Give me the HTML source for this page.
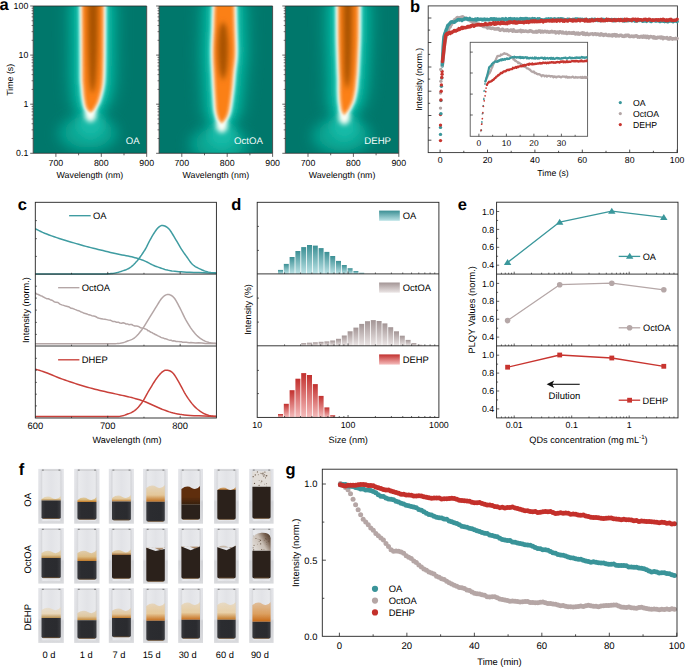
<!DOCTYPE html><html><head><meta charset="utf-8"><style>html,body{margin:0;padding:0;background:#fff;overflow:hidden}svg{display:block}text{font-family:"Liberation Sans",sans-serif;text-rendering:geometricPrecision}</style></head><body><svg width="685" height="668" viewBox="0 0 685 668"><defs><filter id="bl7" x="-50%" y="-50%" width="200%" height="200%"><feGaussianBlur stdDeviation="7"/></filter><filter id="bl4" x="-50%" y="-50%" width="200%" height="200%"><feGaussianBlur stdDeviation="3.5"/></filter><filter id="bl2" x="-50%" y="-50%" width="200%" height="200%"><feGaussianBlur stdDeviation="1.6"/></filter><filter id="bl1" x="-50%" y="-50%" width="200%" height="200%"><feGaussianBlur stdDeviation="0.9"/></filter><filter id="bl5" x="-50%" y="-50%" width="200%" height="200%"><feGaussianBlur stdDeviation="5"/></filter><filter id="bl3" x="-50%" y="-50%" width="200%" height="200%"><feGaussianBlur stdDeviation="2.6"/></filter><clipPath id="ca0"><rect x="33.2" y="6" width="113.5" height="147.3"/></clipPath><clipPath id="ca1"><rect x="159.1" y="6" width="113.5" height="147.3"/></clipPath><clipPath id="ca2"><rect x="285.3" y="6" width="113.5" height="147.3"/></clipPath><linearGradient id="gd0" x1="0" y1="0" x2="0" y2="1"><stop offset="0" stop-color="#3b8f94"/><stop offset="1" stop-color="#bce3e6"/></linearGradient><linearGradient id="gd1" x1="0" y1="0" x2="0" y2="1"><stop offset="0" stop-color="#a39595"/><stop offset="1" stop-color="#ece6e6"/></linearGradient><linearGradient id="gd2" x1="0" y1="0" x2="0" y2="1"><stop offset="0" stop-color="#c2302e"/><stop offset="1" stop-color="#f5bcbc"/></linearGradient><linearGradient id="fbg" x1="0" y1="0" x2="0" y2="1"><stop offset="0" stop-color="#e3e4e8"/><stop offset="0.56" stop-color="#dfe0e4"/><stop offset="0.6" stop-color="#d2d3d7"/><stop offset="1" stop-color="#d9dadd"/></linearGradient><linearGradient id="fgl" x1="0" y1="0" x2="1" y2="0"><stop offset="0" stop-color="#d2d3d7"/><stop offset="0.1" stop-color="#e9eaed"/><stop offset="0.5" stop-color="#e2e3e7"/><stop offset="0.9" stop-color="#e8e9ec"/><stop offset="1" stop-color="#cfd0d4"/></linearGradient><linearGradient id="fdk" x1="0" y1="0" x2="1" y2="0"><stop offset="0" stop-color="#38393d"/><stop offset="0.2" stop-color="#2b2c30"/><stop offset="0.8" stop-color="#2a2b2f"/><stop offset="1" stop-color="#3b3c40"/></linearGradient><linearGradient id="f90" x1="0" y1="0.7" x2="1" y2="0.1"><stop offset="0" stop-color="#e0dbd6"/><stop offset="0.45" stop-color="#c9beb4"/><stop offset="0.75" stop-color="#7a6454"/><stop offset="1" stop-color="#4a3628"/></linearGradient><filter id="fb" x="-20%" y="-20%" width="140%" height="140%"><feGaussianBlur stdDeviation="0.6"/></filter><linearGradient id="fbd00" x1="0" y1="0" x2="0" y2="1"><stop offset="0" stop-color="#e3cfa4" stop-opacity="0.55"/><stop offset="0.6" stop-color="#e3cfa4"/><stop offset="1" stop-color="#b98a45"/></linearGradient><linearGradient id="fbd01" x1="0" y1="0" x2="0" y2="1"><stop offset="0" stop-color="#d9b878" stop-opacity="0.55"/><stop offset="0.6" stop-color="#d9b878"/><stop offset="1" stop-color="#c27a28"/></linearGradient><linearGradient id="fbd02" x1="0" y1="0" x2="0" y2="1"><stop offset="0" stop-color="#e2c89a" stop-opacity="0.55"/><stop offset="0.6" stop-color="#e2c89a"/><stop offset="1" stop-color="#c08035"/></linearGradient><linearGradient id="fbd03" x1="0" y1="0" x2="0" y2="1"><stop offset="0" stop-color="#e4c89a" stop-opacity="0.55"/><stop offset="0.6" stop-color="#e4c89a"/><stop offset="1" stop-color="#c06f1e"/></linearGradient><linearGradient id="fbd04" x1="0" y1="0" x2="0" y2="1"><stop offset="0" stop-color="#5e2e10" stop-opacity="1"/><stop offset="0.6" stop-color="#5e2e10"/><stop offset="1" stop-color="#36200f"/></linearGradient><linearGradient id="fbd05" x1="0" y1="0" x2="0" y2="1"><stop offset="0" stop-color="#c89050" stop-opacity="0.55"/><stop offset="0.6" stop-color="#c89050"/><stop offset="1" stop-color="#7a4a20"/></linearGradient><linearGradient id="fbd06" x1="0" y1="0" x2="0" y2="1"><stop offset="0" stop-color="#5a3a28" stop-opacity="0.55"/><stop offset="0.6" stop-color="#5a3a28"/><stop offset="1" stop-color="#4a3022"/></linearGradient><linearGradient id="fbd10" x1="0" y1="0" x2="0" y2="1"><stop offset="0" stop-color="#e0c898" stop-opacity="0.55"/><stop offset="0.6" stop-color="#e0c898"/><stop offset="1" stop-color="#b88a48"/></linearGradient><linearGradient id="fbd11" x1="0" y1="0" x2="0" y2="1"><stop offset="0" stop-color="#dcbc84" stop-opacity="0.55"/><stop offset="0.6" stop-color="#dcbc84"/><stop offset="1" stop-color="#c07a2a"/></linearGradient><linearGradient id="fbd12" x1="0" y1="0" x2="0" y2="1"><stop offset="0" stop-color="#dcc090" stop-opacity="0.55"/><stop offset="0.6" stop-color="#dcc090"/><stop offset="1" stop-color="#9a6a3a"/></linearGradient><linearGradient id="fbd13" x1="0" y1="0" x2="0" y2="1"><stop offset="0" stop-color="#b09070" stop-opacity="0.55"/><stop offset="0.6" stop-color="#b09070"/><stop offset="1" stop-color="#7a5a40"/></linearGradient><linearGradient id="fbd14" x1="0" y1="0" x2="0" y2="1"><stop offset="0" stop-color="#b09070" stop-opacity="0.55"/><stop offset="0.6" stop-color="#b09070"/><stop offset="1" stop-color="#7a5a40"/></linearGradient><linearGradient id="fbd15" x1="0" y1="0" x2="0" y2="1"><stop offset="0" stop-color="#c8b8a8" stop-opacity="0.55"/><stop offset="0.6" stop-color="#c8b8a8"/><stop offset="1" stop-color="#7a5a40"/></linearGradient><linearGradient id="fbd16" x1="0" y1="0" x2="0" y2="1"><stop offset="0" stop-color="#6a5040" stop-opacity="0.55"/><stop offset="0.6" stop-color="#6a5040"/><stop offset="1" stop-color="#5a4030"/></linearGradient><linearGradient id="fbd20" x1="0" y1="0" x2="0" y2="1"><stop offset="0" stop-color="#e8d8bc" stop-opacity="0.55"/><stop offset="0.6" stop-color="#e8d8bc"/><stop offset="1" stop-color="#b89050"/></linearGradient><linearGradient id="fbd21" x1="0" y1="0" x2="0" y2="1"><stop offset="0" stop-color="#e0c8a0" stop-opacity="0.55"/><stop offset="0.6" stop-color="#e0c8a0"/><stop offset="1" stop-color="#c58a3a"/></linearGradient><linearGradient id="fbd22" x1="0" y1="0" x2="0" y2="1"><stop offset="0" stop-color="#e2c8a0" stop-opacity="0.55"/><stop offset="0.6" stop-color="#e2c8a0"/><stop offset="1" stop-color="#c27a2a"/></linearGradient><linearGradient id="fbd23" x1="0" y1="0" x2="0" y2="1"><stop offset="0" stop-color="#e6c898" stop-opacity="0.55"/><stop offset="0.6" stop-color="#e6c898"/><stop offset="1" stop-color="#c66e1c"/></linearGradient><linearGradient id="fbd24" x1="0" y1="0" x2="0" y2="1"><stop offset="0" stop-color="#e6cca0" stop-opacity="0.55"/><stop offset="0.6" stop-color="#e6cca0"/><stop offset="1" stop-color="#c8701e"/></linearGradient><linearGradient id="fbd25" x1="0" y1="0" x2="0" y2="1"><stop offset="0" stop-color="#e8d0a8" stop-opacity="0.55"/><stop offset="0.6" stop-color="#e8d0a8"/><stop offset="1" stop-color="#c27828"/></linearGradient><linearGradient id="fbd26" x1="0" y1="0" x2="0" y2="1"><stop offset="0" stop-color="#dca060" stop-opacity="0.55"/><stop offset="0.6" stop-color="#dca060"/><stop offset="1" stop-color="#c86a18"/></linearGradient></defs><text x="-0.6" y="10" font-size="16.5" font-weight="bold" fill="#000">a</text>
<text x="410" y="11.8" font-size="16.5" font-weight="bold" fill="#000">b</text>
<text x="17.8" y="210" font-size="16.5" font-weight="bold" fill="#000">c</text>
<text x="231.2" y="210" font-size="16.5" font-weight="bold" fill="#000">d</text>
<text x="457.8" y="209.8" font-size="16.5" font-weight="bold" fill="#000">e</text>
<text x="18.8" y="474.5" font-size="16.5" font-weight="bold" fill="#000">f</text>
<text x="285.6" y="474.5" font-size="16.5" font-weight="bold" fill="#000">g</text>
<g clip-path="url(#ca0)">
<rect x="33.2" y="6" width="113.5" height="147.3" fill="#00776b"/>
<ellipse cx="87.5" cy="134" rx="30" ry="15" fill="#069a88" filter="url(#bl7)"/>
<path d="M66.4,1 L66.39,1.31 L66.38,1.62 L66.38,2.88 L66.4,6 L66.46,11.74 L66.54,19.44 L66.63,27.91 L66.7,36 L66.76,43.88 L66.81,52 L66.86,59.62 L66.9,66 L66.92,70.78 L66.93,74.41 L66.94,77.33 L67,80 L67.11,82.33 L67.27,84.16 L67.44,85.78 L67.6,87.5 L67.74,89.38 L67.87,91.25 L68.01,93.12 L68.2,95 L68.44,96.96 L68.73,98.99 L69.03,100.89 L69.3,102.5 L69.52,103.7 L69.72,104.61 L69.93,105.39 L70.2,106.2 L70.15,106.7 L69.89,106.93 L70.18,107.62 L71.8,109.5 L75.71,113.49 L81.25,118.96 L86.74,124.32 L90.5,128 L94.3,124.32 L99.84,118.96 L105.43,113.49 L109.4,109.5 L111.05,107.62 L111.36,106.93 L111.14,106.7 L111.2,106.2 L111.68,105.39 L112.16,104.61 L112.67,103.7 L113.2,102.5 L113.79,100.89 L114.42,98.99 L115.04,96.96 L115.6,95 L116.09,93.12 L116.54,91.25 L116.95,89.38 L117.3,87.5 L117.59,85.78 L117.82,84.16 L118.02,82.33 L118.2,80 L118.36,77.33 L118.49,74.41 L118.6,70.78 L118.7,66 L118.79,59.62 L118.88,52 L118.94,43.88 L119,36 L119.04,27.91 L119.07,19.44 L119.09,11.74 L119.1,6 L119.11,2.88 L119.11,1.62 L119.1,1.31 L119.1,1Z" fill="#049986" filter="url(#bl7)"/>
<path d="M73.4,1 L73.39,1.31 L73.38,1.62 L73.38,2.88 L73.4,6 L73.46,11.74 L73.54,19.44 L73.63,27.91 L73.7,36 L73.76,43.88 L73.81,52 L73.86,59.62 L73.9,66 L73.92,70.78 L73.93,74.41 L73.94,77.33 L74,80 L74.11,82.33 L74.27,84.16 L74.44,85.78 L74.6,87.5 L74.74,89.38 L74.87,91.25 L75.01,93.12 L75.2,95 L75.44,96.96 L75.73,98.99 L76.03,100.89 L76.3,102.5 L76.52,103.7 L76.72,104.61 L76.93,105.39 L77.2,106.2 L77.31,106.86 L77.33,107.36 L77.67,108.11 L78.8,109.5 L81.29,112.07 L84.75,115.46 L88.16,118.74 L90.5,121 L92.88,118.74 L96.34,115.46 L99.86,112.07 L102.4,109.5 L103.56,108.11 L103.92,107.36 L103.97,106.86 L104.2,106.2 L104.68,105.39 L105.16,104.61 L105.67,103.7 L106.2,102.5 L106.79,100.89 L107.42,98.99 L108.04,96.96 L108.6,95 L109.09,93.12 L109.54,91.25 L109.95,89.38 L110.3,87.5 L110.59,85.78 L110.82,84.16 L111.02,82.33 L111.2,80 L111.36,77.33 L111.49,74.41 L111.6,70.78 L111.7,66 L111.79,59.62 L111.88,52 L111.94,43.88 L112,36 L112.04,27.91 L112.07,19.44 L112.09,11.74 L112.1,6 L112.11,2.88 L112.11,1.62 L112.1,1.31 L112.1,1Z" fill="#0ab7a3" filter="url(#bl5)"/>
<ellipse cx="88.5" cy="132" rx="24" ry="16" fill="#0aa995" filter="url(#bl7)"/>
<ellipse cx="90.5" cy="124" rx="13" ry="13" fill="#14bba8" filter="url(#bl5)"/>
<path d="M77.9,1 L77.89,1.31 L77.88,1.62 L77.88,2.88 L77.9,6 L77.96,11.74 L78.04,19.44 L78.13,27.91 L78.2,36 L78.26,43.88 L78.31,52 L78.36,59.62 L78.4,66 L78.42,70.78 L78.43,74.41 L78.44,77.33 L78.5,80 L78.61,82.33 L78.77,84.16 L78.94,85.78 L79.1,87.5 L79.24,89.38 L79.37,91.25 L79.51,93.12 L79.7,95 L79.94,96.96 L80.23,98.99 L80.53,100.89 L80.8,102.5 L81.02,103.7 L81.22,104.61 L81.43,105.39 L81.7,106.2 L81.92,106.97 L82.11,107.64 L82.49,108.42 L83.3,109.5 L84.88,111.15 L87,113.21 L89.08,115.16 L90.5,116.5 L91.96,115.16 L94.09,113.21 L96.27,111.15 L97.9,109.5 L98.74,108.42 L99.14,107.64 L99.37,106.97 L99.7,106.2 L100.18,105.39 L100.66,104.61 L101.17,103.7 L101.7,102.5 L102.29,100.89 L102.92,98.99 L103.54,96.96 L104.1,95 L104.59,93.12 L105.04,91.25 L105.45,89.38 L105.8,87.5 L106.09,85.78 L106.32,84.16 L106.52,82.33 L106.7,80 L106.86,77.33 L106.99,74.41 L107.1,70.78 L107.2,66 L107.29,59.62 L107.38,52 L107.44,43.88 L107.5,36 L107.54,27.91 L107.57,19.44 L107.59,11.74 L107.6,6 L107.61,2.88 L107.61,1.62 L107.6,1.31 L107.6,1Z" fill="#1ccab7" filter="url(#bl3)"/>
<path d="M78.8,1 L78.79,1.31 L78.78,1.62 L78.78,2.88 L78.8,6 L78.86,11.74 L78.94,19.44 L79.03,27.91 L79.1,36 L79.16,43.88 L79.21,52 L79.26,59.62 L79.3,66 L79.32,70.78 L79.33,74.41 L79.34,77.33 L79.4,80 L79.51,82.33 L79.67,84.16 L79.84,85.78 L80,87.5 L80.14,89.38 L80.27,91.25 L80.41,93.12 L80.6,95 L80.84,96.96 L81.13,98.99 L81.43,100.89 L81.7,102.5 L81.92,103.7 L82.12,104.61 L82.33,105.39 L82.6,106.2 L82.84,106.99 L83.06,107.7 L83.45,108.49 L84.2,109.5 L85.59,110.97 L87.45,112.76 L89.26,114.44 L90.5,115.6 L91.78,114.44 L93.64,112.76 L95.55,110.97 L97,109.5 L97.78,108.49 L98.18,107.7 L98.45,106.99 L98.8,106.2 L99.28,105.39 L99.76,104.61 L100.27,103.7 L100.8,102.5 L101.39,100.89 L102.02,98.99 L102.64,96.96 L103.2,95 L103.69,93.12 L104.14,91.25 L104.55,89.38 L104.9,87.5 L105.19,85.78 L105.42,84.16 L105.62,82.33 L105.8,80 L105.96,77.33 L106.09,74.41 L106.2,70.78 L106.3,66 L106.39,59.62 L106.47,52 L106.54,43.88 L106.6,36 L106.64,27.91 L106.67,19.44 L106.69,11.74 L106.7,6 L106.71,2.88 L106.71,1.62 L106.7,1.31 L106.7,1Z" fill="#86e2d6" filter="url(#bl2)"/>
<ellipse cx="90.5" cy="114" rx="6" ry="8" fill="#fbfff6" filter="url(#bl3)"/>
<path d="M79.9,1 L79.89,1.31 L79.88,1.62 L79.88,2.88 L79.9,6 L79.96,11.74 L80.04,19.44 L80.13,27.91 L80.2,36 L80.26,43.88 L80.31,52 L80.36,59.62 L80.4,66 L80.42,70.78 L80.43,74.41 L80.44,77.33 L80.5,80 L80.61,82.33 L80.77,84.16 L80.94,85.78 L81.1,87.5 L81.24,89.38 L81.37,91.25 L81.51,93.12 L81.7,95 L81.94,96.96 L82.23,98.99 L82.53,100.89 L82.8,102.5 L83.02,103.7 L83.22,104.61 L83.43,105.39 L83.7,106.2 L83.97,107.01 L84.23,107.77 L84.63,108.56 L85.3,109.5 L86.47,110.75 L88,112.21 L89.48,113.56 L90.5,114.5 L91.55,113.56 L93.09,112.21 L94.68,110.75 L95.9,109.5 L96.6,108.56 L97.01,107.77 L97.32,107.01 L97.7,106.2 L98.18,105.39 L98.66,104.61 L99.17,103.7 L99.7,102.5 L100.29,100.89 L100.92,98.99 L101.54,96.96 L102.1,95 L102.59,93.12 L103.04,91.25 L103.45,89.38 L103.8,87.5 L104.09,85.78 L104.32,84.16 L104.52,82.33 L104.7,80 L104.86,77.33 L104.99,74.41 L105.1,70.78 L105.2,66 L105.29,59.62 L105.38,52 L105.44,43.88 L105.5,36 L105.54,27.91 L105.57,19.44 L105.59,11.74 L105.6,6 L105.61,2.88 L105.61,1.62 L105.6,1.31 L105.6,1Z" fill="#f8fcf4" filter="url(#bl2)"/>
<path d="M81.5,1 L81.49,1.31 L81.48,1.62 L81.48,2.88 L81.5,6 L81.56,11.74 L81.64,19.44 L81.72,27.91 L81.8,36 L81.86,43.88 L81.91,52 L81.96,59.62 L82,66 L82.02,70.78 L82.02,74.41 L82.04,77.33 L82.1,80 L82.21,82.33 L82.37,84.16 L82.54,85.78 L82.7,87.5 L82.84,89.38 L82.97,91.25 L83.11,93.12 L83.3,95 L83.54,96.96 L83.83,98.99 L84.13,100.89 L84.4,102.5 L84.62,103.7 L84.82,104.61 L85.03,105.39 L85.3,106.2 L85.6,107.05 L85.93,107.87 L86.34,108.68 L86.9,109.5 L87.74,110.42 L88.8,111.41 L89.81,112.29 L90.5,112.9 L91.23,112.29 L92.29,111.41 L93.4,110.42 L94.3,109.5 L94.89,108.68 L95.31,107.87 L95.68,107.05 L96.1,106.2 L96.58,105.39 L97.06,104.61 L97.57,103.7 L98.1,102.5 L98.69,100.89 L99.32,98.99 L99.94,96.96 L100.5,95 L100.99,93.12 L101.44,91.25 L101.85,89.38 L102.2,87.5 L102.49,85.78 L102.73,84.16 L102.92,82.33 L103.1,80 L103.26,77.33 L103.39,74.41 L103.5,70.78 L103.6,66 L103.69,59.62 L103.78,52 L103.84,43.88 L103.9,36 L103.94,27.91 L103.97,19.44 L103.99,11.74 L104,6 L104.01,2.88 L104.01,1.62 L104,1.31 L104,1Z" fill="#fdc895" filter="url(#bl1)"/>
<path d="M83,1 L82.99,1.31 L82.98,1.62 L82.98,2.88 L83,6 L83.06,11.74 L83.14,19.44 L83.22,27.91 L83.3,36 L83.36,43.88 L83.41,52 L83.46,59.62 L83.5,66 L83.52,70.78 L83.52,74.41 L83.54,77.33 L83.6,80 L83.71,82.33 L83.87,84.16 L84.04,85.78 L84.2,87.5 L84.34,89.38 L84.47,91.25 L84.61,93.12 L84.8,95 L85.04,96.96 L85.33,98.99 L85.63,100.89 L85.9,102.5 L86.12,103.7 L86.32,104.61 L86.53,105.39 L86.8,106.2 L87.14,107.09 L87.52,107.96 L87.95,108.78 L88.4,109.5 L88.94,110.12 L89.55,110.66 L90.11,111.09 L90.5,111.4 L90.92,111.09 L91.54,110.66 L92.21,110.12 L92.8,109.5 L93.28,108.78 L93.72,107.96 L94.15,107.09 L94.6,106.2 L95.08,105.39 L95.56,104.61 L96.07,103.7 L96.6,102.5 L97.19,100.89 L97.82,98.99 L98.44,96.96 L99,95 L99.49,93.12 L99.94,91.25 L100.35,89.38 L100.7,87.5 L100.99,85.78 L101.23,84.16 L101.42,82.33 L101.6,80 L101.76,77.33 L101.89,74.41 L102,70.78 L102.1,66 L102.19,59.62 L102.28,52 L102.34,43.88 L102.4,36 L102.44,27.91 L102.47,19.44 L102.49,11.74 L102.5,6 L102.51,2.88 L102.51,1.62 L102.5,1.31 L102.5,1Z" fill="#fb8016" filter="url(#bl2)"/>
<path d="M87.7,1 L87.69,1.08 L87.67,1 L87.66,2.17 L87.7,6 L87.78,13.77 L87.89,24.44 L88.03,35.88 L88.2,46 L88.41,54.62 L88.65,62.75 L88.92,70 L89.2,76 L89.49,80.41 L89.81,83.5 L90.14,85.84 L90.5,88 L90.94,90.06 L91.43,91.75 L91.89,93.06 L92.2,94 L92.63,93.06 L93.24,91.75 L93.91,90.06 L94.5,88 L94.97,85.84 L95.4,83.5 L95.8,80.41 L96.2,76 L96.61,70 L97.03,62.75 L97.4,54.62 L97.7,46 L97.91,35.88 L98.04,24.44 L98.13,13.77 L98.2,6 L98.24,2.17 L98.23,1 L98.21,1.08 L98.2,1Z" fill="#a95306" filter="url(#bl3)"/>
</g>
<path d="M33.2,6H146.7V153.3H33.2Z" fill="none" stroke="#2a2a2a" stroke-width="0.8"/>
<line x1="31.6" y1="138.52" x2="33.2" y2="138.52" stroke="#222" stroke-width="0.6"/>
<line x1="31.6" y1="129.87" x2="33.2" y2="129.87" stroke="#222" stroke-width="0.6"/>
<line x1="31.6" y1="123.74" x2="33.2" y2="123.74" stroke="#222" stroke-width="0.6"/>
<line x1="31.6" y1="118.98" x2="33.2" y2="118.98" stroke="#222" stroke-width="0.6"/>
<line x1="31.6" y1="115.09" x2="33.2" y2="115.09" stroke="#222" stroke-width="0.6"/>
<line x1="31.6" y1="111.81" x2="33.2" y2="111.81" stroke="#222" stroke-width="0.6"/>
<line x1="31.6" y1="108.96" x2="33.2" y2="108.96" stroke="#222" stroke-width="0.6"/>
<line x1="31.6" y1="106.45" x2="33.2" y2="106.45" stroke="#222" stroke-width="0.6"/>
<line x1="31.6" y1="89.42" x2="33.2" y2="89.42" stroke="#222" stroke-width="0.6"/>
<line x1="31.6" y1="80.77" x2="33.2" y2="80.77" stroke="#222" stroke-width="0.6"/>
<line x1="31.6" y1="74.64" x2="33.2" y2="74.64" stroke="#222" stroke-width="0.6"/>
<line x1="31.6" y1="69.88" x2="33.2" y2="69.88" stroke="#222" stroke-width="0.6"/>
<line x1="31.6" y1="65.99" x2="33.2" y2="65.99" stroke="#222" stroke-width="0.6"/>
<line x1="31.6" y1="62.71" x2="33.2" y2="62.71" stroke="#222" stroke-width="0.6"/>
<line x1="31.6" y1="59.86" x2="33.2" y2="59.86" stroke="#222" stroke-width="0.6"/>
<line x1="31.6" y1="57.35" x2="33.2" y2="57.35" stroke="#222" stroke-width="0.6"/>
<line x1="31.6" y1="40.32" x2="33.2" y2="40.32" stroke="#222" stroke-width="0.6"/>
<line x1="31.6" y1="31.67" x2="33.2" y2="31.67" stroke="#222" stroke-width="0.6"/>
<line x1="31.6" y1="25.54" x2="33.2" y2="25.54" stroke="#222" stroke-width="0.6"/>
<line x1="31.6" y1="20.78" x2="33.2" y2="20.78" stroke="#222" stroke-width="0.6"/>
<line x1="31.6" y1="16.89" x2="33.2" y2="16.89" stroke="#222" stroke-width="0.6"/>
<line x1="31.6" y1="13.61" x2="33.2" y2="13.61" stroke="#222" stroke-width="0.6"/>
<line x1="31.6" y1="10.76" x2="33.2" y2="10.76" stroke="#222" stroke-width="0.6"/>
<line x1="31.6" y1="8.25" x2="33.2" y2="8.25" stroke="#222" stroke-width="0.6"/>
<line x1="30.2" y1="153.3" x2="33.2" y2="153.3" stroke="#222" stroke-width="0.7"/>
<line x1="30.2" y1="104.2" x2="33.2" y2="104.2" stroke="#222" stroke-width="0.7"/>
<line x1="30.2" y1="55.1" x2="33.2" y2="55.1" stroke="#222" stroke-width="0.7"/>
<line x1="30.2" y1="6" x2="33.2" y2="6" stroke="#222" stroke-width="0.7"/>
<line x1="55.9" y1="153.3" x2="55.9" y2="156.9" stroke="#222" stroke-width="0.7"/>
<text x="55.9" y="166" font-size="8.8" text-anchor="middle">700</text>
<line x1="78.6" y1="153.3" x2="78.6" y2="155.3" stroke="#222" stroke-width="0.7"/>
<line x1="101.3" y1="153.3" x2="101.3" y2="156.9" stroke="#222" stroke-width="0.7"/>
<text x="101.3" y="166" font-size="8.8" text-anchor="middle">800</text>
<line x1="124" y1="153.3" x2="124" y2="155.3" stroke="#222" stroke-width="0.7"/>
<line x1="146.7" y1="153.3" x2="146.7" y2="156.9" stroke="#222" stroke-width="0.7"/>
<text x="146.7" y="166" font-size="8.8" text-anchor="middle">900</text>
<text x="89.95" y="178.2" font-size="8.8" text-anchor="middle">Wavelength (nm)</text>
<text x="139.6" y="144.4" font-size="9.6" text-anchor="end" fill="#f4fbfa">OA</text>
<g clip-path="url(#ca1)">
<rect x="159.1" y="6" width="113.5" height="147.3" fill="#00776b"/>
<ellipse cx="218.8" cy="144.8" rx="30" ry="15" fill="#069a88" filter="url(#bl7)"/>
<path d="M199.1,1 L199.11,1.73 L199.12,2.75 L199.13,4.14 L199.1,6 L199.03,8.51 L198.92,11.56 L198.8,14.84 L198.7,18 L198.63,20.91 L198.57,23.75 L198.5,26.72 L198.4,30 L198.24,33.81 L198.03,38 L197.84,42.19 L197.7,46 L197.64,49.23 L197.62,52.12 L197.64,54.95 L197.7,58 L197.81,61.36 L197.96,64.88 L198.13,68.45 L198.3,72 L198.47,75.55 L198.64,79.12 L198.82,82.64 L199,86 L199.17,89.14 L199.34,92.12 L199.51,95.05 L199.7,98 L199.9,101.14 L200.11,104.38 L200.34,107.42 L200.6,110 L200.89,111.97 L201.21,113.51 L201.55,114.8 L201.9,116 L201.86,116.75 L201.58,117.09 L201.83,117.83 L203.4,119.8 L207.24,123.93 L212.69,129.54 L218.1,135.03 L221.8,138.8 L225.52,135.03 L230.96,129.54 L236.46,123.93 L240.4,119.8 L242.13,117.83 L242.6,117.09 L242.54,116.75 L242.7,116 L243.19,114.8 L243.63,113.51 L244.06,111.97 L244.5,110 L244.96,107.42 L245.43,104.38 L245.88,101.14 L246.3,98 L246.68,95.05 L247.04,92.12 L247.37,89.14 L247.7,86 L248,82.64 L248.29,79.12 L248.58,75.55 L248.9,72 L249.3,68.45 L249.76,64.88 L250.19,61.36 L250.5,58 L250.66,54.95 L250.73,52.12 L250.73,49.23 L250.7,46 L250.62,42.19 L250.48,38 L250.33,33.81 L250.2,30 L250.11,26.72 L250.03,23.75 L249.96,20.91 L249.9,18 L249.84,14.84 L249.78,11.56 L249.73,8.51 L249.7,6 L249.69,4.14 L249.69,2.75 L249.7,1.73 L249.7,1Z" fill="#049986" filter="url(#bl7)"/>
<path d="M206.1,1 L206.11,1.73 L206.12,2.75 L206.13,4.14 L206.1,6 L206.03,8.51 L205.92,11.56 L205.8,14.84 L205.7,18 L205.63,20.91 L205.57,23.75 L205.5,26.72 L205.4,30 L205.24,33.81 L205.03,38 L204.84,42.19 L204.7,46 L204.64,49.23 L204.62,52.12 L204.64,54.95 L204.7,58 L204.81,61.36 L204.96,64.88 L205.13,68.45 L205.3,72 L205.47,75.55 L205.64,79.12 L205.82,82.64 L206,86 L206.17,89.14 L206.34,92.12 L206.51,95.05 L206.7,98 L206.9,101.14 L207.11,104.38 L207.34,107.42 L207.6,110 L207.89,111.97 L208.21,113.51 L208.55,114.8 L208.9,116 L209.03,116.91 L209.02,117.53 L209.32,118.33 L210.4,119.8 L212.82,122.5 L216.19,126.04 L219.52,129.45 L221.8,131.8 L224.1,129.45 L227.46,126.04 L230.88,122.5 L233.4,119.8 L234.64,118.32 L235.16,117.52 L235.38,116.91 L235.7,116 L236.19,114.8 L236.63,113.51 L237.06,111.97 L237.5,110 L237.96,107.42 L238.43,104.38 L238.88,101.14 L239.3,98 L239.68,95.05 L240.04,92.12 L240.37,89.14 L240.7,86 L241,82.64 L241.29,79.12 L241.58,75.55 L241.9,72 L242.3,68.45 L242.76,64.88 L243.19,61.36 L243.5,58 L243.66,54.95 L243.73,52.12 L243.73,49.23 L243.7,46 L243.62,42.19 L243.48,38 L243.33,33.81 L243.2,30 L243.11,26.72 L243.03,23.75 L242.96,20.91 L242.9,18 L242.84,14.84 L242.78,11.56 L242.73,8.51 L242.7,6 L242.69,4.14 L242.69,2.75 L242.7,1.73 L242.7,1Z" fill="#0ab7a3" filter="url(#bl5)"/>
<ellipse cx="219.8" cy="142.8" rx="24" ry="16" fill="#0aa995" filter="url(#bl7)"/>
<ellipse cx="221.8" cy="134.8" rx="13" ry="13" fill="#14bba8" filter="url(#bl5)"/>
<path d="M210.6,1 L210.61,1.73 L210.62,2.75 L210.63,4.14 L210.6,6 L210.53,8.51 L210.42,11.56 L210.3,14.84 L210.2,18 L210.13,20.91 L210.07,23.75 L210,26.72 L209.9,30 L209.74,33.81 L209.53,38 L209.34,42.19 L209.2,46 L209.14,49.23 L209.12,52.12 L209.14,54.95 L209.2,58 L209.31,61.36 L209.46,64.88 L209.63,68.45 L209.8,72 L209.97,75.55 L210.14,79.12 L210.32,82.64 L210.5,86 L210.67,89.14 L210.84,92.12 L211.01,95.05 L211.2,98 L211.4,101.14 L211.61,104.38 L211.84,107.42 L212.1,110 L212.39,111.97 L212.71,113.51 L213.05,114.8 L213.4,116 L213.63,117.02 L213.8,117.81 L214.14,118.64 L214.9,119.8 L216.41,121.59 L218.44,123.79 L220.43,125.87 L221.8,127.3 L223.19,125.87 L225.21,123.79 L227.3,121.59 L228.9,119.8 L229.82,118.64 L230.38,117.81 L230.77,117.02 L231.2,116 L231.69,114.8 L232.13,113.51 L232.56,111.97 L233,110 L233.46,107.42 L233.93,104.38 L234.38,101.14 L234.8,98 L235.18,95.05 L235.54,92.12 L235.87,89.14 L236.2,86 L236.5,82.64 L236.79,79.12 L237.08,75.55 L237.4,72 L237.8,68.45 L238.26,64.88 L238.69,61.36 L239,58 L239.16,54.95 L239.23,52.12 L239.23,49.23 L239.2,46 L239.12,42.19 L238.98,38 L238.83,33.81 L238.7,30 L238.61,26.72 L238.53,23.75 L238.46,20.91 L238.4,18 L238.34,14.84 L238.28,11.56 L238.23,8.51 L238.2,6 L238.19,4.14 L238.19,2.75 L238.2,1.73 L238.2,1Z" fill="#1ccab7" filter="url(#bl3)"/>
<path d="M211.5,1 L211.51,1.73 L211.53,2.75 L211.53,4.14 L211.5,6 L211.43,8.51 L211.32,11.56 L211.2,14.84 L211.1,18 L211.03,20.91 L210.97,23.75 L210.9,26.72 L210.8,30 L210.64,33.81 L210.43,38 L210.24,42.19 L210.1,46 L210.04,49.23 L210.02,52.12 L210.04,54.95 L210.1,58 L210.21,61.36 L210.36,64.88 L210.53,68.45 L210.7,72 L210.87,75.55 L211.04,79.12 L211.22,82.64 L211.4,86 L211.57,89.14 L211.74,92.12 L211.91,95.05 L212.1,98 L212.3,101.14 L212.51,104.38 L212.74,107.42 L213,110 L213.29,111.97 L213.61,113.51 L213.95,114.8 L214.3,116 L214.56,117.04 L214.76,117.86 L215.1,118.7 L215.8,119.8 L217.12,121.41 L218.89,123.34 L220.62,125.15 L221.8,126.4 L223.01,125.15 L224.76,123.34 L226.58,121.41 L228,119.8 L228.86,118.7 L229.43,117.86 L229.85,117.04 L230.3,116 L230.79,114.8 L231.23,113.51 L231.66,111.97 L232.1,110 L232.56,107.42 L233.02,104.38 L233.48,101.14 L233.9,98 L234.28,95.05 L234.64,92.12 L234.97,89.14 L235.3,86 L235.6,82.64 L235.89,79.12 L236.18,75.55 L236.5,72 L236.9,68.45 L237.36,64.88 L237.79,61.36 L238.1,58 L238.26,54.95 L238.33,52.12 L238.33,49.23 L238.3,46 L238.22,42.19 L238.08,38 L237.93,33.81 L237.8,30 L237.71,26.72 L237.63,23.75 L237.56,20.91 L237.5,18 L237.44,14.84 L237.38,11.56 L237.33,8.51 L237.3,6 L237.29,4.14 L237.29,2.75 L237.3,1.73 L237.3,1Z" fill="#86e2d6" filter="url(#bl2)"/>
<ellipse cx="221.8" cy="124.8" rx="6" ry="8" fill="#fbfff6" filter="url(#bl3)"/>
<path d="M212.6,1 L212.61,1.73 L212.62,2.75 L212.63,4.14 L212.6,6 L212.53,8.51 L212.42,11.56 L212.3,14.84 L212.2,18 L212.13,20.91 L212.07,23.75 L212,26.72 L211.9,30 L211.74,33.81 L211.53,38 L211.34,42.19 L211.2,46 L211.14,49.23 L211.12,52.12 L211.14,54.95 L211.2,58 L211.31,61.36 L211.46,64.88 L211.63,68.45 L211.8,72 L211.97,75.55 L212.14,79.12 L212.32,82.64 L212.5,86 L212.67,89.14 L212.84,92.12 L213.01,95.05 L213.2,98 L213.4,101.14 L213.61,104.38 L213.84,107.42 L214.1,110 L214.39,111.97 L214.71,113.51 L215.05,114.8 L215.4,116 L215.68,117.06 L215.92,117.93 L216.28,118.78 L216.9,119.8 L218,121.18 L219.44,122.79 L220.84,124.27 L221.8,125.3 L222.78,124.27 L224.21,122.79 L225.7,121.18 L226.9,119.8 L227.68,118.78 L228.26,117.93 L228.73,117.06 L229.2,116 L229.69,114.8 L230.13,113.51 L230.56,111.97 L231,110 L231.46,107.42 L231.93,104.38 L232.38,101.14 L232.8,98 L233.18,95.05 L233.54,92.12 L233.87,89.14 L234.2,86 L234.5,82.64 L234.79,79.12 L235.08,75.55 L235.4,72 L235.8,68.45 L236.26,64.88 L236.69,61.36 L237,58 L237.16,54.95 L237.23,52.12 L237.23,49.23 L237.2,46 L237.12,42.19 L236.98,38 L236.83,33.81 L236.7,30 L236.61,26.72 L236.53,23.75 L236.46,20.91 L236.4,18 L236.34,14.84 L236.28,11.56 L236.23,8.51 L236.2,6 L236.19,4.14 L236.19,2.75 L236.2,1.73 L236.2,1Z" fill="#f8fcf4" filter="url(#bl2)"/>
<path d="M214.2,1 L214.21,1.73 L214.22,2.75 L214.23,4.14 L214.2,6 L214.13,8.51 L214.02,11.56 L213.9,14.84 L213.8,18 L213.73,20.91 L213.67,23.75 L213.6,26.72 L213.5,30 L213.34,33.81 L213.13,38 L212.94,42.19 L212.8,46 L212.74,49.23 L212.72,52.12 L212.74,54.95 L212.8,58 L212.91,61.36 L213.06,64.88 L213.23,68.45 L213.4,72 L213.57,75.55 L213.74,79.12 L213.92,82.64 L214.1,86 L214.27,89.14 L214.44,92.12 L214.61,95.05 L214.8,98 L215,101.14 L215.21,104.38 L215.44,107.42 L215.7,110 L215.99,111.97 L216.31,113.51 L216.65,114.8 L217,116 L217.32,117.1 L217.62,118.03 L217.99,118.89 L218.5,119.8 L219.28,120.86 L220.24,121.99 L221.16,123 L221.8,123.7 L222.46,123 L223.41,121.99 L224.43,120.86 L225.3,119.8 L225.97,118.89 L226.56,118.03 L227.09,117.1 L227.6,116 L228.09,114.8 L228.53,113.51 L228.96,111.97 L229.4,110 L229.86,107.42 L230.33,104.38 L230.78,101.14 L231.2,98 L231.58,95.05 L231.94,92.12 L232.27,89.14 L232.6,86 L232.9,82.64 L233.19,79.12 L233.48,75.55 L233.8,72 L234.2,68.45 L234.66,64.88 L235.09,61.36 L235.4,58 L235.56,54.95 L235.63,52.12 L235.63,49.23 L235.6,46 L235.52,42.19 L235.38,38 L235.23,33.81 L235.1,30 L235.01,26.72 L234.93,23.75 L234.86,20.91 L234.8,18 L234.74,14.84 L234.68,11.56 L234.63,8.51 L234.6,6 L234.59,4.14 L234.59,2.75 L234.6,1.73 L234.6,1Z" fill="#fdc895" filter="url(#bl1)"/>
<path d="M215.7,1 L215.71,1.73 L215.72,2.75 L215.73,4.14 L215.7,6 L215.63,8.51 L215.52,11.56 L215.4,14.84 L215.3,18 L215.23,20.91 L215.17,23.75 L215.1,26.72 L215,30 L214.84,33.81 L214.63,38 L214.44,42.19 L214.3,46 L214.24,49.23 L214.22,52.12 L214.24,54.95 L214.3,58 L214.41,61.36 L214.56,64.88 L214.73,68.45 L214.9,72 L215.07,75.55 L215.24,79.12 L215.42,82.64 L215.6,86 L215.77,89.14 L215.94,92.12 L216.11,95.05 L216.3,98 L216.5,101.14 L216.71,104.38 L216.94,107.42 L217.2,110 L217.49,111.97 L217.81,113.51 L218.15,114.8 L218.5,116 L218.85,117.14 L219.22,118.12 L219.6,119 L220,119.8 L220.47,120.55 L220.99,121.24 L221.47,121.8 L221.8,122.2 L222.15,121.8 L222.66,121.24 L223.23,120.55 L223.8,119.8 L224.37,119 L224.96,118.12 L225.55,117.14 L226.1,116 L226.59,114.8 L227.03,113.51 L227.46,111.97 L227.9,110 L228.36,107.42 L228.83,104.38 L229.28,101.14 L229.7,98 L230.08,95.05 L230.44,92.12 L230.77,89.14 L231.1,86 L231.4,82.64 L231.69,79.12 L231.98,75.55 L232.3,72 L232.7,68.45 L233.16,64.88 L233.59,61.36 L233.9,58 L234.06,54.95 L234.13,52.12 L234.13,49.23 L234.1,46 L234.02,42.19 L233.88,38 L233.73,33.81 L233.6,30 L233.51,26.72 L233.43,23.75 L233.36,20.91 L233.3,18 L233.24,14.84 L233.18,11.56 L233.13,8.51 L233.1,6 L233.09,4.14 L233.09,2.75 L233.1,1.73 L233.1,1Z" fill="#fb8016" filter="url(#bl2)"/>
<path d="M223.1,21 L219.6,28 L219.3,30.29 L218.85,33.56 L218.4,37.3 L218.1,41 L217.96,44.61 L217.91,48.38 L217.96,52.2 L218.1,56 L218.32,59.87 L218.63,63.81 L219.05,67.6 L219.6,71 L220.42,74.09 L221.44,76.94 L222.42,79.32 L223.1,81 L223.78,79.32 L224.76,76.94 L225.78,74.09 L226.6,71 L227.15,67.6 L227.57,63.81 L227.88,59.87 L228.1,56 L228.24,52.2 L228.29,48.38 L228.24,44.61 L228.1,41 L227.8,37.3 L227.35,33.56 L226.9,30.29 L226.6,28Z" fill="#a95306" filter="url(#bl3)"/>
</g>
<path d="M159.1,6H272.6V153.3H159.1Z" fill="none" stroke="#2a2a2a" stroke-width="0.8"/>
<line x1="157.5" y1="138.52" x2="159.1" y2="138.52" stroke="#222" stroke-width="0.6"/>
<line x1="157.5" y1="129.87" x2="159.1" y2="129.87" stroke="#222" stroke-width="0.6"/>
<line x1="157.5" y1="123.74" x2="159.1" y2="123.74" stroke="#222" stroke-width="0.6"/>
<line x1="157.5" y1="118.98" x2="159.1" y2="118.98" stroke="#222" stroke-width="0.6"/>
<line x1="157.5" y1="115.09" x2="159.1" y2="115.09" stroke="#222" stroke-width="0.6"/>
<line x1="157.5" y1="111.81" x2="159.1" y2="111.81" stroke="#222" stroke-width="0.6"/>
<line x1="157.5" y1="108.96" x2="159.1" y2="108.96" stroke="#222" stroke-width="0.6"/>
<line x1="157.5" y1="106.45" x2="159.1" y2="106.45" stroke="#222" stroke-width="0.6"/>
<line x1="157.5" y1="89.42" x2="159.1" y2="89.42" stroke="#222" stroke-width="0.6"/>
<line x1="157.5" y1="80.77" x2="159.1" y2="80.77" stroke="#222" stroke-width="0.6"/>
<line x1="157.5" y1="74.64" x2="159.1" y2="74.64" stroke="#222" stroke-width="0.6"/>
<line x1="157.5" y1="69.88" x2="159.1" y2="69.88" stroke="#222" stroke-width="0.6"/>
<line x1="157.5" y1="65.99" x2="159.1" y2="65.99" stroke="#222" stroke-width="0.6"/>
<line x1="157.5" y1="62.71" x2="159.1" y2="62.71" stroke="#222" stroke-width="0.6"/>
<line x1="157.5" y1="59.86" x2="159.1" y2="59.86" stroke="#222" stroke-width="0.6"/>
<line x1="157.5" y1="57.35" x2="159.1" y2="57.35" stroke="#222" stroke-width="0.6"/>
<line x1="157.5" y1="40.32" x2="159.1" y2="40.32" stroke="#222" stroke-width="0.6"/>
<line x1="157.5" y1="31.67" x2="159.1" y2="31.67" stroke="#222" stroke-width="0.6"/>
<line x1="157.5" y1="25.54" x2="159.1" y2="25.54" stroke="#222" stroke-width="0.6"/>
<line x1="157.5" y1="20.78" x2="159.1" y2="20.78" stroke="#222" stroke-width="0.6"/>
<line x1="157.5" y1="16.89" x2="159.1" y2="16.89" stroke="#222" stroke-width="0.6"/>
<line x1="157.5" y1="13.61" x2="159.1" y2="13.61" stroke="#222" stroke-width="0.6"/>
<line x1="157.5" y1="10.76" x2="159.1" y2="10.76" stroke="#222" stroke-width="0.6"/>
<line x1="157.5" y1="8.25" x2="159.1" y2="8.25" stroke="#222" stroke-width="0.6"/>
<line x1="156.1" y1="153.3" x2="159.1" y2="153.3" stroke="#222" stroke-width="0.7"/>
<line x1="156.1" y1="104.2" x2="159.1" y2="104.2" stroke="#222" stroke-width="0.7"/>
<line x1="156.1" y1="55.1" x2="159.1" y2="55.1" stroke="#222" stroke-width="0.7"/>
<line x1="156.1" y1="6" x2="159.1" y2="6" stroke="#222" stroke-width="0.7"/>
<line x1="181.8" y1="153.3" x2="181.8" y2="156.9" stroke="#222" stroke-width="0.7"/>
<text x="181.8" y="166" font-size="8.8" text-anchor="middle">700</text>
<line x1="204.5" y1="153.3" x2="204.5" y2="155.3" stroke="#222" stroke-width="0.7"/>
<line x1="227.2" y1="153.3" x2="227.2" y2="156.9" stroke="#222" stroke-width="0.7"/>
<text x="227.2" y="166" font-size="8.8" text-anchor="middle">800</text>
<line x1="249.9" y1="153.3" x2="249.9" y2="155.3" stroke="#222" stroke-width="0.7"/>
<line x1="272.6" y1="153.3" x2="272.6" y2="156.9" stroke="#222" stroke-width="0.7"/>
<text x="272.6" y="166" font-size="8.8" text-anchor="middle">900</text>
<text x="215.85" y="178.2" font-size="8.8" text-anchor="middle">Wavelength (nm)</text>
<text x="262.8" y="144.4" font-size="9.6" text-anchor="end" fill="#f4fbfa">OctOA</text>
<g clip-path="url(#ca2)">
<rect x="285.3" y="6" width="113.5" height="147.3" fill="#00776b"/>
<ellipse cx="341.3" cy="136.7" rx="30" ry="15" fill="#069a88" filter="url(#bl7)"/>
<path d="M322.6,1 L322.6,1.31 L322.59,1.62 L322.59,2.88 L322.6,6 L322.63,11.98 L322.67,20.06 L322.72,28.62 L322.8,36 L322.9,41.8 L323.03,46.88 L323.17,51.52 L323.3,56 L323.43,60.47 L323.56,64.75 L323.69,68.66 L323.8,72 L323.9,74.52 L323.98,76.38 L324.05,78.05 L324.1,80 L324.11,82.36 L324.09,84.88 L324.08,87.45 L324.1,90 L324.17,92.62 L324.26,95.31 L324.38,97.85 L324.5,100 L324.64,101.62 L324.79,102.88 L324.95,103.94 L325.1,105 L325.24,106.09 L325.38,107.12 L325.52,108.09 L325.7,109 L325.53,109.45 L325.14,109.58 L325.27,110.17 L326.7,112 L330.35,116.01 L335.56,121.54 L340.75,126.97 L344.3,130.7 L347.86,126.97 L353.05,121.54 L358.32,116.01 L362.1,112 L363.79,110.17 L364.29,109.58 L364.3,109.45 L364.5,109 L365.01,108.09 L365.47,107.12 L365.92,106.09 L366.4,105 L366.91,103.94 L367.44,102.88 L367.97,101.62 L368.5,100 L369.05,97.85 L369.62,95.31 L370.15,92.62 L370.6,90 L370.93,87.45 L371.19,84.88 L371.4,82.36 L371.6,80 L371.79,78.05 L371.96,76.38 L372.13,74.52 L372.3,72 L372.49,68.66 L372.69,64.75 L372.9,60.47 L373.1,56 L373.31,51.52 L373.54,46.88 L373.74,41.8 L373.9,36 L374,28.62 L374.05,20.06 L374.08,11.98 L374.1,6 L374.11,2.88 L374.11,1.62 L374.1,1.31 L374.1,1Z" fill="#049986" filter="url(#bl7)"/>
<path d="M329.6,1 L329.6,1.31 L329.59,1.62 L329.59,2.88 L329.6,6 L329.63,11.98 L329.67,20.06 L329.72,28.62 L329.8,36 L329.9,41.8 L330.03,46.88 L330.17,51.52 L330.3,56 L330.43,60.47 L330.56,64.75 L330.69,68.66 L330.8,72 L330.9,74.52 L330.98,76.38 L331.05,78.05 L331.1,80 L331.11,82.36 L331.09,84.88 L331.08,87.45 L331.1,90 L331.17,92.62 L331.26,95.31 L331.38,97.85 L331.5,100 L331.64,101.62 L331.79,102.88 L331.95,103.94 L332.1,105 L332.24,106.09 L332.38,107.12 L332.52,108.09 L332.7,109 L332.7,109.62 L332.57,110.02 L332.77,110.66 L333.7,112 L335.92,114.59 L339.06,118.04 L342.17,121.39 L344.3,123.7 L346.44,121.39 L349.55,118.04 L352.74,114.59 L355.1,112 L356.3,110.66 L356.86,110.02 L357.13,109.62 L357.5,109 L358.01,108.09 L358.47,107.12 L358.92,106.09 L359.4,105 L359.91,103.94 L360.44,102.88 L360.97,101.62 L361.5,100 L362.05,97.85 L362.62,95.31 L363.15,92.62 L363.6,90 L363.93,87.45 L364.19,84.88 L364.4,82.36 L364.6,80 L364.79,78.05 L364.96,76.38 L365.13,74.52 L365.3,72 L365.49,68.66 L365.69,64.75 L365.9,60.47 L366.1,56 L366.31,51.52 L366.54,46.88 L366.74,41.8 L366.9,36 L367,28.62 L367.05,20.06 L367.08,11.98 L367.1,6 L367.11,2.88 L367.11,1.62 L367.1,1.31 L367.1,1Z" fill="#0ab7a3" filter="url(#bl5)"/>
<ellipse cx="342.3" cy="134.7" rx="24" ry="16" fill="#0aa995" filter="url(#bl7)"/>
<ellipse cx="344.3" cy="126.7" rx="13" ry="13" fill="#14bba8" filter="url(#bl5)"/>
<path d="M334.1,1 L334.1,1.31 L334.09,1.62 L334.09,2.88 L334.1,6 L334.13,11.98 L334.17,20.06 L334.22,28.62 L334.3,36 L334.4,41.8 L334.53,46.88 L334.67,51.52 L334.8,56 L334.93,60.47 L335.06,64.75 L335.19,68.66 L335.3,72 L335.4,74.52 L335.48,76.38 L335.55,78.05 L335.6,80 L335.61,82.36 L335.59,84.88 L335.58,87.45 L335.6,90 L335.67,92.62 L335.76,95.31 L335.88,97.85 L336,100 L336.14,101.62 L336.29,102.88 L336.45,103.94 L336.6,105 L336.74,106.09 L336.88,107.12 L337.02,108.09 L337.2,109 L337.3,109.72 L337.36,110.3 L337.58,110.98 L338.2,112 L339.51,113.67 L341.31,115.79 L343.08,117.81 L344.3,119.2 L345.52,117.81 L347.3,115.79 L349.15,113.67 L350.6,112 L351.49,110.98 L352.08,110.3 L352.53,109.72 L353,109 L353.51,108.09 L353.97,107.12 L354.42,106.09 L354.9,105 L355.41,103.94 L355.94,102.88 L356.47,101.62 L357,100 L357.55,97.85 L358.12,95.31 L358.65,92.62 L359.1,90 L359.43,87.45 L359.69,84.88 L359.9,82.36 L360.1,80 L360.29,78.05 L360.46,76.38 L360.63,74.52 L360.8,72 L360.99,68.66 L361.19,64.75 L361.4,60.47 L361.6,56 L361.81,51.52 L362.04,46.88 L362.24,41.8 L362.4,36 L362.5,28.62 L362.55,20.06 L362.58,11.98 L362.6,6 L362.61,2.88 L362.61,1.62 L362.6,1.31 L362.6,1Z" fill="#1ccab7" filter="url(#bl3)"/>
<path d="M335,1 L335,1.31 L334.99,1.62 L334.99,2.88 L335,6 L335.03,11.98 L335.07,20.06 L335.12,28.62 L335.2,36 L335.3,41.8 L335.43,46.88 L335.57,51.52 L335.7,56 L335.83,60.47 L335.96,64.75 L336.09,68.66 L336.2,72 L336.3,74.52 L336.38,76.38 L336.45,78.05 L336.5,80 L336.51,82.36 L336.49,84.88 L336.48,87.45 L336.5,90 L336.57,92.62 L336.66,95.31 L336.78,97.85 L336.9,100 L337.04,101.62 L337.19,102.88 L337.35,103.94 L337.5,105 L337.64,106.09 L337.77,107.12 L337.92,108.09 L338.1,109 L338.22,109.74 L338.31,110.36 L338.55,111.04 L339.1,112 L340.23,113.49 L341.76,115.34 L343.27,117.09 L344.3,118.3 L345.34,117.09 L346.85,115.34 L348.43,113.49 L349.7,112 L350.52,111.04 L351.12,110.36 L351.61,109.74 L352.1,109 L352.61,108.09 L353.07,107.12 L353.52,106.09 L354,105 L354.51,103.94 L355.04,102.88 L355.57,101.62 L356.1,100 L356.65,97.85 L357.22,95.31 L357.75,92.62 L358.2,90 L358.53,87.45 L358.79,84.88 L359,82.36 L359.2,80 L359.39,78.05 L359.56,76.38 L359.73,74.52 L359.9,72 L360.09,68.66 L360.29,64.75 L360.5,60.47 L360.7,56 L360.91,51.52 L361.14,46.88 L361.34,41.8 L361.5,36 L361.6,28.62 L361.65,20.06 L361.68,11.98 L361.7,6 L361.71,2.88 L361.71,1.62 L361.7,1.31 L361.7,1Z" fill="#86e2d6" filter="url(#bl2)"/>
<ellipse cx="344.3" cy="116.7" rx="6" ry="8" fill="#fbfff6" filter="url(#bl3)"/>
<path d="M336.1,1 L336.1,1.31 L336.09,1.62 L336.09,2.88 L336.1,6 L336.13,11.98 L336.17,20.06 L336.22,28.62 L336.3,36 L336.4,41.8 L336.53,46.88 L336.67,51.52 L336.8,56 L336.93,60.47 L337.06,64.75 L337.19,68.66 L337.3,72 L337.4,74.52 L337.48,76.38 L337.55,78.05 L337.6,80 L337.61,82.36 L337.59,84.88 L337.58,87.45 L337.6,90 L337.67,92.62 L337.76,95.31 L337.88,97.85 L338,100 L338.14,101.62 L338.29,102.88 L338.45,103.94 L338.6,105 L338.74,106.09 L338.88,107.12 L339.02,108.09 L339.2,109 L339.35,109.77 L339.48,110.42 L339.72,111.12 L340.2,112 L341.1,113.27 L342.31,114.79 L343.49,116.21 L344.3,117.2 L345.12,116.21 L346.3,114.79 L347.56,113.27 L348.6,112 L349.35,111.12 L349.95,110.42 L350.48,109.77 L351,109 L351.51,108.09 L351.97,107.12 L352.42,106.09 L352.9,105 L353.41,103.94 L353.94,102.88 L354.47,101.62 L355,100 L355.55,97.85 L356.12,95.31 L356.65,92.62 L357.1,90 L357.43,87.45 L357.69,84.88 L357.9,82.36 L358.1,80 L358.29,78.05 L358.46,76.38 L358.63,74.52 L358.8,72 L358.99,68.66 L359.19,64.75 L359.4,60.47 L359.6,56 L359.81,51.52 L360.04,46.88 L360.24,41.8 L360.4,36 L360.5,28.62 L360.55,20.06 L360.58,11.98 L360.6,6 L360.61,2.88 L360.61,1.62 L360.6,1.31 L360.6,1Z" fill="#f8fcf4" filter="url(#bl2)"/>
<path d="M337.7,1 L337.7,1.31 L337.69,1.62 L337.69,2.88 L337.7,6 L337.73,11.98 L337.77,20.06 L337.82,28.62 L337.9,36 L338,41.8 L338.13,46.88 L338.27,51.52 L338.4,56 L338.53,60.47 L338.66,64.75 L338.79,68.66 L338.9,72 L339,74.52 L339.08,76.38 L339.15,78.05 L339.2,80 L339.21,82.36 L339.19,84.88 L339.18,87.45 L339.2,90 L339.27,92.62 L339.36,95.31 L339.48,97.85 L339.6,100 L339.74,101.62 L339.89,102.88 L340.05,103.94 L340.2,105 L340.34,106.09 L340.48,107.12 L340.62,108.09 L340.8,109 L340.99,109.81 L341.18,110.52 L341.44,111.23 L341.8,112 L342.38,112.94 L343.11,113.99 L343.82,114.94 L344.3,115.6 L344.79,114.94 L345.5,113.99 L346.28,112.94 L347,112 L347.63,111.23 L348.25,110.53 L348.84,109.81 L349.4,109 L349.91,108.09 L350.37,107.12 L350.82,106.09 L351.3,105 L351.81,103.94 L352.34,102.88 L352.87,101.62 L353.4,100 L353.95,97.85 L354.52,95.31 L355.05,92.62 L355.5,90 L355.83,87.45 L356.09,84.88 L356.3,82.36 L356.5,80 L356.69,78.05 L356.86,76.38 L357.02,74.52 L357.2,72 L357.39,68.66 L357.59,64.75 L357.8,60.47 L358,56 L358.21,51.52 L358.44,46.88 L358.64,41.8 L358.8,36 L358.9,28.62 L358.95,20.06 L358.98,11.98 L359,6 L359.01,2.88 L359.01,1.62 L359,1.31 L359,1Z" fill="#fdc895" filter="url(#bl1)"/>
<path d="M339.2,1 L339.2,1.31 L339.19,1.62 L339.19,2.88 L339.2,6 L339.23,11.98 L339.27,20.06 L339.32,28.62 L339.4,36 L339.5,41.8 L339.63,46.88 L339.77,51.52 L339.9,56 L340.03,60.47 L340.16,64.75 L340.29,68.66 L340.4,72 L340.5,74.52 L340.58,76.38 L340.65,78.05 L340.7,80 L340.71,82.36 L340.69,84.88 L340.68,87.45 L340.7,90 L340.77,92.62 L340.86,95.31 L340.98,97.85 L341.1,100 L341.24,101.62 L341.39,102.88 L341.55,103.94 L341.7,105 L341.84,106.09 L341.98,107.12 L342.12,108.09 L342.3,109 L342.52,109.84 L342.78,110.62 L343.04,111.34 L343.3,112 L343.57,112.64 L343.86,113.24 L344.12,113.74 L344.3,114.1 L344.49,113.74 L344.75,113.24 L345.09,112.64 L345.5,112 L346.03,111.34 L346.66,110.62 L347.31,109.84 L347.9,109 L348.41,108.09 L348.87,107.12 L349.32,106.09 L349.8,105 L350.31,103.94 L350.84,102.88 L351.37,101.62 L351.9,100 L352.45,97.85 L353.02,95.31 L353.55,92.62 L354,90 L354.33,87.45 L354.59,84.88 L354.8,82.36 L355,80 L355.19,78.05 L355.36,76.38 L355.52,74.52 L355.7,72 L355.89,68.66 L356.09,64.75 L356.3,60.47 L356.5,56 L356.71,51.52 L356.94,46.88 L357.14,41.8 L357.3,36 L357.4,28.62 L357.45,20.06 L357.48,11.98 L357.5,6 L357.51,2.88 L357.51,1.62 L357.5,1.31 L357.5,1Z" fill="#fb8016" filter="url(#bl2)"/>
<path d="M343.3,1 L343.29,1.08 L343.28,1 L343.28,2.17 L343.3,6 L343.34,13.77 L343.41,24.44 L343.49,35.88 L343.6,46 L343.69,54.58 L343.78,62.62 L343.95,69.86 L344.3,76 L344.96,80.95 L345.84,84.88 L346.71,87.86 L347.3,90 L347.87,87.86 L348.71,84.88 L349.59,80.95 L350.3,76 L350.8,69.86 L351.21,62.62 L351.53,54.58 L351.8,46 L352.01,35.88 L352.14,24.44 L352.23,13.77 L352.3,6 L352.34,2.17 L352.33,1 L352.31,1.08 L352.3,1Z" fill="#a95306" filter="url(#bl3)"/>
</g>
<path d="M285.3,6H398.8V153.3H285.3Z" fill="none" stroke="#2a2a2a" stroke-width="0.8"/>
<line x1="283.7" y1="138.52" x2="285.3" y2="138.52" stroke="#222" stroke-width="0.6"/>
<line x1="283.7" y1="129.87" x2="285.3" y2="129.87" stroke="#222" stroke-width="0.6"/>
<line x1="283.7" y1="123.74" x2="285.3" y2="123.74" stroke="#222" stroke-width="0.6"/>
<line x1="283.7" y1="118.98" x2="285.3" y2="118.98" stroke="#222" stroke-width="0.6"/>
<line x1="283.7" y1="115.09" x2="285.3" y2="115.09" stroke="#222" stroke-width="0.6"/>
<line x1="283.7" y1="111.81" x2="285.3" y2="111.81" stroke="#222" stroke-width="0.6"/>
<line x1="283.7" y1="108.96" x2="285.3" y2="108.96" stroke="#222" stroke-width="0.6"/>
<line x1="283.7" y1="106.45" x2="285.3" y2="106.45" stroke="#222" stroke-width="0.6"/>
<line x1="283.7" y1="89.42" x2="285.3" y2="89.42" stroke="#222" stroke-width="0.6"/>
<line x1="283.7" y1="80.77" x2="285.3" y2="80.77" stroke="#222" stroke-width="0.6"/>
<line x1="283.7" y1="74.64" x2="285.3" y2="74.64" stroke="#222" stroke-width="0.6"/>
<line x1="283.7" y1="69.88" x2="285.3" y2="69.88" stroke="#222" stroke-width="0.6"/>
<line x1="283.7" y1="65.99" x2="285.3" y2="65.99" stroke="#222" stroke-width="0.6"/>
<line x1="283.7" y1="62.71" x2="285.3" y2="62.71" stroke="#222" stroke-width="0.6"/>
<line x1="283.7" y1="59.86" x2="285.3" y2="59.86" stroke="#222" stroke-width="0.6"/>
<line x1="283.7" y1="57.35" x2="285.3" y2="57.35" stroke="#222" stroke-width="0.6"/>
<line x1="283.7" y1="40.32" x2="285.3" y2="40.32" stroke="#222" stroke-width="0.6"/>
<line x1="283.7" y1="31.67" x2="285.3" y2="31.67" stroke="#222" stroke-width="0.6"/>
<line x1="283.7" y1="25.54" x2="285.3" y2="25.54" stroke="#222" stroke-width="0.6"/>
<line x1="283.7" y1="20.78" x2="285.3" y2="20.78" stroke="#222" stroke-width="0.6"/>
<line x1="283.7" y1="16.89" x2="285.3" y2="16.89" stroke="#222" stroke-width="0.6"/>
<line x1="283.7" y1="13.61" x2="285.3" y2="13.61" stroke="#222" stroke-width="0.6"/>
<line x1="283.7" y1="10.76" x2="285.3" y2="10.76" stroke="#222" stroke-width="0.6"/>
<line x1="283.7" y1="8.25" x2="285.3" y2="8.25" stroke="#222" stroke-width="0.6"/>
<line x1="282.3" y1="153.3" x2="285.3" y2="153.3" stroke="#222" stroke-width="0.7"/>
<line x1="282.3" y1="104.2" x2="285.3" y2="104.2" stroke="#222" stroke-width="0.7"/>
<line x1="282.3" y1="55.1" x2="285.3" y2="55.1" stroke="#222" stroke-width="0.7"/>
<line x1="282.3" y1="6" x2="285.3" y2="6" stroke="#222" stroke-width="0.7"/>
<line x1="308" y1="153.3" x2="308" y2="156.9" stroke="#222" stroke-width="0.7"/>
<text x="308" y="166" font-size="8.8" text-anchor="middle">700</text>
<line x1="330.7" y1="153.3" x2="330.7" y2="155.3" stroke="#222" stroke-width="0.7"/>
<line x1="353.4" y1="153.3" x2="353.4" y2="156.9" stroke="#222" stroke-width="0.7"/>
<text x="353.4" y="166" font-size="8.8" text-anchor="middle">800</text>
<line x1="376.1" y1="153.3" x2="376.1" y2="155.3" stroke="#222" stroke-width="0.7"/>
<line x1="398.8" y1="153.3" x2="398.8" y2="156.9" stroke="#222" stroke-width="0.7"/>
<text x="398.8" y="166" font-size="8.8" text-anchor="middle">900</text>
<text x="342.05" y="178.2" font-size="8.8" text-anchor="middle">Wavelength (nm)</text>
<text x="391" y="144.4" font-size="9.6" text-anchor="end" fill="#f4fbfa">DEHP</text>
<text x="28.3" y="156.4" font-size="8.8" text-anchor="end">0.1</text>
<text x="28.3" y="107.3" font-size="8.8" text-anchor="end">1</text>
<text x="28.3" y="58.2" font-size="8.8" text-anchor="end">10</text>
<text x="28.3" y="9.1" font-size="8.8" text-anchor="end">100</text>
<text transform="translate(12.6,79.8) rotate(-90)" font-size="8.8" text-anchor="middle">Time (s)</text>
<rect x="428.2" y="5.9" width="249.2" height="146.7" fill="none" stroke="#333" stroke-width="0.9"/>
<line x1="428.2" y1="18" x2="431.4" y2="18" stroke="#222" stroke-width="0.8"/>
<line x1="428.2" y1="30.1" x2="430.2" y2="30.1" stroke="#222" stroke-width="0.8"/>
<line x1="428.2" y1="42.5" x2="431.4" y2="42.5" stroke="#222" stroke-width="0.8"/>
<line x1="428.2" y1="54.4" x2="430.2" y2="54.4" stroke="#222" stroke-width="0.8"/>
<line x1="428.2" y1="67" x2="431.4" y2="67" stroke="#222" stroke-width="0.8"/>
<line x1="428.2" y1="79.1" x2="430.2" y2="79.1" stroke="#222" stroke-width="0.8"/>
<line x1="428.2" y1="91.2" x2="431.4" y2="91.2" stroke="#222" stroke-width="0.8"/>
<line x1="428.2" y1="103.3" x2="430.2" y2="103.3" stroke="#222" stroke-width="0.8"/>
<line x1="428.2" y1="115.5" x2="431.4" y2="115.5" stroke="#222" stroke-width="0.8"/>
<line x1="428.2" y1="127.8" x2="430.2" y2="127.8" stroke="#222" stroke-width="0.8"/>
<line x1="428.2" y1="140.2" x2="431.4" y2="140.2" stroke="#222" stroke-width="0.8"/>
<line x1="440.1" y1="152.6" x2="440.1" y2="149.6" stroke="#222" stroke-width="0.8"/>
<text x="440.1" y="163.3" font-size="8.7" text-anchor="middle">0</text>
<line x1="463.8" y1="152.6" x2="463.8" y2="150.8" stroke="#222" stroke-width="0.8"/>
<line x1="487.5" y1="152.6" x2="487.5" y2="149.6" stroke="#222" stroke-width="0.8"/>
<text x="487.5" y="163.3" font-size="8.7" text-anchor="middle">20</text>
<line x1="511.2" y1="152.6" x2="511.2" y2="150.8" stroke="#222" stroke-width="0.8"/>
<line x1="534.9" y1="152.6" x2="534.9" y2="149.6" stroke="#222" stroke-width="0.8"/>
<text x="534.9" y="163.3" font-size="8.7" text-anchor="middle">40</text>
<line x1="558.6" y1="152.6" x2="558.6" y2="150.8" stroke="#222" stroke-width="0.8"/>
<line x1="582.3" y1="152.6" x2="582.3" y2="149.6" stroke="#222" stroke-width="0.8"/>
<text x="582.3" y="163.3" font-size="8.7" text-anchor="middle">60</text>
<line x1="606" y1="152.6" x2="606" y2="150.8" stroke="#222" stroke-width="0.8"/>
<line x1="629.7" y1="152.6" x2="629.7" y2="149.6" stroke="#222" stroke-width="0.8"/>
<text x="629.7" y="163.3" font-size="8.7" text-anchor="middle">80</text>
<line x1="653.4" y1="152.6" x2="653.4" y2="150.8" stroke="#222" stroke-width="0.8"/>
<line x1="677.1" y1="152.6" x2="677.1" y2="149.6" stroke="#222" stroke-width="0.8"/>
<text x="677.1" y="163.3" font-size="8.7" text-anchor="middle">100</text>
<text x="553" y="176.2" font-size="8.7" text-anchor="middle">Time (s)</text>
<text transform="translate(421.7,79.3) rotate(-90)" font-size="8.7" text-anchor="middle">Intensity (norm.)</text>
<circle cx="440.5" cy="140.6" r="1.7" fill="#c7352f"/>
<circle cx="440.5" cy="134.4" r="1.7" fill="#3a979b"/>
<circle cx="440.5" cy="127.4" r="1.7" fill="#3a979b"/>
<circle cx="440.5" cy="125.1" r="1.7" fill="#c7352f"/>
<circle cx="440.5" cy="114.6" r="1.7" fill="#c7352f"/>
<circle cx="440.9" cy="113.6" r="1.7" fill="#3a979b"/>
<circle cx="440.5" cy="108.1" r="1.7" fill="#b3a6a6"/>
<circle cx="440.9" cy="100.6" r="1.7" fill="#3a979b"/>
<circle cx="440.9" cy="100" r="1.7" fill="#c7352f"/>
<circle cx="440.5" cy="93" r="1.7" fill="#b3a6a6"/>
<circle cx="441.2" cy="91.3" r="1.7" fill="#c7352f"/>
<circle cx="441.4" cy="86.3" r="1.7" fill="#3a979b"/>
<circle cx="441.4" cy="84.9" r="1.7" fill="#c7352f"/>
<circle cx="440.9" cy="81.3" r="1.7" fill="#b3a6a6"/>
<circle cx="441.8" cy="78" r="1.7" fill="#3a979b"/>
<circle cx="441.8" cy="77.5" r="1.7" fill="#c7352f"/>
<circle cx="442.1" cy="74.2" r="1.7" fill="#c7352f"/>
<circle cx="442.1" cy="71.5" r="1.7" fill="#c7352f"/>
<circle cx="440.8" cy="69.4" r="1.7" fill="#b3a6a6"/>
<circle cx="442.3" cy="66" r="1.7" fill="#3a979b"/>
<circle cx="442.5" cy="62.7" r="1.7" fill="#c7352f"/>
<polyline points="442.23,65.41 443.02,59.29 443.8,51.94 444.58,43.97 445.36,39.83 446.15,36.54 446.93,33.98 447.71,32.35 448.5,29.38 449.28,27.42 450.06,27.02 450.84,25.02 451.63,24.2 452.41,21.64 453.19,21.24 453.98,20.95 454.76,19.43 455.54,19.84 456.33,19.12 457.11,17.59 457.89,17.44 458.67,18.13 459.46,18.62 460.24,17.59 461.02,17.19 461.81,17.38 462.59,16.72 463.37,17.3 464.15,17.91 464.94,18.28 465.72,18.13 466.5,18.39 467.29,18.64 468.07,19.37 468.85,19.47 469.63,19.42 470.42,21.11 471.2,21.04 471.98,21.55 472.77,21.2 473.55,22.87 474.33,23 475.11,22.1 475.9,22.73 476.68,23.63 477.46,23.9 478.25,24.55 479.03,24.01 479.81,24.97 480.59,25.03 481.38,24.75 482.16,25.52 482.94,26.3 483.73,26.55 484.51,26.32 485.29,26.76 486.07,26.19 486.86,26.83 487.64,28 488.42,27.52 489.21,27.26 489.99,28 490.77,28.38 491.56,28.46 492.34,28.12 493.12,28.35 493.9,28.59 494.69,29.16 495.47,28.88 496.25,28.81 497.04,29.09 497.82,28.49 498.6,28.64 499.38,29.83 500.17,30.33 500.95,29.76 501.73,29.5 502.52,29.2 503.3,29.79 504.08,30.61 504.86,30.33 505.65,30.02 506.43,30.58 507.21,29.64 508,30.14 508.78,30.9 509.56,30.36 510.34,30.22 511.13,29.98 511.91,30.48 512.69,31.19 513.48,29.72 514.26,31.02 515.04,31.14 515.82,31.3 516.61,31.12 517.39,31.29 518.17,30.88 518.96,31 519.74,30.84 520.52,30.31 521.3,31.67 522.09,31.24 522.87,30.71 523.65,31.23 524.44,31.22 525.22,31.04 526,31.05 526.79,31.38 527.57,31.54 528.35,31.55 529.13,31.33 529.92,30.67 530.7,31.02 531.48,30.96 532.27,31.63 533.05,32.1 533.83,32.03 534.61,32.05 535.4,32.11 536.18,31.23 536.96,32.2 537.75,31.95 538.53,31.04 539.31,30.95 540.09,30.98 540.88,32.19 541.66,31.4 542.44,31.2 543.23,32.05 544.01,31.63 544.79,31.22 545.57,31.39 546.36,32 547.14,31.45 547.92,31.64 548.71,32.37 549.49,31.99 550.27,31.8 551.05,32.07 551.84,31.37 552.62,31.98 553.4,32.06 554.19,31.72 554.97,31.63 555.75,32.93 556.53,32.35 557.32,31.91 558.1,32.58 558.88,32.96 559.67,31.72 560.45,31.76 561.23,32 562.02,32.96 562.8,32.1 563.58,33.01 564.36,33.01 565.15,32.83 565.93,32.35 566.71,33.6 567.5,33.36 568.28,32.95 569.06,32.52 569.84,33.23 570.63,32.87 571.41,33.2 572.19,32.83 572.98,33.36 573.76,32.49 574.54,32.91 575.32,34.02 576.11,33.91 576.89,33.04 577.67,33.96 578.46,33.12 579.24,34.17 580.02,33.89 580.8,33.41 581.59,33.19 582.37,32.84 583.15,34.27 583.94,32.96 584.72,34.25 585.5,34.52 586.28,33.93 587.07,33.33 587.85,34.48 588.63,34.69 589.42,34.3 590.2,34.03 590.98,33.86 591.76,33.85 592.55,33.66 593.33,34.45 594.11,34.1 594.9,33.76 595.68,33.65 596.46,34.59 597.25,34.04 598.03,34.4 598.81,34.16 599.59,35.08 600.38,35.16 601.16,33.79 601.94,34.12 602.73,34.36 603.51,35.46 604.29,35.17 605.07,34.5 605.86,34.33 606.64,35.11 607.42,35.42 608.21,35.61 608.99,34.71 609.77,35.61 610.55,35.34 611.34,35.06 612.12,35.9 612.9,34.74 613.69,35.57 614.47,34.58 615.25,34.76 616.03,35.99 616.82,34.91 617.6,35.83 618.38,35.61 619.17,36.04 619.95,35.32 620.73,35.32 621.51,35.28 622.3,36.25 623.08,35.87 623.86,36.47 624.65,36.4 625.43,35.24 626.21,35.95 627,35.27 627.78,35.21 628.56,35.31 629.34,36.62 630.13,36.53 630.91,36.64 631.69,35.9 632.48,36.38 633.26,36.69 634.04,36.08 634.82,36.43 635.61,35.92 636.39,35.73 637.17,36.07 637.96,37.11 638.74,36.63 639.52,37.25 640.3,36.54 641.09,36.29 641.87,37.15 642.65,37.26 643.44,35.99 644.22,37.09 645,36.2 645.78,36.28 646.57,37.56 647.35,36.24 648.13,36.61 648.92,37.84 649.7,36.98 650.48,36.53 651.26,36.66 652.05,36.81 652.83,37.66 653.61,36.68 654.4,38.02 655.18,37.22 655.96,38.21 656.74,38.17 657.53,37.23 658.31,37.22 659.09,37.62 659.88,37.07 660.66,38 661.44,37.07 662.23,37.08 663.01,38.68 663.79,37.63 664.57,38.16 665.36,37.98 666.14,37.81 666.92,37.46 667.71,38.87 668.49,39.01 669.27,39.06 670.05,37.73 670.84,37.95 671.62,38.64 672.4,39.27 673.19,38.62 673.97,38.9 674.75,38.91 675.53,38.32 676.32,38.82 677.1,38.49" fill="none" stroke="#b3a6a6" stroke-width="3.4" stroke-linejoin="round" stroke-linecap="round"/>
<polyline points="442.35,64.73 443.13,47.02 443.92,36.95 444.7,33.81 445.48,31.82 446.26,29.64 447.05,27.63 447.83,25.32 448.61,24.87 449.39,23.94 450.18,22.97 450.96,21.92 451.74,22.09 452.52,21.76 453.31,22.05 454.09,22.28 454.87,22.01 455.65,21.16 456.44,20.79 457.22,20.31 458,19.73 458.78,19.52 459.57,20.07 460.35,19.72 461.13,19.7 461.91,20.41 462.7,19.7 463.48,19.64 464.26,19.01 465.04,18.55 465.83,18.92 466.61,18.5 467.39,18.99 468.17,19.65 468.96,19.11 469.74,18.38 470.52,19.57 471.3,19.47 472.09,19.42 472.87,19.75 473.65,19.58 474.43,19.68 475.22,19.04 476,20.07 476.78,20.03 477.56,18.74 478.35,19.68 479.13,19.61 479.91,19.2 480.69,19.31 481.48,19.23 482.26,19.92 483.04,19.24 483.82,19.76 484.61,18.99 485.39,19.83 486.17,19.85 486.95,19.14 487.74,19.31 488.52,19.88 489.3,19.57 490.08,19.19 490.87,18.77 491.65,18.94 492.43,19.54 493.21,18.69 494,19.88 494.78,18.86 495.56,19.89 496.34,18.93 497.13,19.97 497.91,19.57 498.69,19.25 499.47,19.28 500.26,19.5 501.04,19.4 501.82,18.96 502.6,18.8 503.39,19.29 504.17,19.96 504.95,19.47 505.73,18.6 506.52,19.79 507.3,19.65 508.08,19.94 508.86,18.8 509.65,19.69 510.43,18.59 511.21,19.54 511.99,18.94 512.78,18.87 513.56,19.91 514.34,18.68 515.12,19.35 515.91,19.89 516.69,18.91 517.47,18.86 518.25,19.94 519.04,19.21 519.82,19.68 520.6,18.59 521.38,19.12 522.17,18.82 522.95,19.63 523.73,18.69 524.51,20.08 525.3,18.6 526.08,19.73 526.86,18.6 527.64,18.98 528.43,19.87 529.21,18.83 529.99,18.87 530.77,19.69 531.56,19.2 532.34,18.66 533.12,20.18 533.9,18.84 534.69,18.66 535.47,19.15 536.25,19.59 537.03,19.8 537.82,18.79 538.6,19.16 539.38,18.67 540.16,19.34 540.95,19.85 541.73,19.81 542.51,20.08 543.29,19.84 544.08,20.02 544.86,19.77 545.64,19.4 546.42,19.01 547.21,19.71 547.99,19.16 548.77,18.82 549.55,19.38 550.34,20.06 551.12,18.87 551.9,19.61 552.68,19.3 553.47,19.5 554.25,18.91 555.03,20.22 555.81,19.1 556.6,19.66 557.38,19.37 558.16,18.73 558.94,19.6 559.73,18.94 560.51,18.81 561.29,18.78 562.07,19 562.86,18.9 563.64,19.77 564.42,19.58 565.2,20.35 565.99,20.28 566.77,20.38 567.55,19.17 568.33,19.52 569.12,19.22 569.9,19.77 570.68,19.83 571.46,20.13 572.25,19.99 573.03,19.27 573.81,19.55 574.59,19.72 575.38,18.9 576.16,18.95 576.94,19.56 577.72,19.09 578.51,20.08 579.29,19.32 580.07,19.1 580.85,19.24 581.64,19.33 582.42,19.32 583.2,19.81 583.98,19.73 584.77,19.49 585.55,20.03 586.33,19.35 587.11,20.47 587.9,20.57 588.68,20.2 589.46,19.74 590.24,19.87 591.03,19.99 591.81,19.16 592.59,19.75 593.37,19.93 594.16,19.39 594.94,19.26 595.72,20.4 596.5,19.71 597.29,19.97 598.07,20.62 598.85,20.13 599.63,19.63 600.42,20.74 601.2,19.77 601.98,19.22 602.76,20.29 603.55,19.37 604.33,19.7 605.11,20.57 605.89,20.31 606.68,19.27 607.46,19.97 608.24,19.92 609.02,20.04 609.81,19.61 610.59,20.23 611.37,19.41 612.15,19.76 612.94,19.91 613.72,20.82 614.5,19.45 615.28,20.55 616.07,19.65 616.85,20.27 617.63,19.99 618.41,20.11 619.2,20.59 619.98,20.02 620.76,19.59 621.54,19.6 622.33,19.55 623.11,20.79 623.89,20.46 624.67,20.98 625.46,20.56 626.24,19.5 627.02,20.52 627.8,20.72 628.59,20.65 629.37,20.29 630.15,20.08 630.93,20.25 631.72,20.82 632.5,19.98 633.28,20.41 634.06,20.35 634.85,21.13 635.63,20.9 636.41,21.12 637.19,20.98 637.98,20.13 638.76,20.04 639.54,20.47 640.32,20.12 641.11,20.4 641.89,20.82 642.67,21.22 643.45,20.7 644.24,21.08 645.02,19.94 645.8,20.38 646.58,21.42 647.37,20.07 648.15,20.52 648.93,19.97 649.71,20.02 650.5,21.33 651.28,21.49 652.06,20.96 652.84,20.15 653.63,20.43 654.41,20.34 655.19,21.06 655.97,21.09 656.76,20.72 657.54,20.87 658.32,20.22 659.1,20.92 659.89,21.59 660.67,21.3 661.45,20.26 662.23,20.94 663.02,21.28 663.8,20.56 664.58,21.59 665.36,20.91 666.15,21.32 666.93,20.85 667.71,21.81 668.49,21.49 669.28,21.17 670.06,20.5 670.84,20.99 671.62,20.34 672.41,21.26 673.19,21.74 673.97,20.63 674.75,21.17 675.54,21.14 676.32,21.03 677.1,21.54" fill="none" stroke="#3a979b" stroke-width="3.4" stroke-linejoin="round" stroke-linecap="round"/>
<polyline points="442.47,61.58 443.25,55.47 444.03,48.53 444.82,41.98 445.6,35.47 446.38,34.02 447.16,33.39 447.94,34.16 448.73,32.79 449.51,32.45 450.29,33.38 451.07,32.24 451.86,32.53 452.64,31.66 453.42,31.62 454.2,30.54 454.98,31.02 455.77,31.09 456.55,30.24 457.33,30.29 458.11,29.87 458.89,28.6 459.68,29.41 460.46,28.85 461.24,28.08 462.02,27.35 462.8,28.38 463.59,27.5 464.37,27.73 465.15,27.82 465.93,27.39 466.72,27.56 467.5,26.55 468.28,27.04 469.06,26.3 469.84,26.92 470.63,26.7 471.41,25.32 472.19,25.25 472.97,25.25 473.75,26.32 474.54,25.34 475.32,25.52 476.1,24.87 476.88,25.07 477.66,24.74 478.45,24.56 479.23,24.8 480.01,24.67 480.79,25.05 481.58,24.57 482.36,24.87 483.14,24.71 483.92,24.88 484.7,24.32 485.49,23.46 486.27,24.53 487.05,24.65 487.83,24.51 488.61,23.92 489.4,24.11 490.18,23.26 490.96,24.21 491.74,23.75 492.52,23.24 493.31,22.84 494.09,24.07 494.87,24.24 495.65,22.76 496.43,23.86 497.22,23.19 498,22.73 498.78,22.92 499.56,23.64 500.35,23.76 501.13,22.4 501.91,23.27 502.69,22.31 503.47,23.35 504.26,22.69 505.04,23.53 505.82,23.65 506.6,22.84 507.38,23.59 508.17,22.45 508.95,22.03 509.73,22.83 510.51,21.88 511.29,22.1 512.08,22.4 512.86,22.68 513.64,21.91 514.42,21.69 515.21,22.97 515.99,22.05 516.77,23.05 517.55,22.91 518.33,22.05 519.12,22.15 519.9,22.21 520.68,22.37 521.46,22.26 522.24,22.17 523.03,22.23 523.81,22.71 524.59,21.98 525.37,21.83 526.15,22.26 526.94,21.45 527.72,21.52 528.5,22.57 529.28,21.8 530.07,21.81 530.85,20.92 531.63,21.53 532.41,21.76 533.19,20.83 533.98,21.75 534.76,21.74 535.54,20.79 536.32,21.67 537.1,21.37 537.89,21.68 538.67,21.12 539.45,21.66 540.23,21.67 541.01,20.49 541.8,20.52 542.58,21.47 543.36,21.9 544.14,20.72 544.93,21.02 545.71,21.2 546.49,20.73 547.27,20.77 548.05,20.65 548.84,20.71 549.62,21.04 550.4,20.53 551.18,20.62 551.96,21.22 552.75,19.99 553.53,20.83 554.31,21.07 555.09,20.38 555.87,20.23 556.66,21.15 557.44,20.23 558.22,20.14 559,20.53 559.79,20.94 560.57,19.97 561.35,20.31 562.13,20.32 562.91,21.11 563.7,20.47 564.48,21.13 565.26,20.02 566.04,20.28 566.82,20.77 567.61,21.13 568.39,20.43 569.17,20.05 569.95,19.88 570.73,20.52 571.52,19.97 572.3,20.94 573.08,20.98 573.86,19.93 574.64,20.07 575.43,20.9 576.21,20.63 576.99,20.88 577.77,20.13 578.56,19.78 579.34,20.03 580.12,20.82 580.9,19.97 581.68,20.08 582.47,20.18 583.25,20.18 584.03,20.15 584.81,20.96 585.59,19.72 586.38,19.47 587.16,20.96 587.94,20.85 588.72,21.01 589.5,20.12 590.29,20.93 591.07,20.88 591.85,19.75 592.63,20.57 593.42,20.71 594.2,20.42 594.98,20.18 595.76,19.8 596.54,19.87 597.33,19.68 598.11,19.41 598.89,20.24 599.67,19.74 600.45,20.57 601.24,19.34 602.02,20.7 602.8,20.35 603.58,20.71 604.36,20.66 605.15,20.65 605.93,20.12 606.71,19.22 607.49,20.39 608.28,19.47 609.06,19.68 609.84,20.26 610.62,20.03 611.4,19.85 612.19,20.69 612.97,20.17 613.75,19.74 614.53,19.59 615.31,20.57 616.1,19.95 616.88,20.44 617.66,19.75 618.44,19.5 619.22,20.04 620.01,20.49 620.79,19.45 621.57,20.44 622.35,20.65 623.14,20.47 623.92,20.49 624.7,19.19 625.48,20.18 626.26,20.55 627.05,19.25 627.83,19.6 628.61,19.6 629.39,20.01 630.17,19.84 630.96,19.92 631.74,20.41 632.52,19.17 633.3,19.25 634.08,19.36 634.87,19.36 635.65,19.27 636.43,20.72 637.21,20.52 638,19.29 638.78,19.96 639.56,19.66 640.34,19.66 641.12,19.71 641.91,20.18 642.69,20.09 643.47,19.72 644.25,19.45 645.03,19.67 645.82,19.34 646.6,20.03 647.38,20.29 648.16,19.75 648.94,19.27 649.73,19.42 650.51,19.73 651.29,20.1 652.07,20.39 652.85,19.74 653.64,20.41 654.42,20.13 655.2,19.82 655.98,19.73 656.77,19.92 657.55,20.25 658.33,19.8 659.11,20.24 659.89,19.86 660.68,19.52 661.46,19.98 662.24,20.23 663.02,19.23 663.8,19.8 664.59,19.8 665.37,20.52 666.15,20.61 666.93,19.71 667.71,20.55 668.5,20.38 669.28,19.53 670.06,19.85 670.84,19.31 671.63,20.41 672.41,20.17 673.19,20.53 673.97,20.37 674.75,20.17 675.54,20.28 676.32,20 677.1,19.27" fill="none" stroke="#c7352f" stroke-width="3.4" stroke-linejoin="round" stroke-linecap="round"/>
<rect x="470.2" y="42.3" width="117.4" height="94" fill="#fff" stroke="#555" stroke-width="0.9"/>
<line x1="470.2" y1="52.1" x2="472.8" y2="52.1" stroke="#222" stroke-width="0.7"/>
<line x1="470.2" y1="73" x2="472.8" y2="73" stroke="#222" stroke-width="0.7"/>
<line x1="470.2" y1="94.1" x2="472.8" y2="94.1" stroke="#222" stroke-width="0.7"/>
<line x1="470.2" y1="115" x2="472.8" y2="115" stroke="#222" stroke-width="0.7"/>
<line x1="478.9" y1="136.3" x2="478.9" y2="133.7" stroke="#222" stroke-width="0.7"/>
<text x="478.9" y="145.6" font-size="8.4" text-anchor="middle">0</text>
<line x1="492.65" y1="136.3" x2="492.65" y2="134.8" stroke="#222" stroke-width="0.7"/>
<line x1="506.4" y1="136.3" x2="506.4" y2="133.7" stroke="#222" stroke-width="0.7"/>
<text x="506.4" y="145.6" font-size="8.4" text-anchor="middle">10</text>
<line x1="520.15" y1="136.3" x2="520.15" y2="134.8" stroke="#222" stroke-width="0.7"/>
<line x1="533.9" y1="136.3" x2="533.9" y2="133.7" stroke="#222" stroke-width="0.7"/>
<text x="533.9" y="145.6" font-size="8.4" text-anchor="middle">20</text>
<line x1="547.65" y1="136.3" x2="547.65" y2="134.8" stroke="#222" stroke-width="0.7"/>
<line x1="561.4" y1="136.3" x2="561.4" y2="133.7" stroke="#222" stroke-width="0.7"/>
<text x="561.4" y="145.6" font-size="8.4" text-anchor="middle">30</text>
<line x1="575.15" y1="136.3" x2="575.15" y2="134.8" stroke="#222" stroke-width="0.7"/>
<clipPath id="cbi"><rect x="470.2" y="42.3" width="117.4" height="94"/></clipPath>
<g clip-path="url(#cbi)">
<circle cx="480.86" cy="131.32" r="0.85" fill="#b3a6a6"/>
<circle cx="481.9" cy="123.35" r="0.85" fill="#b3a6a6"/>
<circle cx="482.38" cy="113.89" r="0.85" fill="#b3a6a6"/>
<circle cx="483.36" cy="106.18" r="0.85" fill="#b3a6a6"/>
<circle cx="483.81" cy="98.27" r="0.85" fill="#b3a6a6"/>
<circle cx="484.57" cy="90.51" r="0.85" fill="#b3a6a6"/>
<circle cx="485.11" cy="81.71" r="0.85" fill="#b3a6a6"/>
<circle cx="486.29" cy="79.13" r="0.85" fill="#b3a6a6"/>
<circle cx="481.38" cy="130.22" r="0.85" fill="#3a979b"/>
<circle cx="481.87" cy="121.96" r="0.85" fill="#3a979b"/>
<circle cx="482.65" cy="113.25" r="0.85" fill="#3a979b"/>
<circle cx="483.21" cy="105.82" r="0.85" fill="#3a979b"/>
<circle cx="483.83" cy="99.19" r="0.85" fill="#3a979b"/>
<circle cx="484.09" cy="91.08" r="0.85" fill="#3a979b"/>
<circle cx="485" cy="83.93" r="0.85" fill="#3a979b"/>
<circle cx="485.36" cy="80.92" r="0.85" fill="#3a979b"/>
<circle cx="481.02" cy="130.17" r="0.85" fill="#c7352f"/>
<circle cx="481.69" cy="124.2" r="0.85" fill="#c7352f"/>
<circle cx="482.33" cy="118.63" r="0.85" fill="#c7352f"/>
<circle cx="482.88" cy="112.68" r="0.85" fill="#c7352f"/>
<circle cx="483.37" cy="106.33" r="0.85" fill="#c7352f"/>
<circle cx="484.21" cy="100.83" r="0.85" fill="#c7352f"/>
<circle cx="485.1" cy="95.85" r="0.85" fill="#c7352f"/>
<circle cx="485.77" cy="91.63" r="0.85" fill="#c7352f"/>
<circle cx="486.09" cy="88.03" r="0.85" fill="#c7352f"/>
<circle cx="487.06" cy="84.87" r="0.85" fill="#c7352f"/>
<polyline points="486.05,79.04 486.65,77.76 487.24,76.98 487.84,75.56 488.44,74.32 489.03,73.6 489.63,73.09 490.23,71.82 490.83,70.65 491.42,68.72 492.02,67.77 492.62,66.13 493.21,64.67 493.81,63.26 494.41,62.06 495,61.58 495.6,60.13 496.2,58.77 496.79,57.43 497.39,56 497.99,55.91 498.59,56.06 499.18,55.95 499.78,55.87 500.38,55.67 500.97,54.48 501.57,54.87 502.17,54.72 502.76,54.29 503.36,53.67 503.96,53.79 504.55,53.1 505.15,53.88 505.75,53.94 506.34,53.82 506.94,53.79 507.54,54.78 508.14,54.64 508.73,55.27 509.33,55.59 509.93,55.75 510.52,56.2 511.12,57 511.72,57.36 512.31,57.61 512.91,58.35 513.51,59.53 514.1,59.17 514.7,59.74 515.3,60.89 515.9,60.84 516.49,61.52 517.09,61.82 517.69,62.04 518.28,63.2 518.88,62.61 519.48,63.24 520.07,63.36 520.67,64.25 521.27,64.2 521.86,64.67 522.46,65.53 523.06,65.41 523.66,66.08 524.25,66.89 524.85,66.32 525.45,66.66 526.04,67.25 526.64,68.29 527.24,68.5 527.83,68.43 528.43,68.94 529.03,69.14 529.62,69.87 530.22,69.73 530.82,70.8 531.42,71.33 532.01,71.68 532.61,71.7 533.21,72.25 533.8,71.41 534.4,72.02 535,73.11 535.59,73.17 536.19,73.02 536.79,73.94 537.38,73.84 537.98,74.36 538.58,74.01 539.18,74.18 539.77,74.76 540.37,74.68 540.97,75.26 541.56,76.24 542.16,75.54 542.76,75.21 543.35,75.3 543.95,75.5 544.55,76.29 545.14,75.83 545.74,75.79 546.34,75.61 546.93,76.72 547.53,76.1 548.13,75.89 548.73,75.77 549.32,75.81 549.92,76 550.52,76.66 551.11,76.07 551.71,75.99 552.31,76.58 552.9,76.34 553.5,77.29 554.1,76.29 554.69,76.83 555.29,77.14 555.89,76.71 556.49,77.42 557.08,76.82 557.68,76.54 558.28,76.76 558.87,76.32 559.47,76.79 560.07,76.59 560.66,77.37 561.26,77.32 561.86,76.93 562.45,76.38 563.05,76.66 563.65,76.65 564.25,76.62 564.84,76.66 565.44,77.44 566.04,76.58 566.63,76.48 567.23,77.54 567.83,77.12 568.42,77.64 569.02,76.94 569.62,77.55 570.21,77.27 570.81,77.44 571.41,77.4 572.01,77.11 572.6,76.64 573.2,76.79 573.8,77.6 574.39,77.64 574.99,77.68 575.59,76.99 576.18,77.38 576.78,77.56 577.38,77.38 577.97,77.6 578.57,77.27 579.17,77.43 579.77,77.48 580.36,76.99 580.96,77.79 581.56,77.84 582.15,76.79 582.75,77.88 583.35,77.88 583.94,77.54 584.54,76.8 585.14,77.83 585.73,76.92 586.33,77.94 586.93,77.59 587.52,76.87" fill="none" stroke="#b3a6a6" stroke-width="2.2" stroke-linejoin="round" stroke-linecap="round"/>
<polyline points="485.5,81.5 486.1,79.4 486.7,77.23 487.3,75.17 487.9,72.69 488.5,70.67 489.1,67.36 489.7,66.6 490.3,66.56 490.9,65.59 491.5,65.28 492.1,63.72 492.7,63.53 493.3,62.65 493.9,62.5 494.5,62.34 495.1,61.47 495.7,61.51 496.3,61.39 496.9,61.96 497.5,61.58 498.1,60.65 498.7,61.22 499.3,60.23 499.9,60.61 500.5,59.82 501.1,59.47 501.7,60.32 502.3,59.32 502.9,59.14 503.5,59.95 504.1,59.7 504.7,58.88 505.3,59.57 505.9,58.95 506.51,59 507.11,58.31 507.71,59.08 508.31,58.66 508.91,58.88 509.51,58.67 510.11,57.84 510.71,57.8 511.31,57.45 511.91,57.31 512.51,57.1 513.11,57.26 513.71,57.51 514.31,56.67 514.91,57.43 515.51,57.05 516.11,57.05 516.71,57.69 517.31,57.31 517.91,57.15 518.51,57.38 519.11,57.68 519.71,56.93 520.31,58.06 520.91,56.95 521.51,57.86 522.11,58 522.71,57.04 523.31,58 523.91,57.52 524.51,57.81 525.11,57.15 525.71,57.23 526.31,57.42 526.91,58.38 527.51,57.5 528.11,58.21 528.71,58.45 529.31,58.49 529.91,57.81 530.51,57.83 531.11,58.05 531.71,58.36 532.31,57.57 532.91,58.34 533.51,58.41 534.11,58.5 534.71,57.52 535.31,58.62 535.91,57.6 536.51,57.91 537.11,58.25 537.71,58.63 538.31,57.94 538.91,58.65 539.51,58.21 540.11,57.94 540.71,57.95 541.31,57.8 541.91,57.69 542.51,57.78 543.11,58.44 543.71,58.82 544.31,57.82 544.91,57.7 545.51,58.83 546.11,58.3 546.71,58.16 547.32,57.96 547.92,58.4 548.52,58.69 549.12,58.25 549.72,58.22 550.32,57.79 550.92,58.84 551.52,57.79 552.12,58.35 552.72,58.77 553.32,57.93 553.92,58.66 554.52,58.94 555.12,58.55 555.72,58.71 556.32,57.88 556.92,58.25 557.52,57.89 558.12,58.7 558.72,58.02 559.32,58.19 559.92,58.83 560.52,58.63 561.12,58.76 561.72,58.11 562.32,58.13 562.92,58.4 563.52,58.08 564.12,57.84 564.72,57.95 565.32,57.62 565.92,57.88 566.52,58.59 567.12,58.54 567.72,58.12 568.32,57.94 568.92,57.73 569.52,57.41 570.12,57.61 570.72,58.2 571.32,58.29 571.92,57.66 572.52,58.15 573.12,58.11 573.72,58 574.32,57.94 574.92,58.04 575.52,57.54 576.12,57.93 576.72,57.4 577.32,57.63 577.92,57.95 578.52,57.83 579.12,57.34 579.72,58.1 580.32,57.72 580.92,57.62 581.52,56.92 582.12,57.54 582.72,57.16 583.32,57.65 583.92,57.38 584.52,57.78 585.12,57.56 585.72,57.72 586.32,57.16 586.92,57.49 587.52,57.59" fill="none" stroke="#3a979b" stroke-width="2.2" stroke-linejoin="round" stroke-linecap="round"/>
<polyline points="486.88,84.95 487.47,83.6 488.06,82.86 488.65,82.25 489.24,81.6 489.84,82.05 490.43,81.48 491.02,81.49 491.61,80.69 492.2,80.82 492.8,79.76 493.39,79.88 493.98,79.28 494.57,78.39 495.16,78.02 495.76,77.68 496.35,76.57 496.94,76.49 497.53,76.28 498.12,75.12 498.72,75.25 499.31,74.59 499.9,74.27 500.49,73.29 501.08,72.71 501.68,73.26 502.27,72.97 502.86,72.25 503.45,71.53 504.04,71.36 504.64,71.59 505.23,70.88 505.82,71.38 506.41,70.65 507,69.89 507.6,70.16 508.19,69.62 508.78,70.12 509.37,69.91 509.97,69.25 510.56,69.23 511.15,69.11 511.74,69.05 512.33,69.07 512.93,67.75 513.52,67.97 514.11,68.07 514.7,67.53 515.29,67.72 515.89,66.97 516.48,67.78 517.07,67.21 517.66,66.57 518.25,67.08 518.85,66.52 519.44,66.23 520.03,66.43 520.62,65.87 521.21,65.81 521.81,66.46 522.4,66.11 522.99,65.14 523.58,65.92 524.17,64.86 524.77,65.09 525.36,65.63 525.95,65.15 526.54,64.63 527.13,64.57 527.73,64.44 528.32,63.98 528.91,64.88 529.5,63.6 530.1,63.9 530.69,64.25 531.28,63.79 531.87,64.45 532.46,63.53 533.06,64.37 533.65,64.22 534.24,63.92 534.83,64.14 535.42,63.57 536.02,63.99 536.61,63.9 537.2,63.53 537.79,63.43 538.38,63.67 538.98,63.28 539.57,62.85 540.16,63.6 540.75,62.98 541.34,63.21 541.94,63.52 542.53,62.75 543.12,62.53 543.71,62.61 544.3,63.13 544.9,62.81 545.49,62.65 546.08,62.84 546.67,63.37 547.26,62.52 547.86,62.67 548.45,63.19 549.04,62.83 549.63,62.38 550.23,62.58 550.82,62.55 551.41,62.1 552,62.35 552.59,62.22 553.19,62.78 553.78,62.16 554.37,62.52 554.96,62.86 555.55,62.77 556.15,62.09 556.74,62.33 557.33,61.96 557.92,62.03 558.51,62.1 559.11,62.44 559.7,62.58 560.29,61.78 560.88,61.41 561.47,61.91 562.07,61.41 562.66,61.35 563.25,62.22 563.84,61.39 564.43,62.09 565.03,61.63 565.62,62.3 566.21,62.17 566.8,61.19 567.39,61.32 567.99,62.19 568.58,61.76 569.17,61.5 569.76,61.91 570.36,61.92 570.95,61.5 571.54,61.44 572.13,60.97 572.72,61.26 573.32,60.97 573.91,61.52 574.5,61.46 575.09,60.88 575.68,61.43 576.28,60.77 576.87,60.75 577.46,61.37 578.05,61.12 578.64,61.61 579.24,61.26 579.83,61.32 580.42,60.6 581.01,61.42 581.6,60.49 582.2,61.1 582.79,61.43 583.38,61.39 583.97,61.35 584.56,60.79 585.16,61.05 585.75,61.14 586.34,60.32 586.93,61.26 587.52,61.19" fill="none" stroke="#c7352f" stroke-width="2.2" stroke-linejoin="round" stroke-linecap="round"/>
</g>
<circle cx="620.3" cy="102.6" r="1.6" fill="#3a979b"/>
<text x="633" y="105.9" font-size="8.7">OA</text>
<circle cx="620.3" cy="113.6" r="1.6" fill="#b3a6a6"/>
<text x="633" y="116.9" font-size="8.7">OctOA</text>
<circle cx="620.3" cy="124.6" r="1.6" fill="#c7352f"/>
<text x="633" y="127.9" font-size="8.7">DEHP</text>
<clipPath id="cc"><rect x="35.3" y="202.3" width="181.1" height="215.7"/></clipPath>
<g clip-path="url(#cc)">
<polyline points="35.3,274 43.01,274 54.21,274 67.21,274.01 80.31,274.01 91.81,274.01 100,274 104.49,274 106.57,274 107.04,274.01 106.73,274 106.44,273.97 107,273.9 108.29,273.81 109.63,273.71 111,273.58 112.37,273.43 113.71,273.25 115,273.03 116.21,272.79 117.37,272.52 118.5,272.22 119.63,271.88 120.79,271.51 122,271.09 123.28,270.65 124.61,270.21 125.97,269.73 127.33,269.17 128.68,268.5 130,267.69 131.28,266.75 132.54,265.68 133.78,264.51 135.02,263.24 136.26,261.87 137.5,260.42 138.78,258.82 140.11,257.04 141.44,255.18 142.72,253.29 143.92,251.46 145,249.75 145.92,248.17 146.72,246.66 147.44,245.2 148.11,243.79 148.78,242.4 149.5,241.02 150.25,239.65 151,238.29 151.76,236.96 152.51,235.67 153.26,234.43 154,233.26 154.74,232.13 155.47,231.03 156.2,229.99 156.93,229.02 157.66,228.16 158.4,227.44 159.13,226.83 159.84,226.31 160.55,225.89 161.29,225.61 162.06,225.47 162.9,225.5 163.81,225.69 164.79,226.02 165.81,226.5 166.84,227.13 167.88,227.93 168.9,228.89 169.9,230.08 170.9,231.5 171.9,233.08 172.9,234.75 173.9,236.45 174.9,238.11 175.9,239.77 176.9,241.49 177.9,243.23 178.9,244.97 179.9,246.67 180.9,248.29 181.9,249.85 182.9,251.35 183.9,252.81 184.9,254.24 185.9,255.64 186.9,257.02 187.88,258.41 188.84,259.81 189.81,261.18 190.79,262.49 191.81,263.7 192.9,264.79 194.06,265.73 195.29,266.55 196.56,267.28 197.85,267.94 199.14,268.56 200.4,269.15 201.63,269.72 202.83,270.23 204.03,270.71 205.25,271.14 206.5,271.52 207.8,271.87 209.26,272.16 210.9,272.41 212.56,272.62 214.13,272.79 215.45,272.92 216.4,273.03" fill="none" stroke="#3f9ca1" stroke-width="1.5" stroke-linejoin="round" stroke-linecap="round"/>
<polyline points="35.3,228.8 36.25,229.27 37.51,229.91 39.04,230.67 40.76,231.5 42.64,232.36 44.6,233.2 46.73,234.04 49.07,234.93 51.57,235.85 54.14,236.77 56.71,237.66 59.2,238.5 61.63,239.29 64.07,240.04 66.5,240.78 68.93,241.49 71.37,242.19 73.8,242.9 76.23,243.61 78.67,244.31 81.1,245 83.53,245.68 85.97,246.35 88.4,247 90.83,247.63 93.27,248.24 95.7,248.84 98.13,249.43 100.57,250.01 103,250.6 105.46,251.2 107.95,251.82 110.44,252.43 112.9,253.03 115.29,253.59 117.6,254.1 119.83,254.55 122.02,254.95 124.15,255.31 126.2,255.66 128.16,256.02 130,256.4 131.73,256.81 133.36,257.23 134.9,257.66 136.35,258.08 137.71,258.5 139,258.9 140.16,259.27 141.17,259.6 142.09,259.92 143,260.26 143.95,260.64 145,261.1 146.16,261.65 147.39,262.28 148.66,262.96 149.94,263.64 151.23,264.3 152.5,264.9 153.75,265.44 155,265.96 156.26,266.44 157.51,266.91 158.76,267.36 160,267.8 161.24,268.23 162.47,268.65 163.7,269.06 164.93,269.44 166.16,269.79 167.4,270.1 168.56,270.37 169.61,270.59 170.68,270.78 171.84,270.96 173.21,271.12 174.9,271.3 176.83,271.48 178.92,271.66 181.21,271.83 183.77,271.99 186.65,272.15 189.9,272.3 193.96,272.45 198.86,272.61 204.09,272.76 209.1,272.9 213.38,273.02 216.4,273.1" fill="none" stroke="#3f9ca1" stroke-width="1.5" stroke-linejoin="round" stroke-linecap="round"/>
<polyline points="35.3,343.7 42.97,343.7 54.1,343.7 67.02,343.7 80.09,343.7 91.63,343.7 100,343.7 104.83,343.7 107.39,343.71 108.42,343.72 108.69,343.73 108.97,343.72 110,343.7 111.7,343.68 113.44,343.66 115.19,343.63 116.89,343.58 118.51,343.47 120,343.31 121.33,343.07 122.53,342.79 123.65,342.46 124.73,342.09 125.83,341.68 127,341.24 128.24,340.8 129.5,340.37 130.78,339.9 132.07,339.34 133.34,338.66 134.6,337.8 135.83,336.75 137.06,335.56 138.27,334.24 139.48,332.81 140.69,331.28 141.9,329.68 143.12,327.95 144.33,326.09 145.55,324.13 146.77,322.12 147.98,320.1 149.2,318.12 150.43,316.13 151.69,314.08 152.94,312.03 154.18,310.02 155.37,308.09 156.5,306.31 157.56,304.63 158.55,303 159.51,301.46 160.44,300.05 161.36,298.78 162.3,297.7 163.24,296.78 164.16,295.99 165.08,295.36 166,294.89 166.94,294.6 167.9,294.5 168.89,294.58 169.9,294.83 170.93,295.26 171.96,295.87 172.99,296.68 174,297.7 175,298.98 175.99,300.54 176.97,302.29 177.95,304.15 178.92,306.06 179.9,307.93 180.86,309.79 181.79,311.72 182.71,313.68 183.66,315.67 184.65,317.64 185.7,319.59 186.83,321.56 188.02,323.58 189.26,325.6 190.51,327.55 191.77,329.39 193,331.06 194.22,332.55 195.43,333.93 196.65,335.18 197.87,336.33 199.08,337.38 200.3,338.34 201.5,339.19 202.68,339.92 203.86,340.55 205.06,341.1 206.3,341.59 207.6,342.03 209.08,342.41 210.75,342.71 212.46,342.95 214.06,343.13 215.43,343.28 216.4,343.4" fill="none" stroke="#b4a6a6" stroke-width="1.5" stroke-linejoin="round" stroke-linecap="round"/>
<polyline points="35.3,292.96 36.01,293.41 36.92,294.2 38,294.33 39.22,294.98 40.56,295.71 41.98,296.04 43.47,297.03 45,297.82 46.61,298.65 48.36,298.74 50.2,299.68 52.12,300.25 54.08,301.67 56.05,302.34 58,302.53 59.9,304.13 61.77,304.87 63.64,305.36 65.52,306.09 67.39,306.44 69.27,307.07 71.15,308.28 73.02,308.59 74.9,309.42 76.78,310.16 78.65,310.65 80.53,311.71 82.4,312.34 84.28,313.34 86.15,313.69 88.03,314.42 89.9,314.9 91.77,315.65 93.65,316.07 95.52,316.5 97.39,317.72 99.27,318.28 101.14,318.69 103.02,319.09 104.9,319.23 106.81,319.63 108.75,320.12 110.7,320.35 112.66,321.38 114.58,321.43 116.46,322.21 118.27,322.15 120,323.01 121.63,323.23 123.16,322.76 124.64,323.21 126.06,324.1 127.46,323.96 128.85,324.69 130.26,324.47 131.7,324.52 133.18,325.39 134.7,325.92 136.22,325.88 137.74,326.15 139.23,326.82 140.69,327.85 142.08,328.14 143.4,328.06 144.63,328.68 145.78,329.08 146.88,329.59 147.93,330.81 148.96,330.82 149.99,331.73 151.03,332.22 152.1,332.68 153.19,333.45 154.26,333.78 155.33,334.56 156.41,334.92 157.49,335.61 158.6,336.07 159.73,336.62 160.9,337.39 162.11,337.79 163.35,338.04 164.62,338.71 165.91,338.86 167.21,339.33 168.52,339.88 169.82,340.14 171.1,340.24 172.36,340.88 173.61,340.82 174.86,341.06 176.11,341.47 177.37,341.47 178.64,341.62 179.95,341.68 181.3,341.84 182.61,342.16 183.85,342.13 185.06,342.36 186.33,342.34 187.69,342.44 189.22,342.71 190.97,342.6 193,342.73 195.53,342.96 198.58,342.83 201.95,342.96 205.43,343.41 208.82,343.51 211.92,343.41 214.51,343.5 216.4,343.8" fill="none" stroke="#b4a6a6" stroke-width="1.5" stroke-linejoin="round" stroke-linecap="round"/>
<polyline points="35.3,416.6 42.97,416.6 54.1,416.6 67.02,416.6 80.09,416.6 91.63,416.6 100,416.6 104.83,416.6 107.39,416.61 108.42,416.62 108.69,416.62 108.97,416.62 110,416.6 111.7,416.59 113.44,416.59 115.19,416.59 116.89,416.56 118.51,416.47 120,416.32 121.33,416.1 122.53,415.83 123.65,415.51 124.73,415.15 125.83,414.73 127,414.28 128.24,413.81 129.5,413.34 130.78,412.82 132.07,412.21 133.34,411.49 134.6,410.61 135.83,409.59 137.06,408.46 138.27,407.2 139.48,405.82 140.69,404.32 141.9,402.68 143.12,400.85 144.33,398.81 145.55,396.65 146.77,394.43 147.98,392.24 149.2,390.15 150.43,388.11 151.69,386.03 152.94,383.98 154.18,382.02 155.37,380.19 156.5,378.55 157.57,377.1 158.6,375.79 159.58,374.62 160.53,373.58 161.43,372.68 162.3,371.92 163.1,371.3 163.81,370.82 164.49,370.49 165.17,370.28 165.9,370.18 166.7,370.2 167.6,370.3 168.56,370.49 169.56,370.8 170.59,371.26 171.61,371.88 172.6,372.71 173.56,373.74 174.49,374.97 175.41,376.37 176.36,377.92 177.35,379.6 178.4,381.38 179.53,383.36 180.72,385.57 181.96,387.9 183.21,390.25 184.47,392.52 185.7,394.61 186.92,396.53 188.13,398.37 189.35,400.13 190.57,401.8 191.78,403.36 193,404.81 194.22,406.14 195.43,407.36 196.65,408.47 197.87,409.49 199.08,410.43 200.3,411.31 201.5,412.12 202.68,412.84 203.86,413.49 205.06,414.06 206.3,414.57 207.6,415.02 209.08,415.4 210.75,415.71 212.46,415.95 214.06,416.14 215.43,416.29 216.4,416.41" fill="none" stroke="#c9403a" stroke-width="1.5" stroke-linejoin="round" stroke-linecap="round"/>
<polyline points="35.3,369.2 36.3,369.49 37.62,369.87 39.22,370.32 41.02,370.87 42.97,371.49 45,372.2 47.18,373.04 49.58,374.01 52.12,375.06 54.73,376.15 57.35,377.21 59.9,378.2 62.39,379.12 64.89,380.02 67.39,380.89 69.9,381.75 72.4,382.58 74.9,383.4 77.4,384.2 79.9,384.98 82.4,385.74 84.9,386.49 87.4,387.2 89.9,387.9 92.4,388.57 94.9,389.21 97.39,389.82 99.89,390.43 102.39,391.02 104.9,391.6 107.45,392.18 110.05,392.75 112.66,393.31 115.21,393.86 117.68,394.39 120,394.9 122.15,395.38 124.15,395.81 126.06,396.24 127.93,396.66 129.79,397.11 131.7,397.6 133.67,398.13 135.66,398.67 137.64,399.24 139.61,399.84 141.54,400.46 143.4,401.1 145.19,401.78 146.91,402.5 148.59,403.24 150.26,404 151.92,404.76 153.6,405.5 155.28,406.24 156.94,407 158.61,407.75 160.29,408.49 162.01,409.21 163.8,409.9 165.63,410.57 167.48,411.22 169.38,411.86 171.33,412.46 173.36,413.01 175.5,413.5 177.63,413.92 179.72,414.29 181.89,414.61 184.26,414.89 186.96,415.15 190.1,415.4 194.11,415.64 198.97,415.87 204.16,416.07 209.15,416.24 213.4,416.39 216.4,416.5" fill="none" stroke="#c9403a" stroke-width="1.5" stroke-linejoin="round" stroke-linecap="round"/>
</g>
<rect x="35.3" y="202.3" width="181.1" height="215.7" fill="none" stroke="#222" stroke-width="0.9"/>
<line x1="35.3" y1="274.1" x2="216.4" y2="274.1" stroke="#222" stroke-width="0.9"/>
<line x1="35.3" y1="346" x2="216.4" y2="346" stroke="#222" stroke-width="0.9"/>
<line x1="35.3" y1="220.6" x2="36.9" y2="220.6" stroke="#222" stroke-width="0.7"/>
<line x1="35.3" y1="238.7" x2="36.9" y2="238.7" stroke="#222" stroke-width="0.7"/>
<line x1="35.3" y1="256.4" x2="36.9" y2="256.4" stroke="#222" stroke-width="0.7"/>
<line x1="35.3" y1="286.2" x2="36.9" y2="286.2" stroke="#222" stroke-width="0.7"/>
<line x1="35.3" y1="298.1" x2="36.9" y2="298.1" stroke="#222" stroke-width="0.7"/>
<line x1="35.3" y1="310.1" x2="36.9" y2="310.1" stroke="#222" stroke-width="0.7"/>
<line x1="35.3" y1="322.4" x2="36.9" y2="322.4" stroke="#222" stroke-width="0.7"/>
<line x1="35.3" y1="334.4" x2="36.9" y2="334.4" stroke="#222" stroke-width="0.7"/>
<line x1="35.3" y1="358.3" x2="36.9" y2="358.3" stroke="#222" stroke-width="0.7"/>
<line x1="35.3" y1="370.2" x2="36.9" y2="370.2" stroke="#222" stroke-width="0.7"/>
<line x1="35.3" y1="382.4" x2="36.9" y2="382.4" stroke="#222" stroke-width="0.7"/>
<line x1="35.3" y1="394.2" x2="36.9" y2="394.2" stroke="#222" stroke-width="0.7"/>
<line x1="35.3" y1="405.9" x2="36.9" y2="405.9" stroke="#222" stroke-width="0.7"/>
<line x1="71.52" y1="274.1" x2="71.52" y2="272.8" stroke="#222" stroke-width="0.7"/>
<line x1="107.74" y1="274.1" x2="107.74" y2="271.9" stroke="#222" stroke-width="0.7"/>
<line x1="143.96" y1="274.1" x2="143.96" y2="272.8" stroke="#222" stroke-width="0.7"/>
<line x1="180.18" y1="274.1" x2="180.18" y2="271.9" stroke="#222" stroke-width="0.7"/>
<line x1="71.52" y1="346" x2="71.52" y2="344.7" stroke="#222" stroke-width="0.7"/>
<line x1="107.74" y1="346" x2="107.74" y2="343.8" stroke="#222" stroke-width="0.7"/>
<line x1="143.96" y1="346" x2="143.96" y2="344.7" stroke="#222" stroke-width="0.7"/>
<line x1="180.18" y1="346" x2="180.18" y2="343.8" stroke="#222" stroke-width="0.7"/>
<line x1="71.52" y1="418" x2="71.52" y2="416.7" stroke="#222" stroke-width="0.7"/>
<line x1="107.74" y1="418" x2="107.74" y2="415.8" stroke="#222" stroke-width="0.7"/>
<line x1="143.96" y1="418" x2="143.96" y2="416.7" stroke="#222" stroke-width="0.7"/>
<line x1="180.18" y1="418" x2="180.18" y2="415.8" stroke="#222" stroke-width="0.7"/>
<text x="35.3" y="428.5" font-size="9.4" text-anchor="middle">600</text>
<text x="107.74" y="428.5" font-size="9.4" text-anchor="middle">700</text>
<text x="180.18" y="428.5" font-size="9.4" text-anchor="middle">800</text>
<text x="127" y="442.8" font-size="9.1" text-anchor="middle">Wavelength (nm)</text>
<text transform="translate(29.1,310.1) rotate(-90)" font-size="9.1" text-anchor="middle">Intensity (norm.)</text>
<line x1="69.1" y1="215.7" x2="90.7" y2="215.7" stroke="#3f9ca1" stroke-width="1.35"/>
<text x="93" y="219.1" font-size="9.4">OA</text>
<line x1="58.1" y1="287.7" x2="79.4" y2="287.7" stroke="#b4a6a6" stroke-width="1.35"/>
<text x="81.8" y="291.1" font-size="9.4">OctOA</text>
<line x1="58.1" y1="359.8" x2="79.4" y2="359.8" stroke="#c9403a" stroke-width="1.35"/>
<text x="81.8" y="363.2" font-size="9.4">DHEP</text>
<rect x="278" y="269.9" width="5" height="4" fill="url(#gd0)"/>
<rect x="283.8" y="263.9" width="5" height="10" fill="url(#gd0)"/>
<rect x="289.6" y="257" width="5" height="16.9" fill="url(#gd0)"/>
<rect x="295.4" y="251" width="5" height="22.9" fill="url(#gd0)"/>
<rect x="301.2" y="247.1" width="5" height="26.8" fill="url(#gd0)"/>
<rect x="307" y="245" width="5" height="28.9" fill="url(#gd0)"/>
<rect x="312.8" y="245.6" width="5" height="28.3" fill="url(#gd0)"/>
<rect x="318.6" y="248.1" width="5" height="25.8" fill="url(#gd0)"/>
<rect x="324.4" y="251.9" width="5" height="22" fill="url(#gd0)"/>
<rect x="330.2" y="256" width="5" height="17.9" fill="url(#gd0)"/>
<rect x="336" y="260.9" width="5" height="13" fill="url(#gd0)"/>
<rect x="341.8" y="265" width="5" height="8.9" fill="url(#gd0)"/>
<rect x="347.6" y="268.2" width="5" height="5.7" fill="url(#gd0)"/>
<rect x="353.4" y="271" width="5" height="2.9" fill="url(#gd0)"/>
<rect x="359.2" y="272.8" width="5" height="1.1" fill="url(#gd0)"/>
<rect x="301.2" y="343.1" width="5" height="2.7" fill="url(#gd1)"/>
<rect x="307" y="342.7" width="5" height="3.1" fill="url(#gd1)"/>
<rect x="312.8" y="342.3" width="5" height="3.5" fill="url(#gd1)"/>
<rect x="318.6" y="341.8" width="5" height="4" fill="url(#gd1)"/>
<rect x="324.4" y="341.4" width="5" height="4.4" fill="url(#gd1)"/>
<rect x="330.2" y="340.5" width="5" height="5.3" fill="url(#gd1)"/>
<rect x="336" y="338.8" width="5" height="7" fill="url(#gd1)"/>
<rect x="341.8" y="335.5" width="5" height="10.3" fill="url(#gd1)"/>
<rect x="347.6" y="331.3" width="5" height="14.5" fill="url(#gd1)"/>
<rect x="353.4" y="327.6" width="5" height="18.2" fill="url(#gd1)"/>
<rect x="359.2" y="323.9" width="5" height="21.9" fill="url(#gd1)"/>
<rect x="365" y="321.2" width="5" height="24.6" fill="url(#gd1)"/>
<rect x="370.8" y="320.1" width="5" height="25.7" fill="url(#gd1)"/>
<rect x="376.6" y="321" width="5" height="24.8" fill="url(#gd1)"/>
<rect x="382.4" y="323.4" width="5" height="22.4" fill="url(#gd1)"/>
<rect x="388.2" y="327.2" width="5" height="18.6" fill="url(#gd1)"/>
<rect x="394" y="331.3" width="5" height="14.5" fill="url(#gd1)"/>
<rect x="399.8" y="335.7" width="5" height="10.1" fill="url(#gd1)"/>
<rect x="405.6" y="339.9" width="5" height="5.9" fill="url(#gd1)"/>
<rect x="411.4" y="343.1" width="5" height="2.7" fill="url(#gd1)"/>
<rect x="417.2" y="344.8" width="5" height="1" fill="url(#gd1)"/>
<rect x="278" y="414" width="5" height="3.4" fill="url(#gd2)"/>
<rect x="283.8" y="403.8" width="5" height="13.6" fill="url(#gd2)"/>
<rect x="289.6" y="390.2" width="5" height="27.2" fill="url(#gd2)"/>
<rect x="295.4" y="378.7" width="5" height="38.7" fill="url(#gd2)"/>
<rect x="301.2" y="373.1" width="5" height="44.3" fill="url(#gd2)"/>
<rect x="307" y="375" width="5" height="42.4" fill="url(#gd2)"/>
<rect x="312.8" y="384.1" width="5" height="33.3" fill="url(#gd2)"/>
<rect x="318.6" y="395.9" width="5" height="21.5" fill="url(#gd2)"/>
<rect x="324.4" y="407.4" width="5" height="10" fill="url(#gd2)"/>
<rect x="330.2" y="415.2" width="5" height="2.2" fill="url(#gd2)"/>
<rect x="257.2" y="202.3" width="181.7" height="215.1" fill="none" stroke="#222" stroke-width="0.9"/>
<line x1="257.2" y1="273.9" x2="438.9" y2="273.9" stroke="#222" stroke-width="0.9"/>
<line x1="257.2" y1="345.8" x2="438.9" y2="345.8" stroke="#222" stroke-width="0.9"/>
<line x1="257.2" y1="226.4" x2="259" y2="226.4" stroke="#222" stroke-width="0.7"/>
<line x1="257.2" y1="250.4" x2="259" y2="250.4" stroke="#222" stroke-width="0.7"/>
<line x1="257.2" y1="298.1" x2="259" y2="298.1" stroke="#222" stroke-width="0.7"/>
<line x1="257.2" y1="322.1" x2="259" y2="322.1" stroke="#222" stroke-width="0.7"/>
<line x1="257.2" y1="370.4" x2="259" y2="370.4" stroke="#222" stroke-width="0.7"/>
<line x1="257.2" y1="393.6" x2="259" y2="393.6" stroke="#222" stroke-width="0.7"/>
<line x1="284.55" y1="273.9" x2="284.55" y2="272.5" stroke="#222" stroke-width="0.7"/>
<line x1="300.55" y1="273.9" x2="300.55" y2="272.5" stroke="#222" stroke-width="0.7"/>
<line x1="311.9" y1="273.9" x2="311.9" y2="272.5" stroke="#222" stroke-width="0.7"/>
<line x1="320.7" y1="273.9" x2="320.7" y2="272.5" stroke="#222" stroke-width="0.7"/>
<line x1="327.9" y1="273.9" x2="327.9" y2="272.5" stroke="#222" stroke-width="0.7"/>
<line x1="333.98" y1="273.9" x2="333.98" y2="272.5" stroke="#222" stroke-width="0.7"/>
<line x1="339.25" y1="273.9" x2="339.25" y2="272.5" stroke="#222" stroke-width="0.7"/>
<line x1="343.89" y1="273.9" x2="343.89" y2="272.5" stroke="#222" stroke-width="0.7"/>
<line x1="348.05" y1="273.9" x2="348.05" y2="271.5" stroke="#222" stroke-width="0.7"/>
<line x1="375.4" y1="273.9" x2="375.4" y2="272.5" stroke="#222" stroke-width="0.7"/>
<line x1="391.4" y1="273.9" x2="391.4" y2="272.5" stroke="#222" stroke-width="0.7"/>
<line x1="402.75" y1="273.9" x2="402.75" y2="272.5" stroke="#222" stroke-width="0.7"/>
<line x1="411.55" y1="273.9" x2="411.55" y2="272.5" stroke="#222" stroke-width="0.7"/>
<line x1="418.75" y1="273.9" x2="418.75" y2="272.5" stroke="#222" stroke-width="0.7"/>
<line x1="424.83" y1="273.9" x2="424.83" y2="272.5" stroke="#222" stroke-width="0.7"/>
<line x1="430.1" y1="273.9" x2="430.1" y2="272.5" stroke="#222" stroke-width="0.7"/>
<line x1="434.74" y1="273.9" x2="434.74" y2="272.5" stroke="#222" stroke-width="0.7"/>
<line x1="284.55" y1="345.8" x2="284.55" y2="344.4" stroke="#222" stroke-width="0.7"/>
<line x1="300.55" y1="345.8" x2="300.55" y2="344.4" stroke="#222" stroke-width="0.7"/>
<line x1="311.9" y1="345.8" x2="311.9" y2="344.4" stroke="#222" stroke-width="0.7"/>
<line x1="320.7" y1="345.8" x2="320.7" y2="344.4" stroke="#222" stroke-width="0.7"/>
<line x1="327.9" y1="345.8" x2="327.9" y2="344.4" stroke="#222" stroke-width="0.7"/>
<line x1="333.98" y1="345.8" x2="333.98" y2="344.4" stroke="#222" stroke-width="0.7"/>
<line x1="339.25" y1="345.8" x2="339.25" y2="344.4" stroke="#222" stroke-width="0.7"/>
<line x1="343.89" y1="345.8" x2="343.89" y2="344.4" stroke="#222" stroke-width="0.7"/>
<line x1="348.05" y1="345.8" x2="348.05" y2="343.4" stroke="#222" stroke-width="0.7"/>
<line x1="375.4" y1="345.8" x2="375.4" y2="344.4" stroke="#222" stroke-width="0.7"/>
<line x1="391.4" y1="345.8" x2="391.4" y2="344.4" stroke="#222" stroke-width="0.7"/>
<line x1="402.75" y1="345.8" x2="402.75" y2="344.4" stroke="#222" stroke-width="0.7"/>
<line x1="411.55" y1="345.8" x2="411.55" y2="344.4" stroke="#222" stroke-width="0.7"/>
<line x1="418.75" y1="345.8" x2="418.75" y2="344.4" stroke="#222" stroke-width="0.7"/>
<line x1="424.83" y1="345.8" x2="424.83" y2="344.4" stroke="#222" stroke-width="0.7"/>
<line x1="430.1" y1="345.8" x2="430.1" y2="344.4" stroke="#222" stroke-width="0.7"/>
<line x1="434.74" y1="345.8" x2="434.74" y2="344.4" stroke="#222" stroke-width="0.7"/>
<line x1="284.55" y1="417.4" x2="284.55" y2="416" stroke="#222" stroke-width="0.7"/>
<line x1="300.55" y1="417.4" x2="300.55" y2="416" stroke="#222" stroke-width="0.7"/>
<line x1="311.9" y1="417.4" x2="311.9" y2="416" stroke="#222" stroke-width="0.7"/>
<line x1="320.7" y1="417.4" x2="320.7" y2="416" stroke="#222" stroke-width="0.7"/>
<line x1="327.9" y1="417.4" x2="327.9" y2="416" stroke="#222" stroke-width="0.7"/>
<line x1="333.98" y1="417.4" x2="333.98" y2="416" stroke="#222" stroke-width="0.7"/>
<line x1="339.25" y1="417.4" x2="339.25" y2="416" stroke="#222" stroke-width="0.7"/>
<line x1="343.89" y1="417.4" x2="343.89" y2="416" stroke="#222" stroke-width="0.7"/>
<line x1="348.05" y1="417.4" x2="348.05" y2="415" stroke="#222" stroke-width="0.7"/>
<line x1="375.4" y1="417.4" x2="375.4" y2="416" stroke="#222" stroke-width="0.7"/>
<line x1="391.4" y1="417.4" x2="391.4" y2="416" stroke="#222" stroke-width="0.7"/>
<line x1="402.75" y1="417.4" x2="402.75" y2="416" stroke="#222" stroke-width="0.7"/>
<line x1="411.55" y1="417.4" x2="411.55" y2="416" stroke="#222" stroke-width="0.7"/>
<line x1="418.75" y1="417.4" x2="418.75" y2="416" stroke="#222" stroke-width="0.7"/>
<line x1="424.83" y1="417.4" x2="424.83" y2="416" stroke="#222" stroke-width="0.7"/>
<line x1="430.1" y1="417.4" x2="430.1" y2="416" stroke="#222" stroke-width="0.7"/>
<line x1="434.74" y1="417.4" x2="434.74" y2="416" stroke="#222" stroke-width="0.7"/>
<text x="257.2" y="428.2" font-size="8.8" text-anchor="middle">10</text>
<text x="348.05" y="428.2" font-size="8.8" text-anchor="middle">100</text>
<text x="438.9" y="428.2" font-size="8.8" text-anchor="middle">1000</text>
<text x="348.2" y="442.9" font-size="9.2" text-anchor="middle">Size (nm)</text>
<text transform="translate(250.9,309.5) rotate(-90)" font-size="9.1" text-anchor="middle">Intensity (%)</text>
<rect x="379.1" y="210.6" width="20.7" height="10.2" fill="url(#gd0)"/>
<text x="402.8" y="219.2" font-size="9.4">OA</text>
<rect x="379.1" y="282.5" width="20.7" height="10.2" fill="url(#gd1)"/>
<text x="402.8" y="291.1" font-size="9.4">OctOA</text>
<rect x="379.1" y="354.4" width="20.7" height="10.2" fill="url(#gd2)"/>
<text x="402.8" y="363" font-size="9.4">DEHP</text>
<polyline points="507.6,262.5 559.7,222.1 611.8,211.1 663.8,217.4" fill="none" stroke="#3a979b" stroke-width="1.3" stroke-linejoin="round" stroke-linecap="round"/>
<path d="M507.6,259.1L511.3,265.1L503.9,265.1Z" fill="#3a979b"/>
<path d="M559.7,218.7L563.4,224.7L556,224.7Z" fill="#3a979b"/>
<path d="M611.8,207.7L615.5,213.7L608.1,213.7Z" fill="#3a979b"/>
<path d="M663.8,214L667.5,220L660.1,220Z" fill="#3a979b"/>
<polyline points="507.6,320.6 559.7,284.7 611.8,283.2 663.8,289.8" fill="none" stroke="#b5a7a7" stroke-width="1.3" stroke-linejoin="round" stroke-linecap="round"/>
<circle cx="507.6" cy="320.6" r="2.8" fill="#b5a7a7"/>
<circle cx="559.7" cy="284.7" r="2.8" fill="#b5a7a7"/>
<circle cx="611.8" cy="283.2" r="2.8" fill="#b5a7a7"/>
<circle cx="663.8" cy="289.8" r="2.8" fill="#b5a7a7"/>
<polyline points="507.6,367.2 559.7,355 611.8,358 663.8,366.3" fill="none" stroke="#c8342f" stroke-width="1.3" stroke-linejoin="round" stroke-linecap="round"/>
<rect x="505.2" y="364.8" width="4.8" height="4.8" fill="#c8342f"/>
<rect x="557.3" y="352.6" width="4.8" height="4.8" fill="#c8342f"/>
<rect x="609.4" y="355.6" width="4.8" height="4.8" fill="#c8342f"/>
<rect x="661.4" y="363.9" width="4.8" height="4.8" fill="#c8342f"/>
<rect x="496.6" y="202.2" width="181.4" height="215.7" fill="none" stroke="#222" stroke-width="0.9"/>
<line x1="496.6" y1="274.1" x2="678" y2="274.1" stroke="#222" stroke-width="0.9"/>
<line x1="496.6" y1="345.9" x2="678" y2="345.9" stroke="#222" stroke-width="0.9"/>
<line x1="496.6" y1="211.5" x2="499.2" y2="211.5" stroke="#222" stroke-width="0.7"/>
<text x="494.2" y="214.6" font-size="8.8" text-anchor="end">1.0</text>
<line x1="496.6" y1="220.45" x2="498.1" y2="220.45" stroke="#222" stroke-width="0.7"/>
<line x1="496.6" y1="229.4" x2="499.2" y2="229.4" stroke="#222" stroke-width="0.7"/>
<text x="494.2" y="232.5" font-size="8.8" text-anchor="end">0.8</text>
<line x1="496.6" y1="238.35" x2="498.1" y2="238.35" stroke="#222" stroke-width="0.7"/>
<line x1="496.6" y1="247.3" x2="499.2" y2="247.3" stroke="#222" stroke-width="0.7"/>
<text x="494.2" y="250.4" font-size="8.8" text-anchor="end">0.6</text>
<line x1="496.6" y1="256.25" x2="498.1" y2="256.25" stroke="#222" stroke-width="0.7"/>
<line x1="496.6" y1="265.2" x2="499.2" y2="265.2" stroke="#222" stroke-width="0.7"/>
<text x="494.2" y="268.3" font-size="8.8" text-anchor="end">0.4</text>
<line x1="501.44" y1="274.1" x2="501.44" y2="272.7" stroke="#222" stroke-width="0.7"/>
<line x1="505.29" y1="274.1" x2="505.29" y2="272.7" stroke="#222" stroke-width="0.7"/>
<line x1="508.63" y1="274.1" x2="508.63" y2="272.7" stroke="#222" stroke-width="0.7"/>
<line x1="511.57" y1="274.1" x2="511.57" y2="272.7" stroke="#222" stroke-width="0.7"/>
<line x1="514.2" y1="274.1" x2="514.2" y2="271.7" stroke="#222" stroke-width="0.7"/>
<line x1="531.51" y1="274.1" x2="531.51" y2="272.7" stroke="#222" stroke-width="0.7"/>
<line x1="541.63" y1="274.1" x2="541.63" y2="272.7" stroke="#222" stroke-width="0.7"/>
<line x1="548.82" y1="274.1" x2="548.82" y2="272.7" stroke="#222" stroke-width="0.7"/>
<line x1="554.39" y1="274.1" x2="554.39" y2="272.7" stroke="#222" stroke-width="0.7"/>
<line x1="558.94" y1="274.1" x2="558.94" y2="272.7" stroke="#222" stroke-width="0.7"/>
<line x1="562.79" y1="274.1" x2="562.79" y2="272.7" stroke="#222" stroke-width="0.7"/>
<line x1="566.13" y1="274.1" x2="566.13" y2="272.7" stroke="#222" stroke-width="0.7"/>
<line x1="569.07" y1="274.1" x2="569.07" y2="272.7" stroke="#222" stroke-width="0.7"/>
<line x1="571.7" y1="274.1" x2="571.7" y2="271.7" stroke="#222" stroke-width="0.7"/>
<line x1="589.01" y1="274.1" x2="589.01" y2="272.7" stroke="#222" stroke-width="0.7"/>
<line x1="599.13" y1="274.1" x2="599.13" y2="272.7" stroke="#222" stroke-width="0.7"/>
<line x1="606.32" y1="274.1" x2="606.32" y2="272.7" stroke="#222" stroke-width="0.7"/>
<line x1="611.89" y1="274.1" x2="611.89" y2="272.7" stroke="#222" stroke-width="0.7"/>
<line x1="616.44" y1="274.1" x2="616.44" y2="272.7" stroke="#222" stroke-width="0.7"/>
<line x1="620.29" y1="274.1" x2="620.29" y2="272.7" stroke="#222" stroke-width="0.7"/>
<line x1="623.63" y1="274.1" x2="623.63" y2="272.7" stroke="#222" stroke-width="0.7"/>
<line x1="626.57" y1="274.1" x2="626.57" y2="272.7" stroke="#222" stroke-width="0.7"/>
<line x1="629.2" y1="274.1" x2="629.2" y2="271.7" stroke="#222" stroke-width="0.7"/>
<line x1="646.51" y1="274.1" x2="646.51" y2="272.7" stroke="#222" stroke-width="0.7"/>
<line x1="656.63" y1="274.1" x2="656.63" y2="272.7" stroke="#222" stroke-width="0.7"/>
<line x1="663.82" y1="274.1" x2="663.82" y2="272.7" stroke="#222" stroke-width="0.7"/>
<line x1="669.39" y1="274.1" x2="669.39" y2="272.7" stroke="#222" stroke-width="0.7"/>
<line x1="673.94" y1="274.1" x2="673.94" y2="272.7" stroke="#222" stroke-width="0.7"/>
<line x1="496.6" y1="283.4" x2="499.2" y2="283.4" stroke="#222" stroke-width="0.7"/>
<text x="494.2" y="286.5" font-size="8.8" text-anchor="end">1.0</text>
<line x1="496.6" y1="292.35" x2="498.1" y2="292.35" stroke="#222" stroke-width="0.7"/>
<line x1="496.6" y1="301.3" x2="499.2" y2="301.3" stroke="#222" stroke-width="0.7"/>
<text x="494.2" y="304.4" font-size="8.8" text-anchor="end">0.8</text>
<line x1="496.6" y1="310.25" x2="498.1" y2="310.25" stroke="#222" stroke-width="0.7"/>
<line x1="496.6" y1="319.2" x2="499.2" y2="319.2" stroke="#222" stroke-width="0.7"/>
<text x="494.2" y="322.3" font-size="8.8" text-anchor="end">0.6</text>
<line x1="496.6" y1="328.15" x2="498.1" y2="328.15" stroke="#222" stroke-width="0.7"/>
<line x1="496.6" y1="337.1" x2="499.2" y2="337.1" stroke="#222" stroke-width="0.7"/>
<text x="494.2" y="340.2" font-size="8.8" text-anchor="end">0.4</text>
<line x1="501.44" y1="345.9" x2="501.44" y2="344.5" stroke="#222" stroke-width="0.7"/>
<line x1="505.29" y1="345.9" x2="505.29" y2="344.5" stroke="#222" stroke-width="0.7"/>
<line x1="508.63" y1="345.9" x2="508.63" y2="344.5" stroke="#222" stroke-width="0.7"/>
<line x1="511.57" y1="345.9" x2="511.57" y2="344.5" stroke="#222" stroke-width="0.7"/>
<line x1="514.2" y1="345.9" x2="514.2" y2="343.5" stroke="#222" stroke-width="0.7"/>
<line x1="531.51" y1="345.9" x2="531.51" y2="344.5" stroke="#222" stroke-width="0.7"/>
<line x1="541.63" y1="345.9" x2="541.63" y2="344.5" stroke="#222" stroke-width="0.7"/>
<line x1="548.82" y1="345.9" x2="548.82" y2="344.5" stroke="#222" stroke-width="0.7"/>
<line x1="554.39" y1="345.9" x2="554.39" y2="344.5" stroke="#222" stroke-width="0.7"/>
<line x1="558.94" y1="345.9" x2="558.94" y2="344.5" stroke="#222" stroke-width="0.7"/>
<line x1="562.79" y1="345.9" x2="562.79" y2="344.5" stroke="#222" stroke-width="0.7"/>
<line x1="566.13" y1="345.9" x2="566.13" y2="344.5" stroke="#222" stroke-width="0.7"/>
<line x1="569.07" y1="345.9" x2="569.07" y2="344.5" stroke="#222" stroke-width="0.7"/>
<line x1="571.7" y1="345.9" x2="571.7" y2="343.5" stroke="#222" stroke-width="0.7"/>
<line x1="589.01" y1="345.9" x2="589.01" y2="344.5" stroke="#222" stroke-width="0.7"/>
<line x1="599.13" y1="345.9" x2="599.13" y2="344.5" stroke="#222" stroke-width="0.7"/>
<line x1="606.32" y1="345.9" x2="606.32" y2="344.5" stroke="#222" stroke-width="0.7"/>
<line x1="611.89" y1="345.9" x2="611.89" y2="344.5" stroke="#222" stroke-width="0.7"/>
<line x1="616.44" y1="345.9" x2="616.44" y2="344.5" stroke="#222" stroke-width="0.7"/>
<line x1="620.29" y1="345.9" x2="620.29" y2="344.5" stroke="#222" stroke-width="0.7"/>
<line x1="623.63" y1="345.9" x2="623.63" y2="344.5" stroke="#222" stroke-width="0.7"/>
<line x1="626.57" y1="345.9" x2="626.57" y2="344.5" stroke="#222" stroke-width="0.7"/>
<line x1="629.2" y1="345.9" x2="629.2" y2="343.5" stroke="#222" stroke-width="0.7"/>
<line x1="646.51" y1="345.9" x2="646.51" y2="344.5" stroke="#222" stroke-width="0.7"/>
<line x1="656.63" y1="345.9" x2="656.63" y2="344.5" stroke="#222" stroke-width="0.7"/>
<line x1="663.82" y1="345.9" x2="663.82" y2="344.5" stroke="#222" stroke-width="0.7"/>
<line x1="669.39" y1="345.9" x2="669.39" y2="344.5" stroke="#222" stroke-width="0.7"/>
<line x1="673.94" y1="345.9" x2="673.94" y2="344.5" stroke="#222" stroke-width="0.7"/>
<line x1="496.6" y1="355.2" x2="499.2" y2="355.2" stroke="#222" stroke-width="0.7"/>
<text x="494.2" y="358.3" font-size="8.8" text-anchor="end">1.0</text>
<line x1="496.6" y1="364.15" x2="498.1" y2="364.15" stroke="#222" stroke-width="0.7"/>
<line x1="496.6" y1="373.1" x2="499.2" y2="373.1" stroke="#222" stroke-width="0.7"/>
<text x="494.2" y="376.2" font-size="8.8" text-anchor="end">0.8</text>
<line x1="496.6" y1="382.05" x2="498.1" y2="382.05" stroke="#222" stroke-width="0.7"/>
<line x1="496.6" y1="391" x2="499.2" y2="391" stroke="#222" stroke-width="0.7"/>
<text x="494.2" y="394.1" font-size="8.8" text-anchor="end">0.6</text>
<line x1="496.6" y1="399.95" x2="498.1" y2="399.95" stroke="#222" stroke-width="0.7"/>
<line x1="496.6" y1="408.9" x2="499.2" y2="408.9" stroke="#222" stroke-width="0.7"/>
<text x="494.2" y="412" font-size="8.8" text-anchor="end">0.4</text>
<line x1="501.44" y1="417.9" x2="501.44" y2="416.5" stroke="#222" stroke-width="0.7"/>
<line x1="505.29" y1="417.9" x2="505.29" y2="416.5" stroke="#222" stroke-width="0.7"/>
<line x1="508.63" y1="417.9" x2="508.63" y2="416.5" stroke="#222" stroke-width="0.7"/>
<line x1="511.57" y1="417.9" x2="511.57" y2="416.5" stroke="#222" stroke-width="0.7"/>
<line x1="514.2" y1="417.9" x2="514.2" y2="415.5" stroke="#222" stroke-width="0.7"/>
<line x1="531.51" y1="417.9" x2="531.51" y2="416.5" stroke="#222" stroke-width="0.7"/>
<line x1="541.63" y1="417.9" x2="541.63" y2="416.5" stroke="#222" stroke-width="0.7"/>
<line x1="548.82" y1="417.9" x2="548.82" y2="416.5" stroke="#222" stroke-width="0.7"/>
<line x1="554.39" y1="417.9" x2="554.39" y2="416.5" stroke="#222" stroke-width="0.7"/>
<line x1="558.94" y1="417.9" x2="558.94" y2="416.5" stroke="#222" stroke-width="0.7"/>
<line x1="562.79" y1="417.9" x2="562.79" y2="416.5" stroke="#222" stroke-width="0.7"/>
<line x1="566.13" y1="417.9" x2="566.13" y2="416.5" stroke="#222" stroke-width="0.7"/>
<line x1="569.07" y1="417.9" x2="569.07" y2="416.5" stroke="#222" stroke-width="0.7"/>
<line x1="571.7" y1="417.9" x2="571.7" y2="415.5" stroke="#222" stroke-width="0.7"/>
<line x1="589.01" y1="417.9" x2="589.01" y2="416.5" stroke="#222" stroke-width="0.7"/>
<line x1="599.13" y1="417.9" x2="599.13" y2="416.5" stroke="#222" stroke-width="0.7"/>
<line x1="606.32" y1="417.9" x2="606.32" y2="416.5" stroke="#222" stroke-width="0.7"/>
<line x1="611.89" y1="417.9" x2="611.89" y2="416.5" stroke="#222" stroke-width="0.7"/>
<line x1="616.44" y1="417.9" x2="616.44" y2="416.5" stroke="#222" stroke-width="0.7"/>
<line x1="620.29" y1="417.9" x2="620.29" y2="416.5" stroke="#222" stroke-width="0.7"/>
<line x1="623.63" y1="417.9" x2="623.63" y2="416.5" stroke="#222" stroke-width="0.7"/>
<line x1="626.57" y1="417.9" x2="626.57" y2="416.5" stroke="#222" stroke-width="0.7"/>
<line x1="629.2" y1="417.9" x2="629.2" y2="415.5" stroke="#222" stroke-width="0.7"/>
<line x1="646.51" y1="417.9" x2="646.51" y2="416.5" stroke="#222" stroke-width="0.7"/>
<line x1="656.63" y1="417.9" x2="656.63" y2="416.5" stroke="#222" stroke-width="0.7"/>
<line x1="663.82" y1="417.9" x2="663.82" y2="416.5" stroke="#222" stroke-width="0.7"/>
<line x1="669.39" y1="417.9" x2="669.39" y2="416.5" stroke="#222" stroke-width="0.7"/>
<line x1="673.94" y1="417.9" x2="673.94" y2="416.5" stroke="#222" stroke-width="0.7"/>
<text x="514.2" y="428.3" font-size="8.8" text-anchor="middle">0.01</text>
<text x="571.7" y="428.3" font-size="8.8" text-anchor="middle">0.1</text>
<text x="629.2" y="428.3" font-size="8.8" text-anchor="middle">1</text>
<text x="588.5" y="442.6" font-size="9.2" text-anchor="middle">QDs concentration (mg mL<tspan dy="-3.2" font-size="6.2">-1</tspan><tspan dy="3.2">)</tspan></text>
<text transform="translate(475.2,309.8) rotate(-90)" font-size="9.3" text-anchor="middle">PLQY Values (norm.)</text>
<line x1="618.7" y1="256.4" x2="640.2" y2="256.4" stroke="#3a979b" stroke-width="1.3"/>
<path d="M629.7,252.7L633.4,258.7L626,258.7Z" fill="#3a979b"/>
<text x="642.7" y="259.7" font-size="9.2">OA</text>
<line x1="618.7" y1="327.8" x2="640.2" y2="327.8" stroke="#b5a7a7" stroke-width="1.3"/>
<circle cx="629.6" cy="327.8" r="2.8" fill="#b5a7a7"/>
<text x="643" y="331.1" font-size="9.2">OctOA</text>
<line x1="618.7" y1="400.2" x2="640.2" y2="400.2" stroke="#c8342f" stroke-width="1.3"/>
<rect x="627.2" y="397.8" width="4.8" height="4.8" fill="#c8342f"/>
<text x="642.6" y="403.5" font-size="9.2">DEHP</text>
<line x1="551" y1="384.3" x2="579.7" y2="384.3" stroke="#111" stroke-width="1.1"/>
<path d="M546.6,384.3L554.2,380.6L552.3,384.3L554.2,388Z" fill="#111"/>
<text x="564.4" y="398.9" font-size="9.5" text-anchor="middle">Dilution</text>
<g>
<rect x="38.3" y="468.9" width="25.5" height="54.8" fill="url(#fbg)"/>
<rect x="40.9" y="469.9" width="20.5" height="51.2" fill="url(#fgl)"/>
<line x1="41.9" y1="470.1" x2="43.9" y2="470.1" stroke="#555" stroke-width="0.8"/>
<line x1="58.4" y1="470.1" x2="60.4" y2="470.1" stroke="#555" stroke-width="0.8"/>
<line x1="43.9" y1="470.1" x2="58.4" y2="470.1" stroke="#aaa" stroke-width="0.5"/>
<path d="M41.5,500.4L41.5,498.9Q47.29,494.9 52.11,497.9T60.8,495.9L60.8,500.4Z" fill="url(#fbd00)" filter="url(#fb)"/>
<path d="M41.5,500.4L51.15,500.4L60.8,500.4L60.8,517.2Q60.8,518.7 58.8,518.7L43.5,518.7Q41.5,518.7 41.5,517.2Z" fill="url(#fdk)"/>
<line x1="43" y1="518.5" x2="59.3" y2="518.5" stroke="#7a5a38" stroke-width="0.7"/>
</g>
<g>
<rect x="74.2" y="468.9" width="25.3" height="54.8" fill="url(#fbg)"/>
<rect x="76.8" y="469.9" width="20.3" height="51.2" fill="url(#fgl)"/>
<line x1="77.8" y1="470.1" x2="79.8" y2="470.1" stroke="#555" stroke-width="0.8"/>
<line x1="94.1" y1="470.1" x2="96.1" y2="470.1" stroke="#555" stroke-width="0.8"/>
<line x1="79.8" y1="470.1" x2="94.1" y2="470.1" stroke="#aaa" stroke-width="0.5"/>
<path d="M77.4,501.9L77.4,499.9Q83.13,495.9 87.91,498.9T96.5,496.9L96.5,501.9Z" fill="url(#fbd01)" filter="url(#fb)"/>
<path d="M77.4,501.9L86.95,501.9L96.5,501.9L96.5,518Q96.5,519.5 94.5,519.5L79.4,519.5Q77.4,519.5 77.4,518Z" fill="url(#fdk)"/>
<line x1="78.9" y1="519.3" x2="95" y2="519.3" stroke="#7a5a38" stroke-width="0.7"/>
</g>
<g>
<rect x="108.8" y="468.9" width="25.1" height="54.8" fill="url(#fbg)"/>
<rect x="111.4" y="469.9" width="20.1" height="51.2" fill="url(#fgl)"/>
<line x1="112.4" y1="470.1" x2="114.4" y2="470.1" stroke="#555" stroke-width="0.8"/>
<line x1="128.5" y1="470.1" x2="130.5" y2="470.1" stroke="#555" stroke-width="0.8"/>
<line x1="114.4" y1="470.1" x2="128.5" y2="470.1" stroke="#aaa" stroke-width="0.5"/>
<path d="M112,501.4L112,497.9Q117.67,493.9 122.39,496.9T130.9,494.9L130.9,501.4Z" fill="url(#fbd02)" filter="url(#fb)"/>
<path d="M112,501.4L121.45,501.4L130.9,501.4L130.9,518.7Q130.9,520.2 128.9,520.2L114,520.2Q112,520.2 112,518.7Z" fill="url(#fdk)"/>
<line x1="113.5" y1="520" x2="129.4" y2="520" stroke="#7a5a38" stroke-width="0.7"/>
</g>
<g>
<rect x="143.1" y="468.9" width="24.7" height="54.8" fill="url(#fbg)"/>
<rect x="145.7" y="469.9" width="19.7" height="51.2" fill="url(#fgl)"/>
<line x1="146.7" y1="470.1" x2="148.7" y2="470.1" stroke="#555" stroke-width="0.8"/>
<line x1="162.4" y1="470.1" x2="164.4" y2="470.1" stroke="#555" stroke-width="0.8"/>
<line x1="148.7" y1="470.1" x2="162.4" y2="470.1" stroke="#aaa" stroke-width="0.5"/>
<path d="M146.3,501.7L146.3,487.9Q151.85,483.9 156.47,486.9T164.8,484.9L164.8,501.7Z" fill="url(#fbd03)" filter="url(#fb)"/>
<path d="M146.3,501.7L155.55,501.7L164.8,501.7L164.8,520.1Q164.8,521.6 162.8,521.6L148.3,521.6Q146.3,521.6 146.3,520.1Z" fill="url(#fdk)"/>
<line x1="147.8" y1="521.4" x2="163.3" y2="521.4" stroke="#7a5a38" stroke-width="0.7"/>
</g>
<g>
<rect x="178.2" y="468.9" width="24.8" height="54.8" fill="url(#fbg)"/>
<rect x="180.8" y="469.9" width="19.8" height="51.2" fill="url(#fgl)"/>
<line x1="181.8" y1="470.1" x2="183.8" y2="470.1" stroke="#555" stroke-width="0.8"/>
<line x1="197.6" y1="470.1" x2="199.6" y2="470.1" stroke="#555" stroke-width="0.8"/>
<line x1="183.8" y1="470.1" x2="197.6" y2="470.1" stroke="#aaa" stroke-width="0.5"/>
<path d="M181.4,504.7L181.4,488.9Q186.98,484.9 191.63,487.9T200,485.9L200,504.7Z" fill="url(#fbd04)" filter="url(#fb)"/>
<path d="M181.4,504.7L190.7,504.7L200,504.7L200,518.1Q200,519.6 198,519.6L183.4,519.6Q181.4,519.6 181.4,518.1Z" fill="#2b211b"/>
<line x1="182.9" y1="519.4" x2="198.5" y2="519.4" stroke="#7a5a38" stroke-width="0.7"/>
</g>
<g>
<rect x="214.1" y="468.9" width="24.6" height="54.8" fill="url(#fbg)"/>
<rect x="216.7" y="469.9" width="19.6" height="51.2" fill="url(#fgl)"/>
<line x1="217.7" y1="470.1" x2="219.7" y2="470.1" stroke="#555" stroke-width="0.8"/>
<line x1="233.3" y1="470.1" x2="235.3" y2="470.1" stroke="#555" stroke-width="0.8"/>
<line x1="219.7" y1="470.1" x2="233.3" y2="470.1" stroke="#aaa" stroke-width="0.5"/>
<path d="M217.3,489.9L217.3,489.9Q222.82,485.9 227.42,488.9T235.7,486.9L235.7,489.9Z" fill="url(#fbd05)" filter="url(#fb)"/>
<path d="M217.3,489.9L226.5,489.9L235.7,489.9L235.7,518.1Q235.7,519.6 233.7,519.6L219.3,519.6Q217.3,519.6 217.3,518.1Z" fill="#2b211b"/>
<line x1="218.8" y1="519.4" x2="234.2" y2="519.4" stroke="#7a5a38" stroke-width="0.7"/>
</g>
<g>
<rect x="249.2" y="468.9" width="24.4" height="54.8" fill="url(#fbg)"/>
<rect x="251.8" y="469.9" width="19.4" height="51.2" fill="url(#fgl)"/>
<line x1="252.8" y1="470.1" x2="254.8" y2="470.1" stroke="#555" stroke-width="0.8"/>
<line x1="268.2" y1="470.1" x2="270.2" y2="470.1" stroke="#555" stroke-width="0.8"/>
<line x1="254.8" y1="470.1" x2="268.2" y2="470.1" stroke="#aaa" stroke-width="0.5"/>
<rect x="252.4" y="471.4" width="18.2" height="15.4" fill="#e2ddd8"/>
<circle cx="266.55" cy="483.74" r="0.49" fill="#6a5848"/>
<circle cx="257.4" cy="471.91" r="0.57" fill="#6a5848"/>
<circle cx="260.99" cy="482.84" r="0.45" fill="#6a5848"/>
<circle cx="266.15" cy="475.83" r="0.62" fill="#6a5848"/>
<circle cx="265.45" cy="477.86" r="0.52" fill="#6a5848"/>
<circle cx="264.63" cy="474.68" r="0.52" fill="#6a5848"/>
<circle cx="266.75" cy="475.72" r="0.62" fill="#6a5848"/>
<circle cx="264.69" cy="484.06" r="0.43" fill="#6a5848"/>
<circle cx="254.5" cy="483.42" r="0.62" fill="#6a5848"/>
<circle cx="260.56" cy="473.25" r="0.38" fill="#6a5848"/>
<circle cx="263.82" cy="476.09" r="0.68" fill="#6a5848"/>
<circle cx="263.02" cy="474.79" r="0.56" fill="#6a5848"/>
<circle cx="259.1" cy="485.33" r="0.66" fill="#6a5848"/>
<circle cx="261.75" cy="481.18" r="0.58" fill="#6a5848"/>
<circle cx="266.75" cy="485.96" r="0.31" fill="#6a5848"/>
<circle cx="259.12" cy="480.57" r="0.42" fill="#6a5848"/>
<circle cx="263.03" cy="473.19" r="0.65" fill="#6a5848"/>
<circle cx="261.93" cy="473.58" r="0.57" fill="#6a5848"/>
<circle cx="258.27" cy="474.73" r="0.49" fill="#6a5848"/>
<circle cx="255.28" cy="474.92" r="0.65" fill="#6a5848"/>
<circle cx="264.91" cy="472.08" r="0.61" fill="#6a5848"/>
<circle cx="253.19" cy="476.69" r="0.66" fill="#6a5848"/>
<path d="M252.4,486.8L261.5,486.8L270.6,486.8L270.6,517.1Q270.6,518.6 268.6,518.6L254.4,518.6Q252.4,518.6 252.4,517.1Z" fill="#2b211b"/>
<line x1="253.9" y1="518.4" x2="269.1" y2="518.4" stroke="#7a5a38" stroke-width="0.7"/>
</g>
<g>
<rect x="38.3" y="528.1" width="25.5" height="55.5" fill="url(#fbg)"/>
<rect x="40.9" y="529.1" width="20.5" height="51.9" fill="url(#fgl)"/>
<line x1="41.9" y1="529.3" x2="43.9" y2="529.3" stroke="#555" stroke-width="0.8"/>
<line x1="58.4" y1="529.3" x2="60.4" y2="529.3" stroke="#555" stroke-width="0.8"/>
<line x1="43.9" y1="529.3" x2="58.4" y2="529.3" stroke="#aaa" stroke-width="0.5"/>
<path d="M41.5,558L41.5,553.1Q47.29,549.1 52.11,552.1T60.8,550.1L60.8,558Z" fill="url(#fbd10)" filter="url(#fb)"/>
<path d="M41.5,558L51.15,558L60.8,558L60.8,576.4Q60.8,577.9 58.8,577.9L43.5,577.9Q41.5,577.9 41.5,576.4Z" fill="url(#fdk)"/>
<line x1="43" y1="577.7" x2="59.3" y2="577.7" stroke="#7a5a38" stroke-width="0.7"/>
</g>
<g>
<rect x="74.2" y="528.1" width="25.3" height="55.5" fill="url(#fbg)"/>
<rect x="76.8" y="529.1" width="20.3" height="51.9" fill="url(#fgl)"/>
<line x1="77.8" y1="529.3" x2="79.8" y2="529.3" stroke="#555" stroke-width="0.8"/>
<line x1="94.1" y1="529.3" x2="96.1" y2="529.3" stroke="#555" stroke-width="0.8"/>
<line x1="79.8" y1="529.3" x2="94.1" y2="529.3" stroke="#aaa" stroke-width="0.5"/>
<path d="M77.4,561L77.4,553.1Q83.13,549.1 87.91,552.1T96.5,550.1L96.5,561Z" fill="url(#fbd11)" filter="url(#fb)"/>
<path d="M77.4,561L86.95,561L96.5,561L96.5,577.9Q96.5,579.4 94.5,579.4L79.4,579.4Q77.4,579.4 77.4,577.9Z" fill="url(#fdk)"/>
<line x1="78.9" y1="579.2" x2="95" y2="579.2" stroke="#7a5a38" stroke-width="0.7"/>
</g>
<g>
<rect x="108.8" y="528.1" width="25.1" height="55.5" fill="url(#fbg)"/>
<rect x="111.4" y="529.1" width="20.1" height="51.9" fill="url(#fgl)"/>
<line x1="112.4" y1="529.3" x2="114.4" y2="529.3" stroke="#555" stroke-width="0.8"/>
<line x1="128.5" y1="529.3" x2="130.5" y2="529.3" stroke="#555" stroke-width="0.8"/>
<line x1="114.4" y1="529.3" x2="128.5" y2="529.3" stroke="#aaa" stroke-width="0.5"/>
<path d="M112,554.9L112,552.3Q117.67,548.3 122.39,551.3T130.9,549.3L130.9,554.9Z" fill="url(#fbd12)" filter="url(#fb)"/>
<path d="M112,554.9L121.45,554.9L130.9,554.9L130.9,577.1Q130.9,578.6 128.9,578.6L114,578.6Q112,578.6 112,577.1Z" fill="#2b211b"/>
<line x1="113.5" y1="578.4" x2="129.4" y2="578.4" stroke="#7a5a38" stroke-width="0.7"/>
</g>
<g>
<rect x="143.1" y="528.1" width="24.7" height="55.5" fill="url(#fbg)"/>
<rect x="145.7" y="529.1" width="19.7" height="51.9" fill="url(#fgl)"/>
<line x1="146.7" y1="529.3" x2="148.7" y2="529.3" stroke="#555" stroke-width="0.8"/>
<line x1="162.4" y1="529.3" x2="164.4" y2="529.3" stroke="#555" stroke-width="0.8"/>
<line x1="148.7" y1="529.3" x2="162.4" y2="529.3" stroke="#aaa" stroke-width="0.5"/>
<path d="M146.3,547.8L146.3,549.8Q151.85,545.8 156.47,548.8T164.8,546.8L164.8,547.8Z" fill="url(#fbd13)" filter="url(#fb)"/>
<path d="M146.3,547.8L155.55,550.9L164.8,549.1L164.8,580.1Q164.8,581.6 162.8,581.6L148.3,581.6Q146.3,581.6 146.3,580.1Z" fill="#2b211b"/>
<line x1="147.8" y1="581.4" x2="163.3" y2="581.4" stroke="#7a5a38" stroke-width="0.7"/>
</g>
<g>
<rect x="178.2" y="528.1" width="24.8" height="55.5" fill="url(#fbg)"/>
<rect x="180.8" y="529.1" width="19.8" height="51.9" fill="url(#fgl)"/>
<line x1="181.8" y1="529.3" x2="183.8" y2="529.3" stroke="#555" stroke-width="0.8"/>
<line x1="197.6" y1="529.3" x2="199.6" y2="529.3" stroke="#555" stroke-width="0.8"/>
<line x1="183.8" y1="529.3" x2="197.6" y2="529.3" stroke="#aaa" stroke-width="0.5"/>
<path d="M181.4,546.6L181.4,548.6Q186.98,544.6 191.63,547.6T200,545.6L200,546.6Z" fill="url(#fbd14)" filter="url(#fb)"/>
<path d="M181.4,546.6L190.7,550.3L200,546.6L200,577.1Q200,578.6 198,578.6L183.4,578.6Q181.4,578.6 181.4,577.1Z" fill="#2b211b"/>
<line x1="182.9" y1="578.4" x2="198.5" y2="578.4" stroke="#7a5a38" stroke-width="0.7"/>
</g>
<g>
<rect x="214.1" y="528.1" width="24.6" height="55.5" fill="url(#fbg)"/>
<rect x="216.7" y="529.1" width="19.6" height="51.9" fill="url(#fgl)"/>
<line x1="217.7" y1="529.3" x2="219.7" y2="529.3" stroke="#555" stroke-width="0.8"/>
<line x1="233.3" y1="529.3" x2="235.3" y2="529.3" stroke="#555" stroke-width="0.8"/>
<line x1="219.7" y1="529.3" x2="233.3" y2="529.3" stroke="#aaa" stroke-width="0.5"/>
<path d="M217.3,547.3L217.3,547.8Q222.82,543.8 227.42,546.8T235.7,544.8L235.7,547.3Z" fill="url(#fbd15)" filter="url(#fb)"/>
<path d="M217.3,547.3L226.5,550.3L235.7,545.8L235.7,576.7Q235.7,578.2 233.7,578.2L219.3,578.2Q217.3,578.2 217.3,576.7Z" fill="#2b211b"/>
<line x1="218.8" y1="578" x2="234.2" y2="578" stroke="#7a5a38" stroke-width="0.7"/>
</g>
<g>
<rect x="249.2" y="528.1" width="24.4" height="55.5" fill="url(#fbg)"/>
<rect x="251.8" y="529.1" width="19.4" height="51.9" fill="url(#fgl)"/>
<line x1="252.8" y1="529.3" x2="254.8" y2="529.3" stroke="#555" stroke-width="0.8"/>
<line x1="268.2" y1="529.3" x2="270.2" y2="529.3" stroke="#555" stroke-width="0.8"/>
<line x1="254.8" y1="529.3" x2="268.2" y2="529.3" stroke="#aaa" stroke-width="0.5"/>
<path d="M252.4,550.8L252.4,539.1Q253.4,533.6 261.4,532.7Q270.1,532.3 270.6,538.1L270.6,550.8Z" fill="url(#f90)" filter="url(#fb)"/>
<circle cx="259.12" cy="541.57" r="0.47" fill="#6a5848"/>
<circle cx="260.58" cy="540.38" r="0.56" fill="#6a5848"/>
<circle cx="257.35" cy="544.17" r="0.3" fill="#6a5848"/>
<circle cx="258.1" cy="539.13" r="0.36" fill="#6a5848"/>
<circle cx="265.69" cy="538.71" r="0.62" fill="#6a5848"/>
<circle cx="269.35" cy="537.76" r="0.66" fill="#6a5848"/>
<circle cx="266.79" cy="544.71" r="0.31" fill="#6a5848"/>
<circle cx="260.76" cy="544.03" r="0.42" fill="#6a5848"/>
<circle cx="256.76" cy="538.7" r="0.4" fill="#6a5848"/>
<circle cx="266.45" cy="539.34" r="0.47" fill="#6a5848"/>
<circle cx="263.96" cy="549.43" r="0.42" fill="#6a5848"/>
<circle cx="253.66" cy="549.86" r="0.63" fill="#6a5848"/>
<circle cx="266.49" cy="542.29" r="0.39" fill="#6a5848"/>
<circle cx="255.56" cy="538.61" r="0.48" fill="#6a5848"/>
<circle cx="254.03" cy="545.25" r="0.59" fill="#6a5848"/>
<circle cx="253.12" cy="547.65" r="0.5" fill="#6a5848"/>
<circle cx="268.7" cy="541.48" r="0.62" fill="#6a5848"/>
<circle cx="260.71" cy="543.8" r="0.5" fill="#6a5848"/>
<circle cx="253.29" cy="535.92" r="0.39" fill="#6a5848"/>
<circle cx="259.89" cy="539.7" r="0.52" fill="#6a5848"/>
<circle cx="264.24" cy="540.22" r="0.43" fill="#6a5848"/>
<circle cx="261.69" cy="549.51" r="0.61" fill="#6a5848"/>
<path d="M252.4,550.8L261.5,550.8L270.6,550.8L270.6,576.7Q270.6,578.2 268.6,578.2L254.4,578.2Q252.4,578.2 252.4,576.7Z" fill="#2b211b"/>
<line x1="253.9" y1="578" x2="269.1" y2="578" stroke="#7a5a38" stroke-width="0.7"/>
</g>
<g>
<rect x="38.3" y="588.1" width="25.5" height="54.8" fill="url(#fbg)"/>
<rect x="40.9" y="589.1" width="20.5" height="51.2" fill="url(#fgl)"/>
<line x1="41.9" y1="589.3" x2="43.9" y2="589.3" stroke="#555" stroke-width="0.8"/>
<line x1="58.4" y1="589.3" x2="60.4" y2="589.3" stroke="#555" stroke-width="0.8"/>
<line x1="43.9" y1="589.3" x2="58.4" y2="589.3" stroke="#aaa" stroke-width="0.5"/>
<path d="M41.5,618.1L41.5,610.1Q47.29,606.1 52.11,609.1T60.8,607.1L60.8,618.1Z" fill="url(#fbd20)" filter="url(#fb)"/>
<path d="M41.5,618.1L51.15,618.1L60.8,618.1L60.8,636.4Q60.8,637.9 58.8,637.9L43.5,637.9Q41.5,637.9 41.5,636.4Z" fill="url(#fdk)"/>
<line x1="43" y1="637.7" x2="59.3" y2="637.7" stroke="#7a5a38" stroke-width="0.7"/>
</g>
<g>
<rect x="74.2" y="588.1" width="25.3" height="54.8" fill="url(#fbg)"/>
<rect x="76.8" y="589.1" width="20.3" height="51.2" fill="url(#fgl)"/>
<line x1="77.8" y1="589.3" x2="79.8" y2="589.3" stroke="#555" stroke-width="0.8"/>
<line x1="94.1" y1="589.3" x2="96.1" y2="589.3" stroke="#555" stroke-width="0.8"/>
<line x1="79.8" y1="589.3" x2="94.1" y2="589.3" stroke="#aaa" stroke-width="0.5"/>
<path d="M77.4,620.3L77.4,613.1Q83.13,609.1 87.91,612.1T96.5,610.1L96.5,620.3Z" fill="url(#fbd21)" filter="url(#fb)"/>
<path d="M77.4,620.3L86.95,620.3L96.5,620.3L96.5,637.1Q96.5,638.6 94.5,638.6L79.4,638.6Q77.4,638.6 77.4,637.1Z" fill="url(#fdk)"/>
<line x1="78.9" y1="638.4" x2="95" y2="638.4" stroke="#7a5a38" stroke-width="0.7"/>
</g>
<g>
<rect x="108.8" y="588.1" width="25.1" height="54.8" fill="url(#fbg)"/>
<rect x="111.4" y="589.1" width="20.1" height="51.2" fill="url(#fgl)"/>
<line x1="112.4" y1="589.3" x2="114.4" y2="589.3" stroke="#555" stroke-width="0.8"/>
<line x1="128.5" y1="589.3" x2="130.5" y2="589.3" stroke="#555" stroke-width="0.8"/>
<line x1="114.4" y1="589.3" x2="128.5" y2="589.3" stroke="#aaa" stroke-width="0.5"/>
<path d="M112,618.1L112,610.8Q117.67,606.8 122.39,609.8T130.9,607.8L130.9,618.1Z" fill="url(#fbd22)" filter="url(#fb)"/>
<path d="M112,618.1L121.45,618.1L130.9,618.1L130.9,635.6Q130.9,637.1 128.9,637.1L114,637.1Q112,637.1 112,635.6Z" fill="url(#fdk)"/>
<line x1="113.5" y1="636.9" x2="129.4" y2="636.9" stroke="#7a5a38" stroke-width="0.7"/>
</g>
<g>
<rect x="143.1" y="588.1" width="24.7" height="54.8" fill="url(#fbg)"/>
<rect x="145.7" y="589.1" width="19.7" height="51.2" fill="url(#fgl)"/>
<line x1="146.7" y1="589.3" x2="148.7" y2="589.3" stroke="#555" stroke-width="0.8"/>
<line x1="162.4" y1="589.3" x2="164.4" y2="589.3" stroke="#555" stroke-width="0.8"/>
<line x1="148.7" y1="589.3" x2="162.4" y2="589.3" stroke="#aaa" stroke-width="0.5"/>
<path d="M146.3,620.7L146.3,605.9Q151.85,601.9 156.47,604.9T164.8,602.9L164.8,620.7Z" fill="url(#fbd23)" filter="url(#fb)"/>
<path d="M146.3,620.7L155.55,620.7L164.8,620.7L164.8,639.1Q164.8,640.6 162.8,640.6L148.3,640.6Q146.3,640.6 146.3,639.1Z" fill="url(#fdk)"/>
<line x1="147.8" y1="640.4" x2="163.3" y2="640.4" stroke="#7a5a38" stroke-width="0.7"/>
</g>
<g>
<rect x="178.2" y="588.1" width="24.8" height="54.8" fill="url(#fbg)"/>
<rect x="180.8" y="589.1" width="19.8" height="51.2" fill="url(#fgl)"/>
<line x1="181.8" y1="589.3" x2="183.8" y2="589.3" stroke="#555" stroke-width="0.8"/>
<line x1="197.6" y1="589.3" x2="199.6" y2="589.3" stroke="#555" stroke-width="0.8"/>
<line x1="183.8" y1="589.3" x2="197.6" y2="589.3" stroke="#aaa" stroke-width="0.5"/>
<path d="M181.4,619.7L181.4,604.9Q186.98,600.9 191.63,603.9T200,601.9L200,619.7Z" fill="url(#fbd24)" filter="url(#fb)"/>
<path d="M181.4,619.7L190.7,619.7L200,619.7L200,637.1Q200,638.6 198,638.6L183.4,638.6Q181.4,638.6 181.4,637.1Z" fill="url(#fdk)"/>
<line x1="182.9" y1="638.4" x2="198.5" y2="638.4" stroke="#7a5a38" stroke-width="0.7"/>
</g>
<g>
<rect x="214.1" y="588.1" width="24.6" height="54.8" fill="url(#fbg)"/>
<rect x="216.7" y="589.1" width="19.6" height="51.2" fill="url(#fgl)"/>
<line x1="217.7" y1="589.3" x2="219.7" y2="589.3" stroke="#555" stroke-width="0.8"/>
<line x1="233.3" y1="589.3" x2="235.3" y2="589.3" stroke="#555" stroke-width="0.8"/>
<line x1="219.7" y1="589.3" x2="233.3" y2="589.3" stroke="#aaa" stroke-width="0.5"/>
<path d="M217.3,619.7L217.3,604.9Q222.82,600.9 227.42,603.9T235.7,601.9L235.7,619.7Z" fill="url(#fbd25)" filter="url(#fb)"/>
<path d="M217.3,619.7L226.5,619.7L235.7,619.7L235.7,637.1Q235.7,638.6 233.7,638.6L219.3,638.6Q217.3,638.6 217.3,637.1Z" fill="url(#fdk)"/>
<line x1="218.8" y1="638.4" x2="234.2" y2="638.4" stroke="#7a5a38" stroke-width="0.7"/>
</g>
<g>
<rect x="249.2" y="588.1" width="24.4" height="54.8" fill="url(#fbg)"/>
<rect x="251.8" y="589.1" width="19.4" height="51.2" fill="url(#fgl)"/>
<line x1="252.8" y1="589.3" x2="254.8" y2="589.3" stroke="#555" stroke-width="0.8"/>
<line x1="268.2" y1="589.3" x2="270.2" y2="589.3" stroke="#555" stroke-width="0.8"/>
<line x1="254.8" y1="589.3" x2="268.2" y2="589.3" stroke="#aaa" stroke-width="0.5"/>
<path d="M252.4,621.7L252.4,604.9Q257.86,600.9 262.41,603.9T270.6,601.9L270.6,621.7Z" fill="url(#fbd26)" filter="url(#fb)"/>
<path d="M252.4,621.7L261.5,621.7L270.6,621.7L270.6,637.1Q270.6,638.6 268.6,638.6L254.4,638.6Q252.4,638.6 252.4,637.1Z" fill="url(#fdk)"/>
<line x1="253.9" y1="638.4" x2="269.1" y2="638.4" stroke="#7a5a38" stroke-width="0.7"/>
</g>
<text transform="translate(31.4,499.8) rotate(-90)" font-size="9.5" text-anchor="middle">OA</text>
<text transform="translate(31.4,559.3) rotate(-90)" font-size="9.5" text-anchor="middle">OctOA</text>
<text transform="translate(31.4,617.2) rotate(-90)" font-size="9.5" text-anchor="middle">DEHP</text>
<text x="48.9" y="658.3" font-size="9.3" text-anchor="middle">0 d</text>
<text x="86.2" y="658.3" font-size="9.3" text-anchor="middle">1 d</text>
<text x="119" y="658.3" font-size="9.3" text-anchor="middle">7 d</text>
<text x="151.7" y="658.3" font-size="9.3" text-anchor="middle">15 d</text>
<text x="187.7" y="658.3" font-size="9.3" text-anchor="middle">30 d</text>
<text x="224.9" y="658.3" font-size="9.3" text-anchor="middle">60 d</text>
<text x="260" y="658.3" font-size="9.3" text-anchor="middle">90 d</text>
<clipPath id="cg"><rect x="322.3" y="469.2" width="354.7" height="167.1"/></clipPath>
<g clip-path="url(#cg)">
<circle cx="340.41" cy="483.54" r="2.5" fill="#b5a6a5"/>
<circle cx="342.94" cy="485.01" r="2.5" fill="#b5a6a5"/>
<circle cx="345.47" cy="487.48" r="2.5" fill="#b5a6a5"/>
<circle cx="348" cy="489.69" r="2.5" fill="#b5a6a5"/>
<circle cx="350.53" cy="493.74" r="2.5" fill="#b5a6a5"/>
<circle cx="353.06" cy="499.28" r="2.5" fill="#b5a6a5"/>
<circle cx="355.6" cy="504.76" r="2.5" fill="#b5a6a5"/>
<circle cx="358.13" cy="509.75" r="2.5" fill="#b5a6a5"/>
<circle cx="360.66" cy="514.75" r="2.5" fill="#b5a6a5"/>
<circle cx="363.19" cy="519.35" r="2.5" fill="#b5a6a5"/>
<circle cx="365.72" cy="521.96" r="2.5" fill="#b5a6a5"/>
<circle cx="368.25" cy="524.81" r="2.5" fill="#b5a6a5"/>
<circle cx="370.78" cy="527.99" r="2.5" fill="#b5a6a5"/>
<circle cx="373.31" cy="530.36" r="2.5" fill="#b5a6a5"/>
<circle cx="375.84" cy="533.58" r="2.5" fill="#b5a6a5"/>
<circle cx="378.37" cy="535.78" r="2.5" fill="#b5a6a5"/>
<circle cx="380.9" cy="538.04" r="2.5" fill="#b5a6a5"/>
<circle cx="383.43" cy="540.05" r="2.5" fill="#b5a6a5"/>
<circle cx="385.96" cy="543.56" r="2.5" fill="#b5a6a5"/>
<circle cx="388.49" cy="546.54" r="2.5" fill="#b5a6a5"/>
<circle cx="391.02" cy="549.65" r="2.5" fill="#b5a6a5"/>
<circle cx="393.55" cy="551.35" r="2.5" fill="#b5a6a5"/>
<circle cx="396.08" cy="551.08" r="2.5" fill="#b5a6a5"/>
<circle cx="398.61" cy="551.37" r="2.5" fill="#b5a6a5"/>
<circle cx="401.14" cy="552.11" r="2.5" fill="#b5a6a5"/>
<circle cx="403.67" cy="553.27" r="2.5" fill="#b5a6a5"/>
<circle cx="406.21" cy="555.76" r="2.5" fill="#b5a6a5"/>
<circle cx="408.74" cy="557.26" r="2.5" fill="#b5a6a5"/>
<circle cx="411.27" cy="558.49" r="2.5" fill="#b5a6a5"/>
<circle cx="413.8" cy="561.03" r="2.5" fill="#b5a6a5"/>
<circle cx="416.33" cy="562.43" r="2.5" fill="#b5a6a5"/>
<circle cx="418.86" cy="565.12" r="2.5" fill="#b5a6a5"/>
<circle cx="421.39" cy="566.99" r="2.5" fill="#b5a6a5"/>
<circle cx="423.92" cy="569.02" r="2.5" fill="#b5a6a5"/>
<circle cx="426.45" cy="570.37" r="2.5" fill="#b5a6a5"/>
<circle cx="428.98" cy="571.95" r="2.5" fill="#b5a6a5"/>
<circle cx="431.51" cy="573.09" r="2.5" fill="#b5a6a5"/>
<circle cx="434.04" cy="574.06" r="2.5" fill="#b5a6a5"/>
<circle cx="436.57" cy="576.37" r="2.5" fill="#b5a6a5"/>
<circle cx="439.1" cy="577.28" r="2.5" fill="#b5a6a5"/>
<circle cx="441.63" cy="578.83" r="2.5" fill="#b5a6a5"/>
<circle cx="444.16" cy="579.44" r="2.5" fill="#b5a6a5"/>
<circle cx="446.69" cy="581.25" r="2.5" fill="#b5a6a5"/>
<circle cx="449.22" cy="582.83" r="2.5" fill="#b5a6a5"/>
<circle cx="451.75" cy="584.11" r="2.5" fill="#b5a6a5"/>
<circle cx="454.28" cy="585.36" r="2.5" fill="#b5a6a5"/>
<circle cx="456.82" cy="586.3" r="2.5" fill="#b5a6a5"/>
<circle cx="459.35" cy="587.48" r="2.5" fill="#b5a6a5"/>
<circle cx="461.88" cy="587.72" r="2.5" fill="#b5a6a5"/>
<circle cx="464.41" cy="588.6" r="2.5" fill="#b5a6a5"/>
<circle cx="466.94" cy="590.03" r="2.5" fill="#b5a6a5"/>
<circle cx="469.47" cy="590.45" r="2.5" fill="#b5a6a5"/>
<circle cx="472" cy="591.99" r="2.5" fill="#b5a6a5"/>
<circle cx="474.53" cy="593.2" r="2.5" fill="#b5a6a5"/>
<circle cx="477.06" cy="593.63" r="2.5" fill="#b5a6a5"/>
<circle cx="479.59" cy="594.04" r="2.5" fill="#b5a6a5"/>
<circle cx="482.12" cy="594.64" r="2.5" fill="#b5a6a5"/>
<circle cx="484.65" cy="595.16" r="2.5" fill="#b5a6a5"/>
<circle cx="487.18" cy="596.64" r="2.5" fill="#b5a6a5"/>
<circle cx="489.71" cy="596.93" r="2.5" fill="#b5a6a5"/>
<circle cx="492.24" cy="596.68" r="2.5" fill="#b5a6a5"/>
<circle cx="494.77" cy="596.64" r="2.5" fill="#b5a6a5"/>
<circle cx="497.3" cy="597.64" r="2.5" fill="#b5a6a5"/>
<circle cx="499.83" cy="598.97" r="2.5" fill="#b5a6a5"/>
<circle cx="502.36" cy="599.45" r="2.5" fill="#b5a6a5"/>
<circle cx="504.89" cy="599.92" r="2.5" fill="#b5a6a5"/>
<circle cx="507.43" cy="600.5" r="2.5" fill="#b5a6a5"/>
<circle cx="509.96" cy="601.15" r="2.5" fill="#b5a6a5"/>
<circle cx="512.49" cy="600.88" r="2.5" fill="#b5a6a5"/>
<circle cx="515.02" cy="601.27" r="2.5" fill="#b5a6a5"/>
<circle cx="517.55" cy="601.55" r="2.5" fill="#b5a6a5"/>
<circle cx="520.08" cy="601.93" r="2.5" fill="#b5a6a5"/>
<circle cx="522.61" cy="601.63" r="2.5" fill="#b5a6a5"/>
<circle cx="525.14" cy="601.39" r="2.5" fill="#b5a6a5"/>
<circle cx="527.67" cy="601.5" r="2.5" fill="#b5a6a5"/>
<circle cx="530.2" cy="602.49" r="2.5" fill="#b5a6a5"/>
<circle cx="532.73" cy="602.47" r="2.5" fill="#b5a6a5"/>
<circle cx="535.26" cy="602.8" r="2.5" fill="#b5a6a5"/>
<circle cx="537.79" cy="602.67" r="2.5" fill="#b5a6a5"/>
<circle cx="540.32" cy="602.28" r="2.5" fill="#b5a6a5"/>
<circle cx="542.85" cy="601.92" r="2.5" fill="#b5a6a5"/>
<circle cx="545.38" cy="602.76" r="2.5" fill="#b5a6a5"/>
<circle cx="547.91" cy="603.44" r="2.5" fill="#b5a6a5"/>
<circle cx="550.44" cy="603.44" r="2.5" fill="#b5a6a5"/>
<circle cx="552.97" cy="603.92" r="2.5" fill="#b5a6a5"/>
<circle cx="555.5" cy="604.35" r="2.5" fill="#b5a6a5"/>
<circle cx="558.04" cy="605.07" r="2.5" fill="#b5a6a5"/>
<circle cx="560.57" cy="605.75" r="2.5" fill="#b5a6a5"/>
<circle cx="563.1" cy="605.5" r="2.5" fill="#b5a6a5"/>
<circle cx="565.63" cy="606.17" r="2.5" fill="#b5a6a5"/>
<circle cx="568.16" cy="606.72" r="2.5" fill="#b5a6a5"/>
<circle cx="570.69" cy="606.64" r="2.5" fill="#b5a6a5"/>
<circle cx="573.22" cy="607.02" r="2.5" fill="#b5a6a5"/>
<circle cx="575.75" cy="606.78" r="2.5" fill="#b5a6a5"/>
<circle cx="578.28" cy="606.41" r="2.5" fill="#b5a6a5"/>
<circle cx="580.81" cy="605.92" r="2.5" fill="#b5a6a5"/>
<circle cx="583.34" cy="606.46" r="2.5" fill="#b5a6a5"/>
<circle cx="585.87" cy="605.86" r="2.5" fill="#b5a6a5"/>
<circle cx="588.4" cy="605.23" r="2.5" fill="#b5a6a5"/>
<circle cx="590.93" cy="605.81" r="2.5" fill="#b5a6a5"/>
<circle cx="593.46" cy="606.27" r="2.5" fill="#b5a6a5"/>
<circle cx="595.99" cy="606.24" r="2.5" fill="#b5a6a5"/>
<circle cx="598.52" cy="606.76" r="2.5" fill="#b5a6a5"/>
<circle cx="601.05" cy="606.04" r="2.5" fill="#b5a6a5"/>
<circle cx="603.58" cy="605.75" r="2.5" fill="#b5a6a5"/>
<circle cx="606.11" cy="605.56" r="2.5" fill="#b5a6a5"/>
<circle cx="608.65" cy="605.62" r="2.5" fill="#b5a6a5"/>
<circle cx="611.18" cy="605.32" r="2.5" fill="#b5a6a5"/>
<circle cx="613.71" cy="604.93" r="2.5" fill="#b5a6a5"/>
<circle cx="616.24" cy="605.03" r="2.5" fill="#b5a6a5"/>
<circle cx="618.77" cy="605.96" r="2.5" fill="#b5a6a5"/>
<circle cx="621.3" cy="606.91" r="2.5" fill="#b5a6a5"/>
<circle cx="623.83" cy="607.37" r="2.5" fill="#b5a6a5"/>
<circle cx="626.36" cy="607.38" r="2.5" fill="#b5a6a5"/>
<circle cx="628.89" cy="607.06" r="2.5" fill="#b5a6a5"/>
<circle cx="631.42" cy="607.87" r="2.5" fill="#b5a6a5"/>
<circle cx="633.95" cy="607.93" r="2.5" fill="#b5a6a5"/>
<circle cx="636.48" cy="608.3" r="2.5" fill="#b5a6a5"/>
<circle cx="639.01" cy="607.58" r="2.5" fill="#b5a6a5"/>
<circle cx="641.54" cy="607.26" r="2.5" fill="#b5a6a5"/>
<circle cx="644.07" cy="607.95" r="2.5" fill="#b5a6a5"/>
<circle cx="646.6" cy="608.48" r="2.5" fill="#b5a6a5"/>
<circle cx="649.13" cy="609.09" r="2.5" fill="#b5a6a5"/>
<circle cx="651.66" cy="609.2" r="2.5" fill="#b5a6a5"/>
<circle cx="654.19" cy="609.04" r="2.5" fill="#b5a6a5"/>
<circle cx="656.72" cy="609.16" r="2.5" fill="#b5a6a5"/>
<circle cx="659.26" cy="609.69" r="2.5" fill="#b5a6a5"/>
<circle cx="661.79" cy="609.34" r="2.5" fill="#b5a6a5"/>
<circle cx="664.32" cy="609.4" r="2.5" fill="#b5a6a5"/>
<circle cx="666.85" cy="609.08" r="2.5" fill="#b5a6a5"/>
<circle cx="669.38" cy="609.56" r="2.5" fill="#b5a6a5"/>
<circle cx="671.91" cy="608.85" r="2.5" fill="#b5a6a5"/>
<circle cx="674.44" cy="609.28" r="2.5" fill="#b5a6a5"/>
<circle cx="340.41" cy="484.73" r="2.5" fill="#3a9499"/>
<circle cx="342.94" cy="484.49" r="2.5" fill="#3a9499"/>
<circle cx="345.47" cy="484.5" r="2.5" fill="#3a9499"/>
<circle cx="348" cy="486.08" r="2.5" fill="#3a9499"/>
<circle cx="350.53" cy="486.32" r="2.5" fill="#3a9499"/>
<circle cx="353.06" cy="486.53" r="2.5" fill="#3a9499"/>
<circle cx="355.6" cy="487.62" r="2.5" fill="#3a9499"/>
<circle cx="358.13" cy="488.01" r="2.5" fill="#3a9499"/>
<circle cx="360.66" cy="489.04" r="2.5" fill="#3a9499"/>
<circle cx="363.19" cy="488.98" r="2.5" fill="#3a9499"/>
<circle cx="365.72" cy="490.07" r="2.5" fill="#3a9499"/>
<circle cx="368.25" cy="490.08" r="2.5" fill="#3a9499"/>
<circle cx="370.78" cy="490.57" r="2.5" fill="#3a9499"/>
<circle cx="373.31" cy="491.54" r="2.5" fill="#3a9499"/>
<circle cx="375.84" cy="492.85" r="2.5" fill="#3a9499"/>
<circle cx="378.37" cy="494.69" r="2.5" fill="#3a9499"/>
<circle cx="380.9" cy="496.13" r="2.5" fill="#3a9499"/>
<circle cx="383.43" cy="496.57" r="2.5" fill="#3a9499"/>
<circle cx="385.96" cy="498.04" r="2.5" fill="#3a9499"/>
<circle cx="388.49" cy="498.91" r="2.5" fill="#3a9499"/>
<circle cx="391.02" cy="499.37" r="2.5" fill="#3a9499"/>
<circle cx="393.55" cy="499.71" r="2.5" fill="#3a9499"/>
<circle cx="396.08" cy="501.13" r="2.5" fill="#3a9499"/>
<circle cx="398.61" cy="501.93" r="2.5" fill="#3a9499"/>
<circle cx="401.14" cy="503.17" r="2.5" fill="#3a9499"/>
<circle cx="403.67" cy="504.07" r="2.5" fill="#3a9499"/>
<circle cx="406.21" cy="505.22" r="2.5" fill="#3a9499"/>
<circle cx="408.74" cy="505.71" r="2.5" fill="#3a9499"/>
<circle cx="411.27" cy="506.43" r="2.5" fill="#3a9499"/>
<circle cx="413.8" cy="507.04" r="2.5" fill="#3a9499"/>
<circle cx="416.33" cy="507.67" r="2.5" fill="#3a9499"/>
<circle cx="418.86" cy="509.43" r="2.5" fill="#3a9499"/>
<circle cx="421.39" cy="510.15" r="2.5" fill="#3a9499"/>
<circle cx="423.92" cy="511.65" r="2.5" fill="#3a9499"/>
<circle cx="426.45" cy="513.36" r="2.5" fill="#3a9499"/>
<circle cx="428.98" cy="514.55" r="2.5" fill="#3a9499"/>
<circle cx="431.51" cy="514.93" r="2.5" fill="#3a9499"/>
<circle cx="434.04" cy="516.28" r="2.5" fill="#3a9499"/>
<circle cx="436.57" cy="517.34" r="2.5" fill="#3a9499"/>
<circle cx="439.1" cy="517.67" r="2.5" fill="#3a9499"/>
<circle cx="441.63" cy="517.89" r="2.5" fill="#3a9499"/>
<circle cx="444.16" cy="518.96" r="2.5" fill="#3a9499"/>
<circle cx="446.69" cy="519.27" r="2.5" fill="#3a9499"/>
<circle cx="449.22" cy="520.96" r="2.5" fill="#3a9499"/>
<circle cx="451.75" cy="521.86" r="2.5" fill="#3a9499"/>
<circle cx="454.28" cy="522.79" r="2.5" fill="#3a9499"/>
<circle cx="456.82" cy="523.54" r="2.5" fill="#3a9499"/>
<circle cx="459.35" cy="524.7" r="2.5" fill="#3a9499"/>
<circle cx="461.88" cy="526.2" r="2.5" fill="#3a9499"/>
<circle cx="464.41" cy="526.7" r="2.5" fill="#3a9499"/>
<circle cx="466.94" cy="527.31" r="2.5" fill="#3a9499"/>
<circle cx="469.47" cy="528.27" r="2.5" fill="#3a9499"/>
<circle cx="472" cy="528.79" r="2.5" fill="#3a9499"/>
<circle cx="474.53" cy="529.81" r="2.5" fill="#3a9499"/>
<circle cx="477.06" cy="530.72" r="2.5" fill="#3a9499"/>
<circle cx="479.59" cy="531.46" r="2.5" fill="#3a9499"/>
<circle cx="482.12" cy="532.55" r="2.5" fill="#3a9499"/>
<circle cx="484.65" cy="533.32" r="2.5" fill="#3a9499"/>
<circle cx="487.18" cy="533.43" r="2.5" fill="#3a9499"/>
<circle cx="489.71" cy="535" r="2.5" fill="#3a9499"/>
<circle cx="492.24" cy="535.49" r="2.5" fill="#3a9499"/>
<circle cx="494.77" cy="536.13" r="2.5" fill="#3a9499"/>
<circle cx="497.3" cy="536.75" r="2.5" fill="#3a9499"/>
<circle cx="499.83" cy="538.17" r="2.5" fill="#3a9499"/>
<circle cx="502.36" cy="539.52" r="2.5" fill="#3a9499"/>
<circle cx="504.89" cy="540.12" r="2.5" fill="#3a9499"/>
<circle cx="507.43" cy="540.58" r="2.5" fill="#3a9499"/>
<circle cx="509.96" cy="540.62" r="2.5" fill="#3a9499"/>
<circle cx="512.49" cy="541.97" r="2.5" fill="#3a9499"/>
<circle cx="515.02" cy="542.14" r="2.5" fill="#3a9499"/>
<circle cx="517.55" cy="542.98" r="2.5" fill="#3a9499"/>
<circle cx="520.08" cy="543.51" r="2.5" fill="#3a9499"/>
<circle cx="522.61" cy="544.04" r="2.5" fill="#3a9499"/>
<circle cx="525.14" cy="544.65" r="2.5" fill="#3a9499"/>
<circle cx="527.67" cy="545.04" r="2.5" fill="#3a9499"/>
<circle cx="530.2" cy="545.25" r="2.5" fill="#3a9499"/>
<circle cx="532.73" cy="546.24" r="2.5" fill="#3a9499"/>
<circle cx="535.26" cy="547.49" r="2.5" fill="#3a9499"/>
<circle cx="537.79" cy="548.43" r="2.5" fill="#3a9499"/>
<circle cx="540.32" cy="548.65" r="2.5" fill="#3a9499"/>
<circle cx="542.85" cy="549.67" r="2.5" fill="#3a9499"/>
<circle cx="545.38" cy="549.67" r="2.5" fill="#3a9499"/>
<circle cx="547.91" cy="550.3" r="2.5" fill="#3a9499"/>
<circle cx="550.44" cy="551.56" r="2.5" fill="#3a9499"/>
<circle cx="552.97" cy="552.86" r="2.5" fill="#3a9499"/>
<circle cx="555.5" cy="553.37" r="2.5" fill="#3a9499"/>
<circle cx="558.04" cy="554.48" r="2.5" fill="#3a9499"/>
<circle cx="560.57" cy="554.91" r="2.5" fill="#3a9499"/>
<circle cx="563.1" cy="555.37" r="2.5" fill="#3a9499"/>
<circle cx="565.63" cy="555.92" r="2.5" fill="#3a9499"/>
<circle cx="568.16" cy="557.08" r="2.5" fill="#3a9499"/>
<circle cx="570.69" cy="557.77" r="2.5" fill="#3a9499"/>
<circle cx="573.22" cy="558.03" r="2.5" fill="#3a9499"/>
<circle cx="575.75" cy="558.71" r="2.5" fill="#3a9499"/>
<circle cx="578.28" cy="559.24" r="2.5" fill="#3a9499"/>
<circle cx="580.81" cy="559.33" r="2.5" fill="#3a9499"/>
<circle cx="583.34" cy="560.13" r="2.5" fill="#3a9499"/>
<circle cx="585.87" cy="560.95" r="2.5" fill="#3a9499"/>
<circle cx="588.4" cy="561.4" r="2.5" fill="#3a9499"/>
<circle cx="590.93" cy="562.36" r="2.5" fill="#3a9499"/>
<circle cx="593.46" cy="561.86" r="2.5" fill="#3a9499"/>
<circle cx="595.99" cy="562.25" r="2.5" fill="#3a9499"/>
<circle cx="598.52" cy="562.85" r="2.5" fill="#3a9499"/>
<circle cx="601.05" cy="563" r="2.5" fill="#3a9499"/>
<circle cx="603.58" cy="562.95" r="2.5" fill="#3a9499"/>
<circle cx="606.11" cy="563.76" r="2.5" fill="#3a9499"/>
<circle cx="608.65" cy="564.15" r="2.5" fill="#3a9499"/>
<circle cx="611.18" cy="564.25" r="2.5" fill="#3a9499"/>
<circle cx="613.71" cy="564.05" r="2.5" fill="#3a9499"/>
<circle cx="616.24" cy="565.33" r="2.5" fill="#3a9499"/>
<circle cx="618.77" cy="565.56" r="2.5" fill="#3a9499"/>
<circle cx="621.3" cy="565.47" r="2.5" fill="#3a9499"/>
<circle cx="623.83" cy="565.61" r="2.5" fill="#3a9499"/>
<circle cx="626.36" cy="565.86" r="2.5" fill="#3a9499"/>
<circle cx="628.89" cy="567.05" r="2.5" fill="#3a9499"/>
<circle cx="631.42" cy="567.1" r="2.5" fill="#3a9499"/>
<circle cx="633.95" cy="567.35" r="2.5" fill="#3a9499"/>
<circle cx="636.48" cy="567.36" r="2.5" fill="#3a9499"/>
<circle cx="639.01" cy="568" r="2.5" fill="#3a9499"/>
<circle cx="641.54" cy="568.21" r="2.5" fill="#3a9499"/>
<circle cx="644.07" cy="568.66" r="2.5" fill="#3a9499"/>
<circle cx="646.6" cy="569.7" r="2.5" fill="#3a9499"/>
<circle cx="649.13" cy="570.93" r="2.5" fill="#3a9499"/>
<circle cx="651.66" cy="571.91" r="2.5" fill="#3a9499"/>
<circle cx="654.19" cy="571.61" r="2.5" fill="#3a9499"/>
<circle cx="656.72" cy="571.94" r="2.5" fill="#3a9499"/>
<circle cx="659.26" cy="572.99" r="2.5" fill="#3a9499"/>
<circle cx="661.79" cy="572.72" r="2.5" fill="#3a9499"/>
<circle cx="664.32" cy="572.82" r="2.5" fill="#3a9499"/>
<circle cx="666.85" cy="573.39" r="2.5" fill="#3a9499"/>
<circle cx="669.38" cy="573.79" r="2.5" fill="#3a9499"/>
<circle cx="671.91" cy="574.74" r="2.5" fill="#3a9499"/>
<circle cx="674.44" cy="575.57" r="2.5" fill="#3a9499"/>
<circle cx="340.41" cy="484.68" r="2.5" fill="#c4302b"/>
<circle cx="342.94" cy="485.38" r="2.5" fill="#c4302b"/>
<circle cx="345.47" cy="485.9" r="2.5" fill="#c4302b"/>
<circle cx="348" cy="485.14" r="2.5" fill="#c4302b"/>
<circle cx="350.53" cy="485.28" r="2.5" fill="#c4302b"/>
<circle cx="353.06" cy="485.17" r="2.5" fill="#c4302b"/>
<circle cx="355.6" cy="485.24" r="2.5" fill="#c4302b"/>
<circle cx="358.13" cy="484.73" r="2.5" fill="#c4302b"/>
<circle cx="360.66" cy="484.4" r="2.5" fill="#c4302b"/>
<circle cx="363.19" cy="484.51" r="2.5" fill="#c4302b"/>
<circle cx="365.72" cy="484.73" r="2.5" fill="#c4302b"/>
<circle cx="368.25" cy="485.46" r="2.5" fill="#c4302b"/>
<circle cx="370.78" cy="485.53" r="2.5" fill="#c4302b"/>
<circle cx="373.31" cy="485.78" r="2.5" fill="#c4302b"/>
<circle cx="375.84" cy="487.03" r="2.5" fill="#c4302b"/>
<circle cx="378.37" cy="487.76" r="2.5" fill="#c4302b"/>
<circle cx="380.9" cy="488.59" r="2.5" fill="#c4302b"/>
<circle cx="383.43" cy="489.59" r="2.5" fill="#c4302b"/>
<circle cx="385.96" cy="489.96" r="2.5" fill="#c4302b"/>
<circle cx="388.49" cy="489.89" r="2.5" fill="#c4302b"/>
<circle cx="391.02" cy="491" r="2.5" fill="#c4302b"/>
<circle cx="393.55" cy="491.73" r="2.5" fill="#c4302b"/>
<circle cx="396.08" cy="492.53" r="2.5" fill="#c4302b"/>
<circle cx="398.61" cy="493.14" r="2.5" fill="#c4302b"/>
<circle cx="401.14" cy="494.2" r="2.5" fill="#c4302b"/>
<circle cx="403.67" cy="494.24" r="2.5" fill="#c4302b"/>
<circle cx="406.21" cy="494.92" r="2.5" fill="#c4302b"/>
<circle cx="408.74" cy="494.97" r="2.5" fill="#c4302b"/>
<circle cx="411.27" cy="495.37" r="2.5" fill="#c4302b"/>
<circle cx="413.8" cy="495.91" r="2.5" fill="#c4302b"/>
<circle cx="416.33" cy="495.92" r="2.5" fill="#c4302b"/>
<circle cx="418.86" cy="495.65" r="2.5" fill="#c4302b"/>
<circle cx="421.39" cy="496.07" r="2.5" fill="#c4302b"/>
<circle cx="423.92" cy="496.84" r="2.5" fill="#c4302b"/>
<circle cx="426.45" cy="497.37" r="2.5" fill="#c4302b"/>
<circle cx="428.98" cy="497.67" r="2.5" fill="#c4302b"/>
<circle cx="431.51" cy="498.24" r="2.5" fill="#c4302b"/>
<circle cx="434.04" cy="498.03" r="2.5" fill="#c4302b"/>
<circle cx="436.57" cy="497.88" r="2.5" fill="#c4302b"/>
<circle cx="439.1" cy="498.02" r="2.5" fill="#c4302b"/>
<circle cx="441.63" cy="498.92" r="2.5" fill="#c4302b"/>
<circle cx="444.16" cy="498.81" r="2.5" fill="#c4302b"/>
<circle cx="446.69" cy="498.63" r="2.5" fill="#c4302b"/>
<circle cx="449.22" cy="498.5" r="2.5" fill="#c4302b"/>
<circle cx="451.75" cy="498.34" r="2.5" fill="#c4302b"/>
<circle cx="454.28" cy="498.61" r="2.5" fill="#c4302b"/>
<circle cx="456.82" cy="499.33" r="2.5" fill="#c4302b"/>
<circle cx="459.35" cy="500.36" r="2.5" fill="#c4302b"/>
<circle cx="461.88" cy="500.54" r="2.5" fill="#c4302b"/>
<circle cx="464.41" cy="500.8" r="2.5" fill="#c4302b"/>
<circle cx="466.94" cy="500.98" r="2.5" fill="#c4302b"/>
<circle cx="469.47" cy="501.2" r="2.5" fill="#c4302b"/>
<circle cx="472" cy="502.15" r="2.5" fill="#c4302b"/>
<circle cx="474.53" cy="502.66" r="2.5" fill="#c4302b"/>
<circle cx="477.06" cy="502.71" r="2.5" fill="#c4302b"/>
<circle cx="479.59" cy="502.57" r="2.5" fill="#c4302b"/>
<circle cx="482.12" cy="503.52" r="2.5" fill="#c4302b"/>
<circle cx="484.65" cy="504.26" r="2.5" fill="#c4302b"/>
<circle cx="487.18" cy="505.12" r="2.5" fill="#c4302b"/>
<circle cx="489.71" cy="505.02" r="2.5" fill="#c4302b"/>
<circle cx="492.24" cy="505.44" r="2.5" fill="#c4302b"/>
<circle cx="494.77" cy="506.41" r="2.5" fill="#c4302b"/>
<circle cx="497.3" cy="506.79" r="2.5" fill="#c4302b"/>
<circle cx="499.83" cy="507.65" r="2.5" fill="#c4302b"/>
<circle cx="502.36" cy="507.22" r="2.5" fill="#c4302b"/>
<circle cx="504.89" cy="508.1" r="2.5" fill="#c4302b"/>
<circle cx="507.43" cy="507.51" r="2.5" fill="#c4302b"/>
<circle cx="509.96" cy="507.59" r="2.5" fill="#c4302b"/>
<circle cx="512.49" cy="507.11" r="2.5" fill="#c4302b"/>
<circle cx="515.02" cy="507.91" r="2.5" fill="#c4302b"/>
<circle cx="517.55" cy="508.45" r="2.5" fill="#c4302b"/>
<circle cx="520.08" cy="509.37" r="2.5" fill="#c4302b"/>
<circle cx="522.61" cy="509.94" r="2.5" fill="#c4302b"/>
<circle cx="525.14" cy="510.68" r="2.5" fill="#c4302b"/>
<circle cx="527.67" cy="510.73" r="2.5" fill="#c4302b"/>
<circle cx="530.2" cy="511.48" r="2.5" fill="#c4302b"/>
<circle cx="532.73" cy="511.83" r="2.5" fill="#c4302b"/>
<circle cx="535.26" cy="511.6" r="2.5" fill="#c4302b"/>
<circle cx="537.79" cy="512.4" r="2.5" fill="#c4302b"/>
<circle cx="540.32" cy="512.23" r="2.5" fill="#c4302b"/>
<circle cx="542.85" cy="511.85" r="2.5" fill="#c4302b"/>
<circle cx="545.38" cy="511.41" r="2.5" fill="#c4302b"/>
<circle cx="547.91" cy="511.66" r="2.5" fill="#c4302b"/>
<circle cx="550.44" cy="511.52" r="2.5" fill="#c4302b"/>
<circle cx="552.97" cy="512.56" r="2.5" fill="#c4302b"/>
<circle cx="555.5" cy="513.51" r="2.5" fill="#c4302b"/>
<circle cx="558.04" cy="513.27" r="2.5" fill="#c4302b"/>
<circle cx="560.57" cy="512.87" r="2.5" fill="#c4302b"/>
<circle cx="563.1" cy="513.19" r="2.5" fill="#c4302b"/>
<circle cx="565.63" cy="512.96" r="2.5" fill="#c4302b"/>
<circle cx="568.16" cy="513.35" r="2.5" fill="#c4302b"/>
<circle cx="570.69" cy="514.13" r="2.5" fill="#c4302b"/>
<circle cx="573.22" cy="513.98" r="2.5" fill="#c4302b"/>
<circle cx="575.75" cy="514.14" r="2.5" fill="#c4302b"/>
<circle cx="578.28" cy="515.04" r="2.5" fill="#c4302b"/>
<circle cx="580.81" cy="515.14" r="2.5" fill="#c4302b"/>
<circle cx="583.34" cy="515.12" r="2.5" fill="#c4302b"/>
<circle cx="585.87" cy="515.96" r="2.5" fill="#c4302b"/>
<circle cx="588.4" cy="516.58" r="2.5" fill="#c4302b"/>
<circle cx="590.93" cy="517.27" r="2.5" fill="#c4302b"/>
<circle cx="593.46" cy="517.58" r="2.5" fill="#c4302b"/>
<circle cx="595.99" cy="517.47" r="2.5" fill="#c4302b"/>
<circle cx="598.52" cy="517.83" r="2.5" fill="#c4302b"/>
<circle cx="601.05" cy="518.37" r="2.5" fill="#c4302b"/>
<circle cx="603.58" cy="518.58" r="2.5" fill="#c4302b"/>
<circle cx="606.11" cy="518.19" r="2.5" fill="#c4302b"/>
<circle cx="608.65" cy="517.98" r="2.5" fill="#c4302b"/>
<circle cx="611.18" cy="518.03" r="2.5" fill="#c4302b"/>
<circle cx="613.71" cy="518.66" r="2.5" fill="#c4302b"/>
<circle cx="616.24" cy="518.9" r="2.5" fill="#c4302b"/>
<circle cx="618.77" cy="519.14" r="2.5" fill="#c4302b"/>
<circle cx="621.3" cy="519.8" r="2.5" fill="#c4302b"/>
<circle cx="623.83" cy="519.32" r="2.5" fill="#c4302b"/>
<circle cx="626.36" cy="519.73" r="2.5" fill="#c4302b"/>
<circle cx="628.89" cy="519.67" r="2.5" fill="#c4302b"/>
<circle cx="631.42" cy="520" r="2.5" fill="#c4302b"/>
<circle cx="633.95" cy="520.73" r="2.5" fill="#c4302b"/>
<circle cx="636.48" cy="520.51" r="2.5" fill="#c4302b"/>
<circle cx="639.01" cy="521.42" r="2.5" fill="#c4302b"/>
<circle cx="641.54" cy="520.92" r="2.5" fill="#c4302b"/>
<circle cx="644.07" cy="521.26" r="2.5" fill="#c4302b"/>
<circle cx="646.6" cy="521.55" r="2.5" fill="#c4302b"/>
<circle cx="649.13" cy="521.38" r="2.5" fill="#c4302b"/>
<circle cx="651.66" cy="521.76" r="2.5" fill="#c4302b"/>
<circle cx="654.19" cy="521.99" r="2.5" fill="#c4302b"/>
<circle cx="656.72" cy="522.19" r="2.5" fill="#c4302b"/>
<circle cx="659.26" cy="522.8" r="2.5" fill="#c4302b"/>
<circle cx="661.79" cy="522.28" r="2.5" fill="#c4302b"/>
<circle cx="664.32" cy="522.45" r="2.5" fill="#c4302b"/>
<circle cx="666.85" cy="523.23" r="2.5" fill="#c4302b"/>
<circle cx="669.38" cy="522.98" r="2.5" fill="#c4302b"/>
<circle cx="671.91" cy="523.88" r="2.5" fill="#c4302b"/>
<circle cx="674.44" cy="523.7" r="2.5" fill="#c4302b"/>
</g>
<rect x="322.3" y="469.2" width="354.7" height="167.1" fill="none" stroke="#222" stroke-width="0.9"/>
<line x1="322.3" y1="598.3" x2="324.3" y2="598.3" stroke="#222" stroke-width="0.8"/>
<line x1="322.3" y1="560.2" x2="325.9" y2="560.2" stroke="#222" stroke-width="0.8"/>
<line x1="322.3" y1="522.1" x2="324.3" y2="522.1" stroke="#222" stroke-width="0.8"/>
<line x1="322.3" y1="484" x2="325.9" y2="484" stroke="#222" stroke-width="0.8"/>
<text x="317.4" y="639.8" font-size="9.4" text-anchor="end">0.0</text>
<text x="317.4" y="563.6" font-size="9.4" text-anchor="end">0.5</text>
<text x="317.4" y="487.4" font-size="9.4" text-anchor="end">1.0</text>
<line x1="339.4" y1="636.3" x2="339.4" y2="632.7" stroke="#222" stroke-width="0.8"/>
<text x="339.4" y="649.3" font-size="9.6" text-anchor="middle">0</text>
<line x1="373.14" y1="636.3" x2="373.14" y2="634.3" stroke="#222" stroke-width="0.8"/>
<line x1="406.88" y1="636.3" x2="406.88" y2="632.7" stroke="#222" stroke-width="0.8"/>
<text x="406.88" y="649.3" font-size="9.6" text-anchor="middle">20</text>
<line x1="440.62" y1="636.3" x2="440.62" y2="634.3" stroke="#222" stroke-width="0.8"/>
<line x1="474.36" y1="636.3" x2="474.36" y2="632.7" stroke="#222" stroke-width="0.8"/>
<text x="474.36" y="649.3" font-size="9.6" text-anchor="middle">40</text>
<line x1="508.1" y1="636.3" x2="508.1" y2="634.3" stroke="#222" stroke-width="0.8"/>
<line x1="541.84" y1="636.3" x2="541.84" y2="632.7" stroke="#222" stroke-width="0.8"/>
<text x="541.84" y="649.3" font-size="9.6" text-anchor="middle">60</text>
<line x1="575.58" y1="636.3" x2="575.58" y2="634.3" stroke="#222" stroke-width="0.8"/>
<line x1="609.32" y1="636.3" x2="609.32" y2="632.7" stroke="#222" stroke-width="0.8"/>
<text x="609.32" y="649.3" font-size="9.6" text-anchor="middle">80</text>
<line x1="643.06" y1="636.3" x2="643.06" y2="634.3" stroke="#222" stroke-width="0.8"/>
<line x1="676.8" y1="636.3" x2="676.8" y2="632.7" stroke="#222" stroke-width="0.8"/>
<text x="676.8" y="649.3" font-size="9.6" text-anchor="middle">100</text>
<text x="499.5" y="665.2" font-size="9.4" text-anchor="middle">Time (min)</text>
<text transform="translate(299,552.8) rotate(-90)" font-size="9.5" text-anchor="middle">Intensity (norm.)</text>
<circle cx="375" cy="588.8" r="3.1" fill="#3a9499"/>
<text x="388.7" y="592.2" font-size="9.4">OA</text>
<circle cx="375" cy="600.6" r="3.1" fill="#b5a6a5"/>
<text x="388.7" y="604" font-size="9.4">OctOA</text>
<circle cx="375" cy="612.4" r="3.1" fill="#c4302b"/>
<text x="388.7" y="615.8" font-size="9.4">DEHP</text></svg></body></html>
